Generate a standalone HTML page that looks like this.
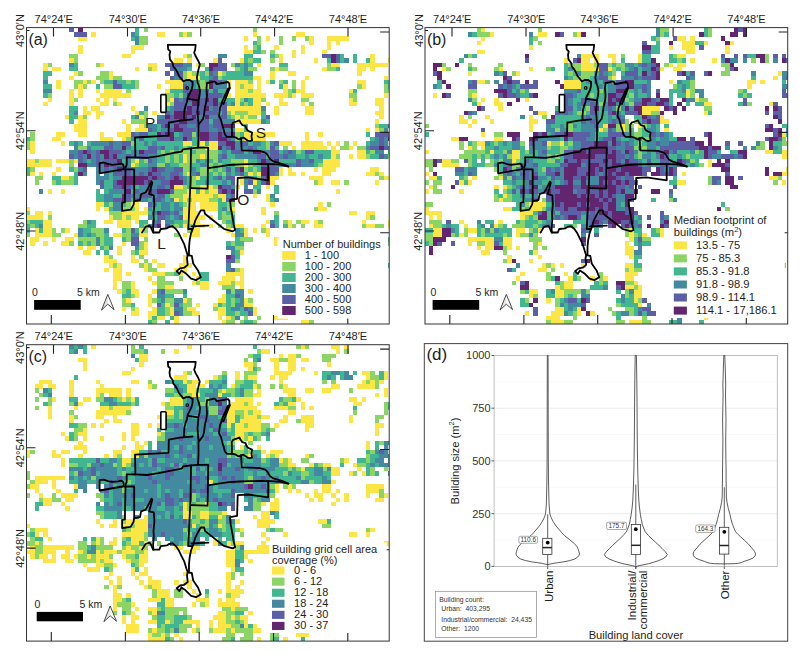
<!DOCTYPE html>
<html><head><meta charset="utf-8"><style>html,body{margin:0;padding:0;background:#fff;width:799px;height:651px;overflow:hidden}svg{display:block}</style></head>
<body><svg width="799" height="651" viewBox="0 0 799 651" font-family="Liberation Sans, sans-serif"><rect width="799" height="651" fill="#fff"/><clipPath id="clipa"><rect x="26.5" y="27.6" width="362.7" height="296.4"/></clipPath><g clip-path="url(#clipa)" shape-rendering="crispEdges"><path fill="#fce645" d="M91.27 32.10h4.41v4.41h-4.41zM161.06 32.10h4.41v4.41h-4.41zM156.70 32.10h4.41v4.41h-4.41zM182.87 32.10h4.41v4.41h-4.41zM252.66 32.10h4.41v4.41h-4.41zM300.65 32.10h4.41v4.41h-4.41zM296.28 32.10h4.41v4.41h-4.41zM78.18 36.46h4.41v4.41h-4.41zM82.55 36.46h4.41v4.41h-4.41zM243.94 36.46h4.41v4.41h-4.41zM265.75 36.46h4.41v4.41h-4.41zM309.37 36.46h4.41v4.41h-4.41zM309.37 40.83h4.41v4.41h-4.41zM326.82 40.83h4.41v4.41h-4.41zM326.82 36.46h4.41v4.41h-4.41zM331.18 36.46h4.41v4.41h-4.41zM335.54 36.46h4.41v4.41h-4.41zM335.54 40.83h4.41v4.41h-4.41zM344.27 36.46h4.41v4.41h-4.41zM339.90 36.46h4.41v4.41h-4.41zM78.18 49.55h4.41v4.41h-4.41zM78.18 45.19h4.41v4.41h-4.41zM130.53 45.19h4.41v4.41h-4.41zM134.89 45.19h4.41v4.41h-4.41zM130.53 49.55h4.41v4.41h-4.41zM139.25 45.19h4.41v4.41h-4.41zM243.94 45.19h4.41v4.41h-4.41zM243.94 49.55h4.41v4.41h-4.41zM248.30 49.55h4.41v4.41h-4.41zM274.47 45.19h4.41v4.41h-4.41zM291.92 49.55h4.41v4.41h-4.41zM300.65 45.19h4.41v4.41h-4.41zM300.65 49.55h4.41v4.41h-4.41zM326.82 45.19h4.41v4.41h-4.41zM322.46 49.55h4.41v4.41h-4.41zM69.46 58.27h4.41v4.41h-4.41zM121.80 53.91h4.41v4.41h-4.41zM126.17 53.91h4.41v4.41h-4.41zM174.15 58.27h4.41v4.41h-4.41zM178.51 58.27h4.41v4.41h-4.41zM182.87 53.91h4.41v4.41h-4.41zM187.23 58.27h4.41v4.41h-4.41zM213.41 58.27h4.41v4.41h-4.41zM239.58 58.27h4.41v4.41h-4.41zM278.84 53.91h4.41v4.41h-4.41zM278.84 58.27h4.41v4.41h-4.41zM291.92 53.91h4.41v4.41h-4.41zM313.73 58.27h4.41v4.41h-4.41zM370.44 53.91h4.41v4.41h-4.41zM370.44 58.27h4.41v4.41h-4.41zM387.89 58.27h4.41v4.41h-4.41zM43.29 62.64h4.41v4.41h-4.41zM43.29 67.00h4.41v4.41h-4.41zM52.01 67.00h4.41v4.41h-4.41zM56.37 67.00h4.41v4.41h-4.41zM99.99 62.64h4.41v4.41h-4.41zM134.89 67.00h4.41v4.41h-4.41zM147.98 62.64h4.41v4.41h-4.41zM152.34 62.64h4.41v4.41h-4.41zM152.34 67.00h4.41v4.41h-4.41zM195.96 62.64h4.41v4.41h-4.41zM257.03 62.64h4.41v4.41h-4.41zM274.47 67.00h4.41v4.41h-4.41zM322.46 67.00h4.41v4.41h-4.41zM331.18 62.64h4.41v4.41h-4.41zM335.54 62.64h4.41v4.41h-4.41zM357.35 62.64h4.41v4.41h-4.41zM361.71 62.64h4.41v4.41h-4.41zM357.35 67.00h4.41v4.41h-4.41zM361.71 67.00h4.41v4.41h-4.41zM366.08 62.64h4.41v4.41h-4.41zM370.44 62.64h4.41v4.41h-4.41zM370.44 67.00h4.41v4.41h-4.41zM374.80 62.64h4.41v4.41h-4.41zM379.16 62.64h4.41v4.41h-4.41zM383.52 62.64h4.41v4.41h-4.41zM73.82 71.36h4.41v4.41h-4.41zM69.46 75.72h4.41v4.41h-4.41zM108.72 71.36h4.41v4.41h-4.41zM108.72 75.72h4.41v4.41h-4.41zM187.23 71.36h4.41v4.41h-4.41zM187.23 75.72h4.41v4.41h-4.41zM191.60 75.72h4.41v4.41h-4.41zM195.96 75.72h4.41v4.41h-4.41zM217.77 71.36h4.41v4.41h-4.41zM252.66 75.72h4.41v4.41h-4.41zM257.03 75.72h4.41v4.41h-4.41zM270.11 71.36h4.41v4.41h-4.41zM270.11 75.72h4.41v4.41h-4.41zM291.92 71.36h4.41v4.41h-4.41zM287.56 71.36h4.41v4.41h-4.41zM305.01 75.72h4.41v4.41h-4.41zM357.35 71.36h4.41v4.41h-4.41zM383.52 75.72h4.41v4.41h-4.41zM56.37 80.08h4.41v4.41h-4.41zM56.37 84.45h4.41v4.41h-4.41zM82.55 80.08h4.41v4.41h-4.41zM78.18 84.45h4.41v4.41h-4.41zM91.27 80.08h4.41v4.41h-4.41zM156.70 84.45h4.41v4.41h-4.41zM165.42 80.08h4.41v4.41h-4.41zM169.79 80.08h4.41v4.41h-4.41zM169.79 84.45h4.41v4.41h-4.41zM174.15 80.08h4.41v4.41h-4.41zM178.51 80.08h4.41v4.41h-4.41zM174.15 84.45h4.41v4.41h-4.41zM178.51 84.45h4.41v4.41h-4.41zM226.49 84.45h4.41v4.41h-4.41zM226.49 80.08h4.41v4.41h-4.41zM235.22 80.08h4.41v4.41h-4.41zM239.58 80.08h4.41v4.41h-4.41zM235.22 84.45h4.41v4.41h-4.41zM243.94 80.08h4.41v4.41h-4.41zM243.94 84.45h4.41v4.41h-4.41zM248.30 84.45h4.41v4.41h-4.41zM257.03 84.45h4.41v4.41h-4.41zM257.03 80.08h4.41v4.41h-4.41zM265.75 80.08h4.41v4.41h-4.41zM283.20 84.45h4.41v4.41h-4.41zM300.65 84.45h4.41v4.41h-4.41zM300.65 80.08h4.41v4.41h-4.41zM357.35 80.08h4.41v4.41h-4.41zM361.71 80.08h4.41v4.41h-4.41zM361.71 84.45h4.41v4.41h-4.41zM69.46 88.81h4.41v4.41h-4.41zM69.46 93.17h4.41v4.41h-4.41zM78.18 88.81h4.41v4.41h-4.41zM78.18 93.17h4.41v4.41h-4.41zM95.63 88.81h4.41v4.41h-4.41zM99.99 93.17h4.41v4.41h-4.41zM104.36 88.81h4.41v4.41h-4.41zM108.72 88.81h4.41v4.41h-4.41zM104.36 93.17h4.41v4.41h-4.41zM108.72 93.17h4.41v4.41h-4.41zM113.08 88.81h4.41v4.41h-4.41zM117.44 88.81h4.41v4.41h-4.41zM113.08 93.17h4.41v4.41h-4.41zM117.44 93.17h4.41v4.41h-4.41zM121.80 93.17h4.41v4.41h-4.41zM126.17 93.17h4.41v4.41h-4.41zM165.42 88.81h4.41v4.41h-4.41zM226.49 93.17h4.41v4.41h-4.41zM235.22 88.81h4.41v4.41h-4.41zM239.58 88.81h4.41v4.41h-4.41zM235.22 93.17h4.41v4.41h-4.41zM239.58 93.17h4.41v4.41h-4.41zM243.94 88.81h4.41v4.41h-4.41zM243.94 93.17h4.41v4.41h-4.41zM248.30 93.17h4.41v4.41h-4.41zM252.66 88.81h4.41v4.41h-4.41zM257.03 88.81h4.41v4.41h-4.41zM252.66 93.17h4.41v4.41h-4.41zM257.03 93.17h4.41v4.41h-4.41zM261.39 93.17h4.41v4.41h-4.41zM274.47 93.17h4.41v4.41h-4.41zM283.20 88.81h4.41v4.41h-4.41zM278.84 93.17h4.41v4.41h-4.41zM283.20 93.17h4.41v4.41h-4.41zM291.92 93.17h4.41v4.41h-4.41zM296.28 88.81h4.41v4.41h-4.41zM300.65 88.81h4.41v4.41h-4.41zM300.65 93.17h4.41v4.41h-4.41zM305.01 93.17h4.41v4.41h-4.41zM309.37 93.17h4.41v4.41h-4.41zM348.63 88.81h4.41v4.41h-4.41zM383.52 93.17h4.41v4.41h-4.41zM43.29 101.89h4.41v4.41h-4.41zM47.65 97.53h4.41v4.41h-4.41zM69.46 97.53h4.41v4.41h-4.41zM69.46 101.89h4.41v4.41h-4.41zM95.63 97.53h4.41v4.41h-4.41zM99.99 101.89h4.41v4.41h-4.41zM104.36 101.89h4.41v4.41h-4.41zM104.36 97.53h4.41v4.41h-4.41zM113.08 97.53h4.41v4.41h-4.41zM117.44 101.89h4.41v4.41h-4.41zM161.06 97.53h4.41v4.41h-4.41zM169.79 97.53h4.41v4.41h-4.41zM165.42 101.89h4.41v4.41h-4.41zM235.22 97.53h4.41v4.41h-4.41zM235.22 101.89h4.41v4.41h-4.41zM252.66 97.53h4.41v4.41h-4.41zM257.03 97.53h4.41v4.41h-4.41zM252.66 101.89h4.41v4.41h-4.41zM257.03 101.89h4.41v4.41h-4.41zM265.75 101.89h4.41v4.41h-4.41zM278.84 97.53h4.41v4.41h-4.41zM278.84 101.89h4.41v4.41h-4.41zM283.20 101.89h4.41v4.41h-4.41zM300.65 101.89h4.41v4.41h-4.41zM348.63 97.53h4.41v4.41h-4.41zM348.63 101.89h4.41v4.41h-4.41zM352.99 101.89h4.41v4.41h-4.41zM374.80 97.53h4.41v4.41h-4.41zM379.16 97.53h4.41v4.41h-4.41zM374.80 101.89h4.41v4.41h-4.41zM379.16 101.89h4.41v4.41h-4.41zM82.55 106.26h4.41v4.41h-4.41zM82.55 110.62h4.41v4.41h-4.41zM86.91 110.62h4.41v4.41h-4.41zM91.27 106.26h4.41v4.41h-4.41zM95.63 106.26h4.41v4.41h-4.41zM95.63 110.62h4.41v4.41h-4.41zM99.99 110.62h4.41v4.41h-4.41zM134.89 110.62h4.41v4.41h-4.41zM130.53 106.26h4.41v4.41h-4.41zM152.34 110.62h4.41v4.41h-4.41zM161.06 106.26h4.41v4.41h-4.41zM226.49 106.26h4.41v4.41h-4.41zM230.85 106.26h4.41v4.41h-4.41zM230.85 110.62h4.41v4.41h-4.41zM235.22 106.26h4.41v4.41h-4.41zM239.58 106.26h4.41v4.41h-4.41zM243.94 106.26h4.41v4.41h-4.41zM248.30 106.26h4.41v4.41h-4.41zM248.30 110.62h4.41v4.41h-4.41zM252.66 106.26h4.41v4.41h-4.41zM257.03 106.26h4.41v4.41h-4.41zM252.66 110.62h4.41v4.41h-4.41zM257.03 110.62h4.41v4.41h-4.41zM274.47 110.62h4.41v4.41h-4.41zM274.47 106.26h4.41v4.41h-4.41zM305.01 106.26h4.41v4.41h-4.41zM309.37 106.26h4.41v4.41h-4.41zM305.01 110.62h4.41v4.41h-4.41zM309.37 110.62h4.41v4.41h-4.41zM379.16 106.26h4.41v4.41h-4.41zM374.80 110.62h4.41v4.41h-4.41zM379.16 110.62h4.41v4.41h-4.41zM65.10 114.98h4.41v4.41h-4.41zM78.18 114.98h4.41v4.41h-4.41zM78.18 119.34h4.41v4.41h-4.41zM82.55 119.34h4.41v4.41h-4.41zM95.63 114.98h4.41v4.41h-4.41zM121.80 119.34h4.41v4.41h-4.41zM139.25 114.98h4.41v4.41h-4.41zM235.22 114.98h4.41v4.41h-4.41zM235.22 119.34h4.41v4.41h-4.41zM239.58 119.34h4.41v4.41h-4.41zM243.94 114.98h4.41v4.41h-4.41zM243.94 119.34h4.41v4.41h-4.41zM248.30 119.34h4.41v4.41h-4.41zM252.66 119.34h4.41v4.41h-4.41zM257.03 119.34h4.41v4.41h-4.41zM374.80 119.34h4.41v4.41h-4.41zM379.16 114.98h4.41v4.41h-4.41zM73.82 123.70h4.41v4.41h-4.41zM73.82 128.07h4.41v4.41h-4.41zM78.18 123.70h4.41v4.41h-4.41zM82.55 123.70h4.41v4.41h-4.41zM78.18 128.07h4.41v4.41h-4.41zM82.55 128.07h4.41v4.41h-4.41zM126.17 128.07h4.41v4.41h-4.41zM126.17 123.70h4.41v4.41h-4.41zM134.89 128.07h4.41v4.41h-4.41zM139.25 123.70h4.41v4.41h-4.41zM139.25 128.07h4.41v4.41h-4.41zM143.61 128.07h4.41v4.41h-4.41zM239.58 128.07h4.41v4.41h-4.41zM235.22 128.07h4.41v4.41h-4.41zM366.08 128.07h4.41v4.41h-4.41zM374.80 128.07h4.41v4.41h-4.41zM56.37 132.43h4.41v4.41h-4.41zM52.01 136.79h4.41v4.41h-4.41zM56.37 136.79h4.41v4.41h-4.41zM60.74 132.43h4.41v4.41h-4.41zM82.55 132.43h4.41v4.41h-4.41zM78.18 132.43h4.41v4.41h-4.41zM99.99 132.43h4.41v4.41h-4.41zM99.99 136.79h4.41v4.41h-4.41zM104.36 136.79h4.41v4.41h-4.41zM108.72 136.79h4.41v4.41h-4.41zM117.44 132.43h4.41v4.41h-4.41zM121.80 132.43h4.41v4.41h-4.41zM126.17 132.43h4.41v4.41h-4.41zM121.80 136.79h4.41v4.41h-4.41zM243.94 132.43h4.41v4.41h-4.41zM248.30 132.43h4.41v4.41h-4.41zM243.94 136.79h4.41v4.41h-4.41zM248.30 136.79h4.41v4.41h-4.41zM252.66 132.43h4.41v4.41h-4.41zM257.03 132.43h4.41v4.41h-4.41zM252.66 136.79h4.41v4.41h-4.41zM257.03 136.79h4.41v4.41h-4.41zM261.39 132.43h4.41v4.41h-4.41zM265.75 132.43h4.41v4.41h-4.41zM261.39 136.79h4.41v4.41h-4.41zM270.11 132.43h4.41v4.41h-4.41zM305.01 132.43h4.41v4.41h-4.41zM305.01 136.79h4.41v4.41h-4.41zM318.09 132.43h4.41v4.41h-4.41zM30.20 141.15h4.41v4.41h-4.41zM30.20 145.51h4.41v4.41h-4.41zM60.74 141.15h4.41v4.41h-4.41zM182.87 141.15h4.41v4.41h-4.41zM187.23 141.15h4.41v4.41h-4.41zM200.32 141.15h4.41v4.41h-4.41zM204.68 145.51h4.41v4.41h-4.41zM209.04 141.15h4.41v4.41h-4.41zM213.41 141.15h4.41v4.41h-4.41zM209.04 145.51h4.41v4.41h-4.41zM213.41 145.51h4.41v4.41h-4.41zM278.84 141.15h4.41v4.41h-4.41zM283.20 141.15h4.41v4.41h-4.41zM287.56 141.15h4.41v4.41h-4.41zM291.92 145.51h4.41v4.41h-4.41zM300.65 145.51h4.41v4.41h-4.41zM300.65 141.15h4.41v4.41h-4.41zM305.01 141.15h4.41v4.41h-4.41zM309.37 141.15h4.41v4.41h-4.41zM305.01 145.51h4.41v4.41h-4.41zM309.37 145.51h4.41v4.41h-4.41zM313.73 141.15h4.41v4.41h-4.41zM318.09 141.15h4.41v4.41h-4.41zM313.73 145.51h4.41v4.41h-4.41zM318.09 145.51h4.41v4.41h-4.41zM326.82 141.15h4.41v4.41h-4.41zM322.46 145.51h4.41v4.41h-4.41zM331.18 145.51h4.41v4.41h-4.41zM335.54 141.15h4.41v4.41h-4.41zM352.99 141.15h4.41v4.41h-4.41zM348.63 145.51h4.41v4.41h-4.41zM30.20 149.88h4.41v4.41h-4.41zM182.87 154.24h4.41v4.41h-4.41zM200.32 154.24h4.41v4.41h-4.41zM331.18 149.88h4.41v4.41h-4.41zM335.54 149.88h4.41v4.41h-4.41zM331.18 154.24h4.41v4.41h-4.41zM348.63 154.24h4.41v4.41h-4.41zM357.35 149.88h4.41v4.41h-4.41zM361.71 149.88h4.41v4.41h-4.41zM357.35 154.24h4.41v4.41h-4.41zM361.71 154.24h4.41v4.41h-4.41zM25.84 158.60h4.41v4.41h-4.41zM30.20 158.60h4.41v4.41h-4.41zM25.84 162.96h4.41v4.41h-4.41zM30.20 162.96h4.41v4.41h-4.41zM38.93 158.60h4.41v4.41h-4.41zM34.56 162.96h4.41v4.41h-4.41zM38.93 162.96h4.41v4.41h-4.41zM43.29 158.60h4.41v4.41h-4.41zM47.65 158.60h4.41v4.41h-4.41zM43.29 162.96h4.41v4.41h-4.41zM47.65 162.96h4.41v4.41h-4.41zM56.37 158.60h4.41v4.41h-4.41zM65.10 158.60h4.41v4.41h-4.41zM60.74 158.60h4.41v4.41h-4.41zM73.82 158.60h4.41v4.41h-4.41zM134.89 158.60h4.41v4.41h-4.41zM130.53 162.96h4.41v4.41h-4.41zM182.87 158.60h4.41v4.41h-4.41zM243.94 158.60h4.41v4.41h-4.41zM243.94 162.96h4.41v4.41h-4.41zM322.46 158.60h4.41v4.41h-4.41zM326.82 158.60h4.41v4.41h-4.41zM322.46 162.96h4.41v4.41h-4.41zM326.82 162.96h4.41v4.41h-4.41zM331.18 158.60h4.41v4.41h-4.41zM335.54 158.60h4.41v4.41h-4.41zM331.18 162.96h4.41v4.41h-4.41zM335.54 162.96h4.41v4.41h-4.41zM30.20 171.69h4.41v4.41h-4.41zM38.93 171.69h4.41v4.41h-4.41zM52.01 171.69h4.41v4.41h-4.41zM56.37 167.32h4.41v4.41h-4.41zM187.23 171.69h4.41v4.41h-4.41zM248.30 171.69h4.41v4.41h-4.41zM257.03 171.69h4.41v4.41h-4.41zM278.84 167.32h4.41v4.41h-4.41zM278.84 171.69h4.41v4.41h-4.41zM287.56 167.32h4.41v4.41h-4.41zM287.56 171.69h4.41v4.41h-4.41zM291.92 171.69h4.41v4.41h-4.41zM300.65 171.69h4.41v4.41h-4.41zM313.73 167.32h4.41v4.41h-4.41zM322.46 167.32h4.41v4.41h-4.41zM326.82 167.32h4.41v4.41h-4.41zM322.46 171.69h4.41v4.41h-4.41zM326.82 171.69h4.41v4.41h-4.41zM331.18 167.32h4.41v4.41h-4.41zM370.44 167.32h4.41v4.41h-4.41zM366.08 171.69h4.41v4.41h-4.41zM370.44 171.69h4.41v4.41h-4.41zM374.80 167.32h4.41v4.41h-4.41zM379.16 171.69h4.41v4.41h-4.41zM60.74 176.05h4.41v4.41h-4.41zM65.10 176.05h4.41v4.41h-4.41zM195.96 176.05h4.41v4.41h-4.41zM239.58 176.05h4.41v4.41h-4.41zM239.58 180.41h4.41v4.41h-4.41zM252.66 180.41h4.41v4.41h-4.41zM270.11 176.05h4.41v4.41h-4.41zM274.47 176.05h4.41v4.41h-4.41zM270.11 180.41h4.41v4.41h-4.41zM309.37 176.05h4.41v4.41h-4.41zM313.73 176.05h4.41v4.41h-4.41zM318.09 176.05h4.41v4.41h-4.41zM318.09 180.41h4.41v4.41h-4.41zM331.18 180.41h4.41v4.41h-4.41zM335.54 180.41h4.41v4.41h-4.41zM374.80 180.41h4.41v4.41h-4.41zM383.52 176.05h4.41v4.41h-4.41zM387.89 176.05h4.41v4.41h-4.41zM47.65 189.13h4.41v4.41h-4.41zM60.74 189.13h4.41v4.41h-4.41zM174.15 184.77h4.41v4.41h-4.41zM178.51 184.77h4.41v4.41h-4.41zM187.23 189.13h4.41v4.41h-4.41zM191.60 189.13h4.41v4.41h-4.41zM200.32 184.77h4.41v4.41h-4.41zM204.68 184.77h4.41v4.41h-4.41zM200.32 189.13h4.41v4.41h-4.41zM209.04 184.77h4.41v4.41h-4.41zM209.04 189.13h4.41v4.41h-4.41zM213.41 189.13h4.41v4.41h-4.41zM235.22 184.77h4.41v4.41h-4.41zM265.75 184.77h4.41v4.41h-4.41zM335.54 189.13h4.41v4.41h-4.41zM174.15 197.86h4.41v4.41h-4.41zM182.87 193.50h4.41v4.41h-4.41zM187.23 193.50h4.41v4.41h-4.41zM182.87 197.86h4.41v4.41h-4.41zM191.60 193.50h4.41v4.41h-4.41zM195.96 193.50h4.41v4.41h-4.41zM191.60 197.86h4.41v4.41h-4.41zM195.96 197.86h4.41v4.41h-4.41zM200.32 193.50h4.41v4.41h-4.41zM204.68 193.50h4.41v4.41h-4.41zM200.32 197.86h4.41v4.41h-4.41zM204.68 197.86h4.41v4.41h-4.41zM209.04 193.50h4.41v4.41h-4.41zM217.77 193.50h4.41v4.41h-4.41zM222.13 193.50h4.41v4.41h-4.41zM222.13 197.86h4.41v4.41h-4.41zM252.66 193.50h4.41v4.41h-4.41zM265.75 197.86h4.41v4.41h-4.41zM265.75 193.50h4.41v4.41h-4.41zM25.84 206.58h4.41v4.41h-4.41zM95.63 202.22h4.41v4.41h-4.41zM99.99 202.22h4.41v4.41h-4.41zM95.63 206.58h4.41v4.41h-4.41zM104.36 206.58h4.41v4.41h-4.41zM130.53 202.22h4.41v4.41h-4.41zM134.89 202.22h4.41v4.41h-4.41zM134.89 206.58h4.41v4.41h-4.41zM143.61 206.58h4.41v4.41h-4.41zM187.23 202.22h4.41v4.41h-4.41zM182.87 206.58h4.41v4.41h-4.41zM187.23 206.58h4.41v4.41h-4.41zM191.60 202.22h4.41v4.41h-4.41zM191.60 206.58h4.41v4.41h-4.41zM200.32 202.22h4.41v4.41h-4.41zM204.68 202.22h4.41v4.41h-4.41zM200.32 206.58h4.41v4.41h-4.41zM204.68 206.58h4.41v4.41h-4.41zM209.04 202.22h4.41v4.41h-4.41zM213.41 202.22h4.41v4.41h-4.41zM209.04 206.58h4.41v4.41h-4.41zM213.41 206.58h4.41v4.41h-4.41zM230.85 206.58h4.41v4.41h-4.41zM261.39 206.58h4.41v4.41h-4.41zM270.11 202.22h4.41v4.41h-4.41zM318.09 202.22h4.41v4.41h-4.41zM318.09 206.58h4.41v4.41h-4.41zM322.46 206.58h4.41v4.41h-4.41zM25.84 215.31h4.41v4.41h-4.41zM30.20 215.31h4.41v4.41h-4.41zM34.56 210.94h4.41v4.41h-4.41zM38.93 210.94h4.41v4.41h-4.41zM34.56 215.31h4.41v4.41h-4.41zM38.93 215.31h4.41v4.41h-4.41zM47.65 210.94h4.41v4.41h-4.41zM108.72 215.31h4.41v4.41h-4.41zM121.80 210.94h4.41v4.41h-4.41zM126.17 210.94h4.41v4.41h-4.41zM121.80 215.31h4.41v4.41h-4.41zM130.53 210.94h4.41v4.41h-4.41zM134.89 210.94h4.41v4.41h-4.41zM130.53 215.31h4.41v4.41h-4.41zM134.89 215.31h4.41v4.41h-4.41zM139.25 210.94h4.41v4.41h-4.41zM143.61 210.94h4.41v4.41h-4.41zM182.87 210.94h4.41v4.41h-4.41zM187.23 210.94h4.41v4.41h-4.41zM182.87 215.31h4.41v4.41h-4.41zM187.23 215.31h4.41v4.41h-4.41zM191.60 210.94h4.41v4.41h-4.41zM195.96 210.94h4.41v4.41h-4.41zM191.60 215.31h4.41v4.41h-4.41zM195.96 215.31h4.41v4.41h-4.41zM200.32 215.31h4.41v4.41h-4.41zM209.04 215.31h4.41v4.41h-4.41zM261.39 210.94h4.41v4.41h-4.41zM352.99 210.94h4.41v4.41h-4.41zM348.63 210.94h4.41v4.41h-4.41zM366.08 210.94h4.41v4.41h-4.41zM370.44 210.94h4.41v4.41h-4.41zM366.08 215.31h4.41v4.41h-4.41zM43.29 219.67h4.41v4.41h-4.41zM47.65 219.67h4.41v4.41h-4.41zM43.29 224.03h4.41v4.41h-4.41zM47.65 224.03h4.41v4.41h-4.41zM108.72 219.67h4.41v4.41h-4.41zM104.36 219.67h4.41v4.41h-4.41zM117.44 224.03h4.41v4.41h-4.41zM117.44 219.67h4.41v4.41h-4.41zM121.80 219.67h4.41v4.41h-4.41zM126.17 219.67h4.41v4.41h-4.41zM121.80 224.03h4.41v4.41h-4.41zM126.17 224.03h4.41v4.41h-4.41zM134.89 219.67h4.41v4.41h-4.41zM187.23 219.67h4.41v4.41h-4.41zM182.87 224.03h4.41v4.41h-4.41zM191.60 219.67h4.41v4.41h-4.41zM195.96 219.67h4.41v4.41h-4.41zM195.96 224.03h4.41v4.41h-4.41zM200.32 224.03h4.41v4.41h-4.41zM209.04 224.03h4.41v4.41h-4.41zM239.58 224.03h4.41v4.41h-4.41zM235.22 224.03h4.41v4.41h-4.41zM265.75 219.67h4.41v4.41h-4.41zM261.39 224.03h4.41v4.41h-4.41zM287.56 219.67h4.41v4.41h-4.41zM287.56 224.03h4.41v4.41h-4.41zM300.65 219.67h4.41v4.41h-4.41zM305.01 219.67h4.41v4.41h-4.41zM313.73 219.67h4.41v4.41h-4.41zM313.73 224.03h4.41v4.41h-4.41zM318.09 224.03h4.41v4.41h-4.41zM361.71 219.67h4.41v4.41h-4.41zM366.08 224.03h4.41v4.41h-4.41zM370.44 224.03h4.41v4.41h-4.41zM387.89 219.67h4.41v4.41h-4.41zM387.89 224.03h4.41v4.41h-4.41zM34.56 228.39h4.41v4.41h-4.41zM34.56 232.75h4.41v4.41h-4.41zM38.93 232.75h4.41v4.41h-4.41zM43.29 228.39h4.41v4.41h-4.41zM47.65 228.39h4.41v4.41h-4.41zM43.29 232.75h4.41v4.41h-4.41zM47.65 232.75h4.41v4.41h-4.41zM65.10 228.39h4.41v4.41h-4.41zM73.82 232.75h4.41v4.41h-4.41zM117.44 232.75h4.41v4.41h-4.41zM113.08 232.75h4.41v4.41h-4.41zM139.25 228.39h4.41v4.41h-4.41zM139.25 232.75h4.41v4.41h-4.41zM143.61 232.75h4.41v4.41h-4.41zM182.87 232.75h4.41v4.41h-4.41zM191.60 228.39h4.41v4.41h-4.41zM195.96 228.39h4.41v4.41h-4.41zM191.60 232.75h4.41v4.41h-4.41zM195.96 232.75h4.41v4.41h-4.41zM226.49 228.39h4.41v4.41h-4.41zM230.85 232.75h4.41v4.41h-4.41zM243.94 228.39h4.41v4.41h-4.41zM243.94 232.75h4.41v4.41h-4.41zM252.66 228.39h4.41v4.41h-4.41zM265.75 228.39h4.41v4.41h-4.41zM265.75 232.75h4.41v4.41h-4.41zM30.20 237.12h4.41v4.41h-4.41zM30.20 241.48h4.41v4.41h-4.41zM34.56 237.12h4.41v4.41h-4.41zM43.29 241.48h4.41v4.41h-4.41zM52.01 237.12h4.41v4.41h-4.41zM65.10 237.12h4.41v4.41h-4.41zM60.74 241.48h4.41v4.41h-4.41zM65.10 241.48h4.41v4.41h-4.41zM69.46 237.12h4.41v4.41h-4.41zM121.80 241.48h4.41v4.41h-4.41zM143.61 241.48h4.41v4.41h-4.41zM274.47 237.12h4.41v4.41h-4.41zM274.47 241.48h4.41v4.41h-4.41zM78.18 245.84h4.41v4.41h-4.41zM82.55 250.20h4.41v4.41h-4.41zM86.91 245.84h4.41v4.41h-4.41zM91.27 245.84h4.41v4.41h-4.41zM86.91 250.20h4.41v4.41h-4.41zM117.44 245.84h4.41v4.41h-4.41zM117.44 250.20h4.41v4.41h-4.41zM143.61 245.84h4.41v4.41h-4.41zM139.25 250.20h4.41v4.41h-4.41zM143.61 250.20h4.41v4.41h-4.41zM239.58 250.20h4.41v4.41h-4.41zM104.36 254.56h4.41v4.41h-4.41zM104.36 258.93h4.41v4.41h-4.41zM108.72 258.93h4.41v4.41h-4.41zM113.08 258.93h4.41v4.41h-4.41zM130.53 254.56h4.41v4.41h-4.41zM130.53 258.93h4.41v4.41h-4.41zM134.89 258.93h4.41v4.41h-4.41zM152.34 258.93h4.41v4.41h-4.41zM182.87 258.93h4.41v4.41h-4.41zM182.87 254.56h4.41v4.41h-4.41zM104.36 267.65h4.41v4.41h-4.41zM108.72 263.29h4.41v4.41h-4.41zM117.44 263.29h4.41v4.41h-4.41zM113.08 267.65h4.41v4.41h-4.41zM117.44 267.65h4.41v4.41h-4.41zM143.61 263.29h4.41v4.41h-4.41zM143.61 267.65h4.41v4.41h-4.41zM156.70 263.29h4.41v4.41h-4.41zM161.06 263.29h4.41v4.41h-4.41zM174.15 267.65h4.41v4.41h-4.41zM178.51 263.29h4.41v4.41h-4.41zM182.87 263.29h4.41v4.41h-4.41zM187.23 263.29h4.41v4.41h-4.41zM182.87 267.65h4.41v4.41h-4.41zM239.58 267.65h4.41v4.41h-4.41zM113.08 272.01h4.41v4.41h-4.41zM117.44 272.01h4.41v4.41h-4.41zM113.08 276.37h4.41v4.41h-4.41zM117.44 276.37h4.41v4.41h-4.41zM126.17 272.01h4.41v4.41h-4.41zM152.34 272.01h4.41v4.41h-4.41zM147.98 276.37h4.41v4.41h-4.41zM156.70 272.01h4.41v4.41h-4.41zM161.06 272.01h4.41v4.41h-4.41zM178.51 272.01h4.41v4.41h-4.41zM191.60 272.01h4.41v4.41h-4.41zM195.96 276.37h4.41v4.41h-4.41zM222.13 276.37h4.41v4.41h-4.41zM226.49 272.01h4.41v4.41h-4.41zM230.85 272.01h4.41v4.41h-4.41zM226.49 276.37h4.41v4.41h-4.41zM230.85 276.37h4.41v4.41h-4.41zM235.22 272.01h4.41v4.41h-4.41zM239.58 272.01h4.41v4.41h-4.41zM239.58 276.37h4.41v4.41h-4.41zM113.08 280.74h4.41v4.41h-4.41zM113.08 285.10h4.41v4.41h-4.41zM130.53 285.10h4.41v4.41h-4.41zM130.53 280.74h4.41v4.41h-4.41zM152.34 280.74h4.41v4.41h-4.41zM165.42 285.10h4.41v4.41h-4.41zM169.79 285.10h4.41v4.41h-4.41zM191.60 280.74h4.41v4.41h-4.41zM200.32 280.74h4.41v4.41h-4.41zM204.68 280.74h4.41v4.41h-4.41zM200.32 285.10h4.41v4.41h-4.41zM204.68 285.10h4.41v4.41h-4.41zM217.77 280.74h4.41v4.41h-4.41zM222.13 280.74h4.41v4.41h-4.41zM226.49 280.74h4.41v4.41h-4.41zM235.22 280.74h4.41v4.41h-4.41zM239.58 280.74h4.41v4.41h-4.41zM239.58 285.10h4.41v4.41h-4.41zM117.44 289.46h4.41v4.41h-4.41zM130.53 289.46h4.41v4.41h-4.41zM134.89 289.46h4.41v4.41h-4.41zM134.89 293.82h4.41v4.41h-4.41zM152.34 289.46h4.41v4.41h-4.41zM147.98 293.82h4.41v4.41h-4.41zM222.13 293.82h4.41v4.41h-4.41zM248.30 289.46h4.41v4.41h-4.41zM126.17 298.18h4.41v4.41h-4.41zM147.98 298.18h4.41v4.41h-4.41zM147.98 302.55h4.41v4.41h-4.41zM165.42 302.55h4.41v4.41h-4.41zM182.87 298.18h4.41v4.41h-4.41zM195.96 302.55h4.41v4.41h-4.41zM213.41 302.55h4.41v4.41h-4.41zM217.77 298.18h4.41v4.41h-4.41zM222.13 298.18h4.41v4.41h-4.41zM243.94 298.18h4.41v4.41h-4.41zM243.94 302.55h4.41v4.41h-4.41zM248.30 302.55h4.41v4.41h-4.41zM121.80 306.91h4.41v4.41h-4.41zM134.89 306.91h4.41v4.41h-4.41zM130.53 311.27h4.41v4.41h-4.41zM134.89 311.27h4.41v4.41h-4.41zM152.34 306.91h4.41v4.41h-4.41zM147.98 311.27h4.41v4.41h-4.41zM152.34 311.27h4.41v4.41h-4.41zM169.79 306.91h4.41v4.41h-4.41zM169.79 311.27h4.41v4.41h-4.41zM187.23 306.91h4.41v4.41h-4.41zM191.60 306.91h4.41v4.41h-4.41zM191.60 311.27h4.41v4.41h-4.41zM195.96 311.27h4.41v4.41h-4.41zM217.77 306.91h4.41v4.41h-4.41zM222.13 306.91h4.41v4.41h-4.41zM217.77 311.27h4.41v4.41h-4.41zM222.13 311.27h4.41v4.41h-4.41zM252.66 306.91h4.41v4.41h-4.41zM252.66 311.27h4.41v4.41h-4.41zM147.98 315.63h4.41v4.41h-4.41zM156.70 315.63h4.41v4.41h-4.41zM161.06 315.63h4.41v4.41h-4.41zM174.15 315.63h4.41v4.41h-4.41zM174.15 319.99h4.41v4.41h-4.41zM217.77 315.63h4.41v4.41h-4.41zM222.13 319.99h4.41v4.41h-4.41zM226.49 315.63h4.41v4.41h-4.41zM274.47 315.63h4.41v4.41h-4.41zM283.20 315.63h4.41v4.41h-4.41zM278.84 315.63h4.41v4.41h-4.41zM300.65 319.99h4.41v4.41h-4.41zM305.01 319.99h4.41v4.41h-4.41z"/><path fill="#8bd567" d="M143.61 27.74h4.41v4.41h-4.41zM178.51 32.10h4.41v4.41h-4.41zM187.23 32.10h4.41v4.41h-4.41zM252.66 27.74h4.41v4.41h-4.41zM139.25 36.46h4.41v4.41h-4.41zM143.61 36.46h4.41v4.41h-4.41zM139.25 40.83h4.41v4.41h-4.41zM143.61 40.83h4.41v4.41h-4.41zM257.03 36.46h4.41v4.41h-4.41zM257.03 40.83h4.41v4.41h-4.41zM278.84 36.46h4.41v4.41h-4.41zM278.84 40.83h4.41v4.41h-4.41zM291.92 36.46h4.41v4.41h-4.41zM305.01 36.46h4.41v4.41h-4.41zM252.66 45.19h4.41v4.41h-4.41zM261.39 49.55h4.41v4.41h-4.41zM270.11 49.55h4.41v4.41h-4.41zM69.46 53.91h4.41v4.41h-4.41zM73.82 53.91h4.41v4.41h-4.41zM73.82 58.27h4.41v4.41h-4.41zM187.23 53.91h4.41v4.41h-4.41zM248.30 58.27h4.41v4.41h-4.41zM274.47 53.91h4.41v4.41h-4.41zM270.11 58.27h4.41v4.41h-4.41zM47.65 62.64h4.41v4.41h-4.41zM95.63 62.64h4.41v4.41h-4.41zM147.98 67.00h4.41v4.41h-4.41zM200.32 62.64h4.41v4.41h-4.41zM230.85 62.64h4.41v4.41h-4.41zM235.22 67.00h4.41v4.41h-4.41zM248.30 67.00h4.41v4.41h-4.41zM252.66 67.00h4.41v4.41h-4.41zM270.11 67.00h4.41v4.41h-4.41zM278.84 67.00h4.41v4.41h-4.41zM283.20 67.00h4.41v4.41h-4.41zM326.82 62.64h4.41v4.41h-4.41zM326.82 67.00h4.41v4.41h-4.41zM331.18 67.00h4.41v4.41h-4.41zM78.18 71.36h4.41v4.41h-4.41zM99.99 71.36h4.41v4.41h-4.41zM95.63 75.72h4.41v4.41h-4.41zM99.99 75.72h4.41v4.41h-4.41zM104.36 71.36h4.41v4.41h-4.41zM104.36 75.72h4.41v4.41h-4.41zM113.08 75.72h4.41v4.41h-4.41zM117.44 75.72h4.41v4.41h-4.41zM182.87 71.36h4.41v4.41h-4.41zM182.87 75.72h4.41v4.41h-4.41zM191.60 71.36h4.41v4.41h-4.41zM195.96 71.36h4.41v4.41h-4.41zM204.68 71.36h4.41v4.41h-4.41zM222.13 71.36h4.41v4.41h-4.41zM217.77 75.72h4.41v4.41h-4.41zM73.82 80.08h4.41v4.41h-4.41zM73.82 84.45h4.41v4.41h-4.41zM78.18 80.08h4.41v4.41h-4.41zM82.55 84.45h4.41v4.41h-4.41zM86.91 80.08h4.41v4.41h-4.41zM99.99 80.08h4.41v4.41h-4.41zM104.36 84.45h4.41v4.41h-4.41zM108.72 84.45h4.41v4.41h-4.41zM126.17 80.08h4.41v4.41h-4.41zM134.89 80.08h4.41v4.41h-4.41zM134.89 84.45h4.41v4.41h-4.41zM200.32 80.08h4.41v4.41h-4.41zM200.32 84.45h4.41v4.41h-4.41zM204.68 84.45h4.41v4.41h-4.41zM239.58 84.45h4.41v4.41h-4.41zM248.30 80.08h4.41v4.41h-4.41zM278.84 80.08h4.41v4.41h-4.41zM291.92 80.08h4.41v4.41h-4.41zM291.92 84.45h4.41v4.41h-4.41zM357.35 84.45h4.41v4.41h-4.41zM383.52 84.45h4.41v4.41h-4.41zM47.65 93.17h4.41v4.41h-4.41zM126.17 88.81h4.41v4.41h-4.41zM165.42 93.17h4.41v4.41h-4.41zM169.79 93.17h4.41v4.41h-4.41zM178.51 93.17h4.41v4.41h-4.41zM248.30 88.81h4.41v4.41h-4.41zM287.56 88.81h4.41v4.41h-4.41zM287.56 93.17h4.41v4.41h-4.41zM348.63 93.17h4.41v4.41h-4.41zM352.99 93.17h4.41v4.41h-4.41zM383.52 88.81h4.41v4.41h-4.41zM387.89 88.81h4.41v4.41h-4.41zM73.82 97.53h4.41v4.41h-4.41zM113.08 101.89h4.41v4.41h-4.41zM165.42 97.53h4.41v4.41h-4.41zM169.79 101.89h4.41v4.41h-4.41zM239.58 97.53h4.41v4.41h-4.41zM243.94 101.89h4.41v4.41h-4.41zM261.39 97.53h4.41v4.41h-4.41zM300.65 97.53h4.41v4.41h-4.41zM305.01 97.53h4.41v4.41h-4.41zM309.37 101.89h4.41v4.41h-4.41zM352.99 97.53h4.41v4.41h-4.41zM143.61 110.62h4.41v4.41h-4.41zM226.49 110.62h4.41v4.41h-4.41zM235.22 110.62h4.41v4.41h-4.41zM239.58 110.62h4.41v4.41h-4.41zM243.94 110.62h4.41v4.41h-4.41zM82.55 114.98h4.41v4.41h-4.41zM130.53 119.34h4.41v4.41h-4.41zM134.89 119.34h4.41v4.41h-4.41zM143.61 114.98h4.41v4.41h-4.41zM139.25 119.34h4.41v4.41h-4.41zM143.61 119.34h4.41v4.41h-4.41zM230.85 114.98h4.41v4.41h-4.41zM239.58 114.98h4.41v4.41h-4.41zM248.30 114.98h4.41v4.41h-4.41zM252.66 114.98h4.41v4.41h-4.41zM143.61 123.70h4.41v4.41h-4.41zM374.80 123.70h4.41v4.41h-4.41zM379.16 128.07h4.41v4.41h-4.41zM30.20 132.43h4.41v4.41h-4.41zM30.20 136.79h4.41v4.41h-4.41zM126.17 136.79h4.41v4.41h-4.41zM191.60 132.43h4.41v4.41h-4.41zM235.22 132.43h4.41v4.41h-4.41zM235.22 136.79h4.41v4.41h-4.41zM239.58 136.79h4.41v4.41h-4.41zM25.84 141.15h4.41v4.41h-4.41zM25.84 145.51h4.41v4.41h-4.41zM78.18 145.51h4.41v4.41h-4.41zM82.55 145.51h4.41v4.41h-4.41zM130.53 141.15h4.41v4.41h-4.41zM182.87 145.51h4.41v4.41h-4.41zM191.60 145.51h4.41v4.41h-4.41zM195.96 145.51h4.41v4.41h-4.41zM200.32 145.51h4.41v4.41h-4.41zM265.75 141.15h4.41v4.41h-4.41zM265.75 145.51h4.41v4.41h-4.41zM283.20 145.51h4.41v4.41h-4.41zM344.27 141.15h4.41v4.41h-4.41zM339.90 145.51h4.41v4.41h-4.41zM344.27 145.51h4.41v4.41h-4.41zM357.35 145.51h4.41v4.41h-4.41zM361.71 145.51h4.41v4.41h-4.41zM161.06 149.88h4.41v4.41h-4.41zM169.79 149.88h4.41v4.41h-4.41zM165.42 154.24h4.41v4.41h-4.41zM178.51 149.88h4.41v4.41h-4.41zM174.15 154.24h4.41v4.41h-4.41zM182.87 149.88h4.41v4.41h-4.41zM187.23 149.88h4.41v4.41h-4.41zM187.23 154.24h4.41v4.41h-4.41zM195.96 149.88h4.41v4.41h-4.41zM191.60 154.24h4.41v4.41h-4.41zM195.96 154.24h4.41v4.41h-4.41zM200.32 149.88h4.41v4.41h-4.41zM204.68 149.88h4.41v4.41h-4.41zM204.68 154.24h4.41v4.41h-4.41zM209.04 149.88h4.41v4.41h-4.41zM213.41 149.88h4.41v4.41h-4.41zM209.04 154.24h4.41v4.41h-4.41zM213.41 154.24h4.41v4.41h-4.41zM296.28 149.88h4.41v4.41h-4.41zM335.54 154.24h4.41v4.41h-4.41zM370.44 149.88h4.41v4.41h-4.41zM366.08 154.24h4.41v4.41h-4.41zM387.89 154.24h4.41v4.41h-4.41zM34.56 158.60h4.41v4.41h-4.41zM69.46 158.60h4.41v4.41h-4.41zM69.46 162.96h4.41v4.41h-4.41zM130.53 158.60h4.41v4.41h-4.41zM134.89 162.96h4.41v4.41h-4.41zM143.61 158.60h4.41v4.41h-4.41zM156.70 162.96h4.41v4.41h-4.41zM161.06 162.96h4.41v4.41h-4.41zM165.42 158.60h4.41v4.41h-4.41zM174.15 158.60h4.41v4.41h-4.41zM178.51 162.96h4.41v4.41h-4.41zM187.23 158.60h4.41v4.41h-4.41zM182.87 162.96h4.41v4.41h-4.41zM187.23 162.96h4.41v4.41h-4.41zM191.60 158.60h4.41v4.41h-4.41zM213.41 158.60h4.41v4.41h-4.41zM209.04 162.96h4.41v4.41h-4.41zM217.77 162.96h4.41v4.41h-4.41zM230.85 158.60h4.41v4.41h-4.41zM235.22 158.60h4.41v4.41h-4.41zM239.58 158.60h4.41v4.41h-4.41zM235.22 162.96h4.41v4.41h-4.41zM239.58 162.96h4.41v4.41h-4.41zM248.30 162.96h4.41v4.41h-4.41zM318.09 162.96h4.41v4.41h-4.41zM30.20 167.32h4.41v4.41h-4.41zM73.82 167.32h4.41v4.41h-4.41zM182.87 167.32h4.41v4.41h-4.41zM187.23 167.32h4.41v4.41h-4.41zM182.87 171.69h4.41v4.41h-4.41zM200.32 167.32h4.41v4.41h-4.41zM204.68 167.32h4.41v4.41h-4.41zM200.32 171.69h4.41v4.41h-4.41zM204.68 171.69h4.41v4.41h-4.41zM209.04 167.32h4.41v4.41h-4.41zM213.41 171.69h4.41v4.41h-4.41zM217.77 167.32h4.41v4.41h-4.41zM222.13 171.69h4.41v4.41h-4.41zM243.94 167.32h4.41v4.41h-4.41zM252.66 167.32h4.41v4.41h-4.41zM252.66 171.69h4.41v4.41h-4.41zM374.80 171.69h4.41v4.41h-4.41zM34.56 176.05h4.41v4.41h-4.41zM38.93 176.05h4.41v4.41h-4.41zM34.56 180.41h4.41v4.41h-4.41zM52.01 180.41h4.41v4.41h-4.41zM60.74 180.41h4.41v4.41h-4.41zM65.10 180.41h4.41v4.41h-4.41zM69.46 176.05h4.41v4.41h-4.41zM69.46 180.41h4.41v4.41h-4.41zM191.60 176.05h4.41v4.41h-4.41zM191.60 180.41h4.41v4.41h-4.41zM257.03 176.05h4.41v4.41h-4.41zM313.73 180.41h4.41v4.41h-4.41zM344.27 180.41h4.41v4.41h-4.41zM379.16 176.05h4.41v4.41h-4.41zM174.15 189.13h4.41v4.41h-4.41zM178.51 189.13h4.41v4.41h-4.41zM182.87 184.77h4.41v4.41h-4.41zM182.87 189.13h4.41v4.41h-4.41zM191.60 184.77h4.41v4.41h-4.41zM195.96 184.77h4.41v4.41h-4.41zM204.68 189.13h4.41v4.41h-4.41zM213.41 184.77h4.41v4.41h-4.41zM252.66 189.13h4.41v4.41h-4.41zM169.79 193.50h4.41v4.41h-4.41zM174.15 193.50h4.41v4.41h-4.41zM178.51 193.50h4.41v4.41h-4.41zM178.51 197.86h4.41v4.41h-4.41zM187.23 197.86h4.41v4.41h-4.41zM213.41 193.50h4.41v4.41h-4.41zM209.04 197.86h4.41v4.41h-4.41zM213.41 197.86h4.41v4.41h-4.41zM108.72 202.22h4.41v4.41h-4.41zM126.17 202.22h4.41v4.41h-4.41zM121.80 206.58h4.41v4.41h-4.41zM126.17 206.58h4.41v4.41h-4.41zM130.53 206.58h4.41v4.41h-4.41zM182.87 202.22h4.41v4.41h-4.41zM226.49 202.22h4.41v4.41h-4.41zM230.85 202.22h4.41v4.41h-4.41zM226.49 206.58h4.41v4.41h-4.41zM313.73 206.58h4.41v4.41h-4.41zM326.82 202.22h4.41v4.41h-4.41zM25.84 210.94h4.41v4.41h-4.41zM47.65 215.31h4.41v4.41h-4.41zM108.72 210.94h4.41v4.41h-4.41zM113.08 210.94h4.41v4.41h-4.41zM117.44 210.94h4.41v4.41h-4.41zM113.08 215.31h4.41v4.41h-4.41zM117.44 215.31h4.41v4.41h-4.41zM126.17 215.31h4.41v4.41h-4.41zM222.13 210.94h4.41v4.41h-4.41zM222.13 215.31h4.41v4.41h-4.41zM230.85 210.94h4.41v4.41h-4.41zM226.49 215.31h4.41v4.41h-4.41zM274.47 210.94h4.41v4.41h-4.41zM370.44 215.31h4.41v4.41h-4.41zM25.84 219.67h4.41v4.41h-4.41zM30.20 224.03h4.41v4.41h-4.41zM82.55 219.67h4.41v4.41h-4.41zM78.18 224.03h4.41v4.41h-4.41zM82.55 224.03h4.41v4.41h-4.41zM143.61 224.03h4.41v4.41h-4.41zM174.15 224.03h4.41v4.41h-4.41zM182.87 219.67h4.41v4.41h-4.41zM187.23 224.03h4.41v4.41h-4.41zM191.60 224.03h4.41v4.41h-4.41zM222.13 219.67h4.41v4.41h-4.41zM217.77 224.03h4.41v4.41h-4.41zM226.49 224.03h4.41v4.41h-4.41zM283.20 219.67h4.41v4.41h-4.41zM291.92 224.03h4.41v4.41h-4.41zM296.28 219.67h4.41v4.41h-4.41zM300.65 224.03h4.41v4.41h-4.41zM318.09 219.67h4.41v4.41h-4.41zM361.71 224.03h4.41v4.41h-4.41zM374.80 224.03h4.41v4.41h-4.41zM379.16 224.03h4.41v4.41h-4.41zM25.84 232.75h4.41v4.41h-4.41zM52.01 228.39h4.41v4.41h-4.41zM52.01 232.75h4.41v4.41h-4.41zM56.37 232.75h4.41v4.41h-4.41zM60.74 228.39h4.41v4.41h-4.41zM91.27 228.39h4.41v4.41h-4.41zM95.63 228.39h4.41v4.41h-4.41zM99.99 228.39h4.41v4.41h-4.41zM95.63 232.75h4.41v4.41h-4.41zM99.99 232.75h4.41v4.41h-4.41zM126.17 228.39h4.41v4.41h-4.41zM121.80 232.75h4.41v4.41h-4.41zM126.17 232.75h4.41v4.41h-4.41zM143.61 228.39h4.41v4.41h-4.41zM174.15 232.75h4.41v4.41h-4.41zM187.23 228.39h4.41v4.41h-4.41zM261.39 228.39h4.41v4.41h-4.41zM69.46 241.48h4.41v4.41h-4.41zM78.18 237.12h4.41v4.41h-4.41zM82.55 237.12h4.41v4.41h-4.41zM82.55 241.48h4.41v4.41h-4.41zM86.91 237.12h4.41v4.41h-4.41zM91.27 237.12h4.41v4.41h-4.41zM91.27 241.48h4.41v4.41h-4.41zM99.99 237.12h4.41v4.41h-4.41zM99.99 241.48h4.41v4.41h-4.41zM126.17 237.12h4.41v4.41h-4.41zM143.61 237.12h4.41v4.41h-4.41zM139.25 241.48h4.41v4.41h-4.41zM230.85 241.48h4.41v4.41h-4.41zM239.58 237.12h4.41v4.41h-4.41zM248.30 237.12h4.41v4.41h-4.41zM243.94 237.12h4.41v4.41h-4.41zM387.89 241.48h4.41v4.41h-4.41zM104.36 245.84h4.41v4.41h-4.41zM130.53 250.20h4.41v4.41h-4.41zM139.25 245.84h4.41v4.41h-4.41zM235.22 245.84h4.41v4.41h-4.41zM239.58 245.84h4.41v4.41h-4.41zM108.72 254.56h4.41v4.41h-4.41zM139.25 254.56h4.41v4.41h-4.41zM143.61 258.93h4.41v4.41h-4.41zM235.22 258.93h4.41v4.41h-4.41zM113.08 263.29h4.41v4.41h-4.41zM139.25 263.29h4.41v4.41h-4.41zM147.98 263.29h4.41v4.41h-4.41zM147.98 267.65h4.41v4.41h-4.41zM152.34 267.65h4.41v4.41h-4.41zM235.22 267.65h4.41v4.41h-4.41zM156.70 276.37h4.41v4.41h-4.41zM161.06 276.37h4.41v4.41h-4.41zM165.42 272.01h4.41v4.41h-4.41zM169.79 272.01h4.41v4.41h-4.41zM178.51 276.37h4.41v4.41h-4.41zM121.80 280.74h4.41v4.41h-4.41zM126.17 280.74h4.41v4.41h-4.41zM121.80 285.10h4.41v4.41h-4.41zM126.17 285.10h4.41v4.41h-4.41zM156.70 280.74h4.41v4.41h-4.41zM161.06 280.74h4.41v4.41h-4.41zM156.70 285.10h4.41v4.41h-4.41zM161.06 285.10h4.41v4.41h-4.41zM165.42 280.74h4.41v4.41h-4.41zM169.79 280.74h4.41v4.41h-4.41zM195.96 280.74h4.41v4.41h-4.41zM222.13 285.10h4.41v4.41h-4.41zM230.85 280.74h4.41v4.41h-4.41zM226.49 285.10h4.41v4.41h-4.41zM230.85 285.10h4.41v4.41h-4.41zM121.80 289.46h4.41v4.41h-4.41zM130.53 293.82h4.41v4.41h-4.41zM165.42 289.46h4.41v4.41h-4.41zM169.79 289.46h4.41v4.41h-4.41zM174.15 289.46h4.41v4.41h-4.41zM178.51 289.46h4.41v4.41h-4.41zM230.85 289.46h4.41v4.41h-4.41zM121.80 298.18h4.41v4.41h-4.41zM121.80 302.55h4.41v4.41h-4.41zM126.17 302.55h4.41v4.41h-4.41zM152.34 298.18h4.41v4.41h-4.41zM165.42 298.18h4.41v4.41h-4.41zM169.79 298.18h4.41v4.41h-4.41zM169.79 302.55h4.41v4.41h-4.41zM187.23 298.18h4.41v4.41h-4.41zM182.87 302.55h4.41v4.41h-4.41zM187.23 302.55h4.41v4.41h-4.41zM222.13 302.55h4.41v4.41h-4.41zM230.85 298.18h4.41v4.41h-4.41zM230.85 302.55h4.41v4.41h-4.41zM248.30 298.18h4.41v4.41h-4.41zM130.53 306.91h4.41v4.41h-4.41zM165.42 306.91h4.41v4.41h-4.41zM165.42 311.27h4.41v4.41h-4.41zM182.87 306.91h4.41v4.41h-4.41zM182.87 311.27h4.41v4.41h-4.41zM187.23 311.27h4.41v4.41h-4.41zM213.41 306.91h4.41v4.41h-4.41zM235.22 311.27h4.41v4.41h-4.41zM152.34 319.99h4.41v4.41h-4.41zM230.85 315.63h4.41v4.41h-4.41zM226.49 319.99h4.41v4.41h-4.41zM230.85 319.99h4.41v4.41h-4.41zM239.58 319.99h4.41v4.41h-4.41zM243.94 315.63h4.41v4.41h-4.41zM257.03 315.63h4.41v4.41h-4.41zM252.66 319.99h4.41v4.41h-4.41zM309.37 319.99h4.41v4.41h-4.41z"/><path fill="#41b690" d="M134.89 27.74h4.41v4.41h-4.41zM134.89 32.10h4.41v4.41h-4.41zM130.53 36.46h4.41v4.41h-4.41zM252.66 40.83h4.41v4.41h-4.41zM257.03 45.19h4.41v4.41h-4.41zM252.66 49.55h4.41v4.41h-4.41zM257.03 49.55h4.41v4.41h-4.41zM243.94 53.91h4.41v4.41h-4.41zM248.30 53.91h4.41v4.41h-4.41zM243.94 58.27h4.41v4.41h-4.41zM252.66 58.27h4.41v4.41h-4.41zM257.03 58.27h4.41v4.41h-4.41zM270.11 53.91h4.41v4.41h-4.41zM326.82 58.27h4.41v4.41h-4.41zM339.90 53.91h4.41v4.41h-4.41zM339.90 58.27h4.41v4.41h-4.41zM352.99 53.91h4.41v4.41h-4.41zM352.99 58.27h4.41v4.41h-4.41zM366.08 58.27h4.41v4.41h-4.41zM73.82 62.64h4.41v4.41h-4.41zM69.46 67.00h4.41v4.41h-4.41zM73.82 67.00h4.41v4.41h-4.41zM187.23 67.00h4.41v4.41h-4.41zM204.68 67.00h4.41v4.41h-4.41zM239.58 62.64h4.41v4.41h-4.41zM239.58 67.00h4.41v4.41h-4.41zM248.30 62.64h4.41v4.41h-4.41zM278.84 62.64h4.41v4.41h-4.41zM283.20 62.64h4.41v4.41h-4.41zM335.54 67.00h4.41v4.41h-4.41zM43.29 71.36h4.41v4.41h-4.41zM47.65 71.36h4.41v4.41h-4.41zM43.29 75.72h4.41v4.41h-4.41zM200.32 71.36h4.41v4.41h-4.41zM200.32 75.72h4.41v4.41h-4.41zM204.68 75.72h4.41v4.41h-4.41zM222.13 75.72h4.41v4.41h-4.41zM226.49 71.36h4.41v4.41h-4.41zM230.85 71.36h4.41v4.41h-4.41zM226.49 75.72h4.41v4.41h-4.41zM230.85 75.72h4.41v4.41h-4.41zM235.22 71.36h4.41v4.41h-4.41zM239.58 71.36h4.41v4.41h-4.41zM235.22 75.72h4.41v4.41h-4.41zM239.58 75.72h4.41v4.41h-4.41zM243.94 75.72h4.41v4.41h-4.41zM248.30 75.72h4.41v4.41h-4.41zM43.29 84.45h4.41v4.41h-4.41zM47.65 84.45h4.41v4.41h-4.41zM95.63 84.45h4.41v4.41h-4.41zM104.36 80.08h4.41v4.41h-4.41zM108.72 80.08h4.41v4.41h-4.41zM117.44 80.08h4.41v4.41h-4.41zM121.80 80.08h4.41v4.41h-4.41zM121.80 84.45h4.41v4.41h-4.41zM126.17 84.45h4.41v4.41h-4.41zM130.53 80.08h4.41v4.41h-4.41zM130.53 84.45h4.41v4.41h-4.41zM195.96 80.08h4.41v4.41h-4.41zM195.96 84.45h4.41v4.41h-4.41zM204.68 80.08h4.41v4.41h-4.41zM270.11 80.08h4.41v4.41h-4.41zM283.20 80.08h4.41v4.41h-4.41zM278.84 84.45h4.41v4.41h-4.41zM383.52 80.08h4.41v4.41h-4.41zM387.89 80.08h4.41v4.41h-4.41zM387.89 84.45h4.41v4.41h-4.41zM43.29 93.17h4.41v4.41h-4.41zM169.79 88.81h4.41v4.41h-4.41zM174.15 88.81h4.41v4.41h-4.41zM178.51 88.81h4.41v4.41h-4.41zM174.15 93.17h4.41v4.41h-4.41zM209.04 88.81h4.41v4.41h-4.41zM217.77 88.81h4.41v4.41h-4.41zM222.13 88.81h4.41v4.41h-4.41zM291.92 88.81h4.41v4.41h-4.41zM352.99 88.81h4.41v4.41h-4.41zM217.77 97.53h4.41v4.41h-4.41zM222.13 97.53h4.41v4.41h-4.41zM226.49 97.53h4.41v4.41h-4.41zM230.85 97.53h4.41v4.41h-4.41zM226.49 101.89h4.41v4.41h-4.41zM239.58 101.89h4.41v4.41h-4.41zM248.30 97.53h4.41v4.41h-4.41zM248.30 101.89h4.41v4.41h-4.41zM69.46 106.26h4.41v4.41h-4.41zM73.82 106.26h4.41v4.41h-4.41zM69.46 110.62h4.41v4.41h-4.41zM139.25 110.62h4.41v4.41h-4.41zM165.42 106.26h4.41v4.41h-4.41zM217.77 110.62h4.41v4.41h-4.41zM261.39 110.62h4.41v4.41h-4.41zM69.46 114.98h4.41v4.41h-4.41zM73.82 114.98h4.41v4.41h-4.41zM69.46 119.34h4.41v4.41h-4.41zM130.53 114.98h4.41v4.41h-4.41zM209.04 119.34h4.41v4.41h-4.41zM226.49 114.98h4.41v4.41h-4.41zM261.39 114.98h4.41v4.41h-4.41zM265.75 119.34h4.41v4.41h-4.41zM156.70 123.70h4.41v4.41h-4.41zM156.70 128.07h4.41v4.41h-4.41zM243.94 123.70h4.41v4.41h-4.41zM243.94 128.07h4.41v4.41h-4.41zM379.16 123.70h4.41v4.41h-4.41zM383.52 123.70h4.41v4.41h-4.41zM25.84 136.79h4.41v4.41h-4.41zM134.89 136.79h4.41v4.41h-4.41zM143.61 136.79h4.41v4.41h-4.41zM147.98 132.43h4.41v4.41h-4.41zM152.34 132.43h4.41v4.41h-4.41zM147.98 136.79h4.41v4.41h-4.41zM152.34 136.79h4.41v4.41h-4.41zM174.15 132.43h4.41v4.41h-4.41zM191.60 136.79h4.41v4.41h-4.41zM195.96 136.79h4.41v4.41h-4.41zM239.58 132.43h4.41v4.41h-4.41zM366.08 132.43h4.41v4.41h-4.41zM370.44 136.79h4.41v4.41h-4.41zM69.46 141.15h4.41v4.41h-4.41zM78.18 141.15h4.41v4.41h-4.41zM86.91 141.15h4.41v4.41h-4.41zM91.27 145.51h4.41v4.41h-4.41zM95.63 145.51h4.41v4.41h-4.41zM99.99 145.51h4.41v4.41h-4.41zM134.89 141.15h4.41v4.41h-4.41zM130.53 145.51h4.41v4.41h-4.41zM134.89 145.51h4.41v4.41h-4.41zM139.25 141.15h4.41v4.41h-4.41zM139.25 145.51h4.41v4.41h-4.41zM143.61 145.51h4.41v4.41h-4.41zM147.98 141.15h4.41v4.41h-4.41zM156.70 141.15h4.41v4.41h-4.41zM161.06 141.15h4.41v4.41h-4.41zM165.42 141.15h4.41v4.41h-4.41zM169.79 141.15h4.41v4.41h-4.41zM165.42 145.51h4.41v4.41h-4.41zM169.79 145.51h4.41v4.41h-4.41zM174.15 141.15h4.41v4.41h-4.41zM178.51 141.15h4.41v4.41h-4.41zM178.51 145.51h4.41v4.41h-4.41zM187.23 145.51h4.41v4.41h-4.41zM191.60 141.15h4.41v4.41h-4.41zM195.96 141.15h4.41v4.41h-4.41zM204.68 141.15h4.41v4.41h-4.41zM248.30 141.15h4.41v4.41h-4.41zM257.03 145.51h4.41v4.41h-4.41zM261.39 141.15h4.41v4.41h-4.41zM261.39 145.51h4.41v4.41h-4.41zM274.47 145.51h4.41v4.41h-4.41zM366.08 141.15h4.41v4.41h-4.41zM126.17 149.88h4.41v4.41h-4.41zM156.70 149.88h4.41v4.41h-4.41zM156.70 154.24h4.41v4.41h-4.41zM161.06 154.24h4.41v4.41h-4.41zM165.42 149.88h4.41v4.41h-4.41zM169.79 154.24h4.41v4.41h-4.41zM174.15 149.88h4.41v4.41h-4.41zM178.51 154.24h4.41v4.41h-4.41zM191.60 149.88h4.41v4.41h-4.41zM217.77 149.88h4.41v4.41h-4.41zM226.49 149.88h4.41v4.41h-4.41zM226.49 154.24h4.41v4.41h-4.41zM230.85 154.24h4.41v4.41h-4.41zM243.94 149.88h4.41v4.41h-4.41zM265.75 154.24h4.41v4.41h-4.41zM278.84 149.88h4.41v4.41h-4.41zM300.65 149.88h4.41v4.41h-4.41zM296.28 154.24h4.41v4.41h-4.41zM300.65 154.24h4.41v4.41h-4.41zM309.37 154.24h4.41v4.41h-4.41zM313.73 149.88h4.41v4.41h-4.41zM318.09 149.88h4.41v4.41h-4.41zM313.73 154.24h4.41v4.41h-4.41zM322.46 149.88h4.41v4.41h-4.41zM326.82 149.88h4.41v4.41h-4.41zM322.46 154.24h4.41v4.41h-4.41zM326.82 154.24h4.41v4.41h-4.41zM366.08 149.88h4.41v4.41h-4.41zM370.44 154.24h4.41v4.41h-4.41zM374.80 154.24h4.41v4.41h-4.41zM387.89 149.88h4.41v4.41h-4.41zM86.91 158.60h4.41v4.41h-4.41zM121.80 158.60h4.41v4.41h-4.41zM139.25 158.60h4.41v4.41h-4.41zM139.25 162.96h4.41v4.41h-4.41zM143.61 162.96h4.41v4.41h-4.41zM156.70 158.60h4.41v4.41h-4.41zM161.06 158.60h4.41v4.41h-4.41zM169.79 158.60h4.41v4.41h-4.41zM169.79 162.96h4.41v4.41h-4.41zM178.51 158.60h4.41v4.41h-4.41zM174.15 162.96h4.41v4.41h-4.41zM191.60 162.96h4.41v4.41h-4.41zM195.96 162.96h4.41v4.41h-4.41zM200.32 158.60h4.41v4.41h-4.41zM209.04 158.60h4.41v4.41h-4.41zM213.41 162.96h4.41v4.41h-4.41zM222.13 158.60h4.41v4.41h-4.41zM222.13 162.96h4.41v4.41h-4.41zM226.49 158.60h4.41v4.41h-4.41zM226.49 162.96h4.41v4.41h-4.41zM230.85 162.96h4.41v4.41h-4.41zM248.30 158.60h4.41v4.41h-4.41zM252.66 158.60h4.41v4.41h-4.41zM252.66 162.96h4.41v4.41h-4.41zM257.03 162.96h4.41v4.41h-4.41zM278.84 158.60h4.41v4.41h-4.41zM283.20 158.60h4.41v4.41h-4.41zM287.56 158.60h4.41v4.41h-4.41zM291.92 158.60h4.41v4.41h-4.41zM313.73 158.60h4.41v4.41h-4.41zM318.09 158.60h4.41v4.41h-4.41zM313.73 162.96h4.41v4.41h-4.41zM25.84 167.32h4.41v4.41h-4.41zM25.84 171.69h4.41v4.41h-4.41zM69.46 167.32h4.41v4.41h-4.41zM73.82 171.69h4.41v4.41h-4.41zM108.72 171.69h4.41v4.41h-4.41zM195.96 167.32h4.41v4.41h-4.41zM213.41 167.32h4.41v4.41h-4.41zM209.04 171.69h4.41v4.41h-4.41zM222.13 167.32h4.41v4.41h-4.41zM217.77 171.69h4.41v4.41h-4.41zM230.85 167.32h4.41v4.41h-4.41zM230.85 171.69h4.41v4.41h-4.41zM248.30 167.32h4.41v4.41h-4.41zM243.94 171.69h4.41v4.41h-4.41zM257.03 167.32h4.41v4.41h-4.41zM52.01 176.05h4.41v4.41h-4.41zM56.37 176.05h4.41v4.41h-4.41zM56.37 180.41h4.41v4.41h-4.41zM73.82 176.05h4.41v4.41h-4.41zM73.82 180.41h4.41v4.41h-4.41zM108.72 176.05h4.41v4.41h-4.41zM104.36 180.41h4.41v4.41h-4.41zM108.72 180.41h4.41v4.41h-4.41zM187.23 176.05h4.41v4.41h-4.41zM187.23 180.41h4.41v4.41h-4.41zM195.96 180.41h4.41v4.41h-4.41zM200.32 176.05h4.41v4.41h-4.41zM204.68 176.05h4.41v4.41h-4.41zM200.32 180.41h4.41v4.41h-4.41zM209.04 176.05h4.41v4.41h-4.41zM209.04 180.41h4.41v4.41h-4.41zM213.41 180.41h4.41v4.41h-4.41zM222.13 176.05h4.41v4.41h-4.41zM217.77 180.41h4.41v4.41h-4.41zM226.49 180.41h4.41v4.41h-4.41zM252.66 176.05h4.41v4.41h-4.41zM257.03 180.41h4.41v4.41h-4.41zM95.63 189.13h4.41v4.41h-4.41zM104.36 184.77h4.41v4.41h-4.41zM108.72 184.77h4.41v4.41h-4.41zM104.36 189.13h4.41v4.41h-4.41zM134.89 184.77h4.41v4.41h-4.41zM130.53 189.13h4.41v4.41h-4.41zM187.23 184.77h4.41v4.41h-4.41zM195.96 189.13h4.41v4.41h-4.41zM252.66 184.77h4.41v4.41h-4.41zM257.03 184.77h4.41v4.41h-4.41zM274.47 184.77h4.41v4.41h-4.41zM274.47 189.13h4.41v4.41h-4.41zM95.63 193.50h4.41v4.41h-4.41zM99.99 193.50h4.41v4.41h-4.41zM95.63 197.86h4.41v4.41h-4.41zM99.99 197.86h4.41v4.41h-4.41zM113.08 193.50h4.41v4.41h-4.41zM117.44 193.50h4.41v4.41h-4.41zM130.53 197.86h4.41v4.41h-4.41zM147.98 197.86h4.41v4.41h-4.41zM165.42 193.50h4.41v4.41h-4.41zM165.42 197.86h4.41v4.41h-4.41zM217.77 197.86h4.41v4.41h-4.41zM270.11 197.86h4.41v4.41h-4.41zM104.36 202.22h4.41v4.41h-4.41zM108.72 206.58h4.41v4.41h-4.41zM121.80 202.22h4.41v4.41h-4.41zM152.34 206.58h4.41v4.41h-4.41zM156.70 202.22h4.41v4.41h-4.41zM156.70 206.58h4.41v4.41h-4.41zM169.79 202.22h4.41v4.41h-4.41zM169.79 206.58h4.41v4.41h-4.41zM178.51 202.22h4.41v4.41h-4.41zM217.77 202.22h4.41v4.41h-4.41zM222.13 202.22h4.41v4.41h-4.41zM217.77 206.58h4.41v4.41h-4.41zM147.98 210.94h4.41v4.41h-4.41zM152.34 215.31h4.41v4.41h-4.41zM169.79 215.31h4.41v4.41h-4.41zM178.51 210.94h4.41v4.41h-4.41zM217.77 210.94h4.41v4.41h-4.41zM217.77 215.31h4.41v4.41h-4.41zM226.49 210.94h4.41v4.41h-4.41zM230.85 215.31h4.41v4.41h-4.41zM274.47 215.31h4.41v4.41h-4.41zM30.20 219.67h4.41v4.41h-4.41zM25.84 224.03h4.41v4.41h-4.41zM34.56 219.67h4.41v4.41h-4.41zM38.93 219.67h4.41v4.41h-4.41zM34.56 224.03h4.41v4.41h-4.41zM91.27 219.67h4.41v4.41h-4.41zM86.91 224.03h4.41v4.41h-4.41zM91.27 224.03h4.41v4.41h-4.41zM139.25 219.67h4.41v4.41h-4.41zM143.61 219.67h4.41v4.41h-4.41zM139.25 224.03h4.41v4.41h-4.41zM169.79 224.03h4.41v4.41h-4.41zM174.15 219.67h4.41v4.41h-4.41zM178.51 219.67h4.41v4.41h-4.41zM178.51 224.03h4.41v4.41h-4.41zM226.49 219.67h4.41v4.41h-4.41zM230.85 219.67h4.41v4.41h-4.41zM230.85 224.03h4.41v4.41h-4.41zM274.47 219.67h4.41v4.41h-4.41zM274.47 224.03h4.41v4.41h-4.41zM283.20 224.03h4.41v4.41h-4.41zM25.84 228.39h4.41v4.41h-4.41zM38.93 228.39h4.41v4.41h-4.41zM82.55 228.39h4.41v4.41h-4.41zM82.55 232.75h4.41v4.41h-4.41zM86.91 228.39h4.41v4.41h-4.41zM91.27 232.75h4.41v4.41h-4.41zM104.36 232.75h4.41v4.41h-4.41zM121.80 228.39h4.41v4.41h-4.41zM134.89 228.39h4.41v4.41h-4.41zM239.58 228.39h4.41v4.41h-4.41zM78.18 241.48h4.41v4.41h-4.41zM86.91 241.48h4.41v4.41h-4.41zM104.36 237.12h4.41v4.41h-4.41zM108.72 237.12h4.41v4.41h-4.41zM104.36 241.48h4.41v4.41h-4.41zM108.72 241.48h4.41v4.41h-4.41zM121.80 237.12h4.41v4.41h-4.41zM226.49 241.48h4.41v4.41h-4.41zM235.22 237.12h4.41v4.41h-4.41zM235.22 241.48h4.41v4.41h-4.41zM239.58 241.48h4.41v4.41h-4.41zM387.89 237.12h4.41v4.41h-4.41zM99.99 245.84h4.41v4.41h-4.41zM95.63 250.20h4.41v4.41h-4.41zM104.36 250.20h4.41v4.41h-4.41zM134.89 250.20h4.41v4.41h-4.41zM235.22 250.20h4.41v4.41h-4.41zM235.22 254.56h4.41v4.41h-4.41zM387.89 263.29h4.41v4.41h-4.41zM174.15 272.01h4.41v4.41h-4.41zM200.32 272.01h4.41v4.41h-4.41zM204.68 272.01h4.41v4.41h-4.41zM200.32 276.37h4.41v4.41h-4.41zM204.68 276.37h4.41v4.41h-4.41zM126.17 289.46h4.41v4.41h-4.41zM121.80 293.82h4.41v4.41h-4.41zM126.17 293.82h4.41v4.41h-4.41zM165.42 293.82h4.41v4.41h-4.41zM169.79 293.82h4.41v4.41h-4.41zM182.87 293.82h4.41v4.41h-4.41zM226.49 293.82h4.41v4.41h-4.41zM230.85 293.82h4.41v4.41h-4.41zM130.53 302.55h4.41v4.41h-4.41zM156.70 298.18h4.41v4.41h-4.41zM161.06 302.55h4.41v4.41h-4.41zM178.51 302.55h4.41v4.41h-4.41zM217.77 302.55h4.41v4.41h-4.41zM226.49 298.18h4.41v4.41h-4.41zM226.49 302.55h4.41v4.41h-4.41zM235.22 298.18h4.41v4.41h-4.41zM156.70 306.91h4.41v4.41h-4.41zM161.06 306.91h4.41v4.41h-4.41zM156.70 311.27h4.41v4.41h-4.41zM161.06 311.27h4.41v4.41h-4.41zM226.49 306.91h4.41v4.41h-4.41zM226.49 311.27h4.41v4.41h-4.41zM230.85 311.27h4.41v4.41h-4.41zM239.58 306.91h4.41v4.41h-4.41zM239.58 311.27h4.41v4.41h-4.41zM243.94 311.27h4.41v4.41h-4.41zM152.34 315.63h4.41v4.41h-4.41zM147.98 319.99h4.41v4.41h-4.41zM169.79 315.63h4.41v4.41h-4.41zM165.42 319.99h4.41v4.41h-4.41zM243.94 319.99h4.41v4.41h-4.41zM248.30 319.99h4.41v4.41h-4.41z"/><path fill="#438aa0" d="M130.53 32.10h4.41v4.41h-4.41zM134.89 36.46h4.41v4.41h-4.41zM134.89 40.83h4.41v4.41h-4.41zM217.77 53.91h4.41v4.41h-4.41zM222.13 53.91h4.41v4.41h-4.41zM344.27 58.27h4.41v4.41h-4.41zM69.46 62.64h4.41v4.41h-4.41zM174.15 67.00h4.41v4.41h-4.41zM178.51 67.00h4.41v4.41h-4.41zM182.87 62.64h4.41v4.41h-4.41zM187.23 62.64h4.41v4.41h-4.41zM182.87 67.00h4.41v4.41h-4.41zM235.22 62.64h4.41v4.41h-4.41zM243.94 62.64h4.41v4.41h-4.41zM243.94 67.00h4.41v4.41h-4.41zM174.15 75.72h4.41v4.41h-4.41zM213.41 71.36h4.41v4.41h-4.41zM209.04 75.72h4.41v4.41h-4.41zM243.94 71.36h4.41v4.41h-4.41zM248.30 71.36h4.41v4.41h-4.41zM43.29 80.08h4.41v4.41h-4.41zM182.87 80.08h4.41v4.41h-4.41zM187.23 80.08h4.41v4.41h-4.41zM187.23 84.45h4.41v4.41h-4.41zM191.60 80.08h4.41v4.41h-4.41zM191.60 84.45h4.41v4.41h-4.41zM213.41 84.45h4.41v4.41h-4.41zM222.13 80.08h4.41v4.41h-4.41zM217.77 84.45h4.41v4.41h-4.41zM222.13 84.45h4.41v4.41h-4.41zM43.29 88.81h4.41v4.41h-4.41zM47.65 88.81h4.41v4.41h-4.41zM182.87 93.17h4.41v4.41h-4.41zM200.32 88.81h4.41v4.41h-4.41zM200.32 93.17h4.41v4.41h-4.41zM222.13 93.17h4.41v4.41h-4.41zM178.51 97.53h4.41v4.41h-4.41zM187.23 101.89h4.41v4.41h-4.41zM217.77 101.89h4.41v4.41h-4.41zM230.85 101.89h4.41v4.41h-4.41zM243.94 97.53h4.41v4.41h-4.41zM73.82 110.62h4.41v4.41h-4.41zM143.61 106.26h4.41v4.41h-4.41zM169.79 106.26h4.41v4.41h-4.41zM169.79 110.62h4.41v4.41h-4.41zM209.04 106.26h4.41v4.41h-4.41zM217.77 106.26h4.41v4.41h-4.41zM261.39 106.26h4.41v4.41h-4.41zM134.89 114.98h4.41v4.41h-4.41zM156.70 114.98h4.41v4.41h-4.41zM161.06 114.98h4.41v4.41h-4.41zM195.96 114.98h4.41v4.41h-4.41zM200.32 114.98h4.41v4.41h-4.41zM209.04 114.98h4.41v4.41h-4.41zM213.41 114.98h4.41v4.41h-4.41zM222.13 119.34h4.41v4.41h-4.41zM226.49 119.34h4.41v4.41h-4.41zM230.85 119.34h4.41v4.41h-4.41zM261.39 119.34h4.41v4.41h-4.41zM147.98 123.70h4.41v4.41h-4.41zM152.34 123.70h4.41v4.41h-4.41zM152.34 128.07h4.41v4.41h-4.41zM161.06 128.07h4.41v4.41h-4.41zM169.79 123.70h4.41v4.41h-4.41zM165.42 128.07h4.41v4.41h-4.41zM187.23 123.70h4.41v4.41h-4.41zM191.60 123.70h4.41v4.41h-4.41zM195.96 128.07h4.41v4.41h-4.41zM209.04 123.70h4.41v4.41h-4.41zM209.04 128.07h4.41v4.41h-4.41zM213.41 128.07h4.41v4.41h-4.41zM222.13 128.07h4.41v4.41h-4.41zM226.49 128.07h4.41v4.41h-4.41zM230.85 128.07h4.41v4.41h-4.41zM383.52 128.07h4.41v4.41h-4.41zM134.89 132.43h4.41v4.41h-4.41zM130.53 136.79h4.41v4.41h-4.41zM178.51 132.43h4.41v4.41h-4.41zM174.15 136.79h4.41v4.41h-4.41zM178.51 136.79h4.41v4.41h-4.41zM195.96 132.43h4.41v4.41h-4.41zM230.85 136.79h4.41v4.41h-4.41zM374.80 136.79h4.41v4.41h-4.41zM383.52 136.79h4.41v4.41h-4.41zM73.82 141.15h4.41v4.41h-4.41zM73.82 145.51h4.41v4.41h-4.41zM91.27 141.15h4.41v4.41h-4.41zM86.91 145.51h4.41v4.41h-4.41zM95.63 141.15h4.41v4.41h-4.41zM99.99 141.15h4.41v4.41h-4.41zM104.36 141.15h4.41v4.41h-4.41zM113.08 141.15h4.41v4.41h-4.41zM117.44 141.15h4.41v4.41h-4.41zM113.08 145.51h4.41v4.41h-4.41zM117.44 145.51h4.41v4.41h-4.41zM126.17 145.51h4.41v4.41h-4.41zM143.61 141.15h4.41v4.41h-4.41zM152.34 141.15h4.41v4.41h-4.41zM156.70 145.51h4.41v4.41h-4.41zM174.15 145.51h4.41v4.41h-4.41zM222.13 145.51h4.41v4.41h-4.41zM235.22 141.15h4.41v4.41h-4.41zM235.22 145.51h4.41v4.41h-4.41zM239.58 145.51h4.41v4.41h-4.41zM243.94 145.51h4.41v4.41h-4.41zM252.66 141.15h4.41v4.41h-4.41zM257.03 141.15h4.41v4.41h-4.41zM252.66 145.51h4.41v4.41h-4.41zM270.11 141.15h4.41v4.41h-4.41zM370.44 141.15h4.41v4.41h-4.41zM366.08 145.51h4.41v4.41h-4.41zM374.80 141.15h4.41v4.41h-4.41zM383.52 141.15h4.41v4.41h-4.41zM387.89 145.51h4.41v4.41h-4.41zM69.46 149.88h4.41v4.41h-4.41zM73.82 149.88h4.41v4.41h-4.41zM73.82 154.24h4.41v4.41h-4.41zM82.55 154.24h4.41v4.41h-4.41zM91.27 149.88h4.41v4.41h-4.41zM91.27 154.24h4.41v4.41h-4.41zM99.99 154.24h4.41v4.41h-4.41zM117.44 154.24h4.41v4.41h-4.41zM121.80 149.88h4.41v4.41h-4.41zM121.80 154.24h4.41v4.41h-4.41zM130.53 149.88h4.41v4.41h-4.41zM134.89 149.88h4.41v4.41h-4.41zM130.53 154.24h4.41v4.41h-4.41zM134.89 154.24h4.41v4.41h-4.41zM147.98 154.24h4.41v4.41h-4.41zM152.34 154.24h4.41v4.41h-4.41zM222.13 149.88h4.41v4.41h-4.41zM217.77 154.24h4.41v4.41h-4.41zM235.22 154.24h4.41v4.41h-4.41zM239.58 154.24h4.41v4.41h-4.41zM248.30 149.88h4.41v4.41h-4.41zM243.94 154.24h4.41v4.41h-4.41zM248.30 154.24h4.41v4.41h-4.41zM252.66 154.24h4.41v4.41h-4.41zM261.39 149.88h4.41v4.41h-4.41zM265.75 149.88h4.41v4.41h-4.41zM283.20 149.88h4.41v4.41h-4.41zM278.84 154.24h4.41v4.41h-4.41zM291.92 149.88h4.41v4.41h-4.41zM287.56 154.24h4.41v4.41h-4.41zM291.92 154.24h4.41v4.41h-4.41zM305.01 154.24h4.41v4.41h-4.41zM318.09 154.24h4.41v4.41h-4.41zM374.80 149.88h4.41v4.41h-4.41zM379.16 149.88h4.41v4.41h-4.41zM383.52 154.24h4.41v4.41h-4.41zM82.55 158.60h4.41v4.41h-4.41zM91.27 158.60h4.41v4.41h-4.41zM86.91 162.96h4.41v4.41h-4.41zM91.27 162.96h4.41v4.41h-4.41zM99.99 158.60h4.41v4.41h-4.41zM99.99 162.96h4.41v4.41h-4.41zM126.17 158.60h4.41v4.41h-4.41zM121.80 162.96h4.41v4.41h-4.41zM126.17 162.96h4.41v4.41h-4.41zM152.34 158.60h4.41v4.41h-4.41zM147.98 162.96h4.41v4.41h-4.41zM152.34 162.96h4.41v4.41h-4.41zM165.42 162.96h4.41v4.41h-4.41zM195.96 158.60h4.41v4.41h-4.41zM204.68 158.60h4.41v4.41h-4.41zM200.32 162.96h4.41v4.41h-4.41zM204.68 162.96h4.41v4.41h-4.41zM217.77 158.60h4.41v4.41h-4.41zM257.03 158.60h4.41v4.41h-4.41zM270.11 158.60h4.41v4.41h-4.41zM274.47 162.96h4.41v4.41h-4.41zM278.84 162.96h4.41v4.41h-4.41zM287.56 162.96h4.41v4.41h-4.41zM291.92 162.96h4.41v4.41h-4.41zM300.65 158.60h4.41v4.41h-4.41zM300.65 162.96h4.41v4.41h-4.41zM305.01 158.60h4.41v4.41h-4.41zM305.01 162.96h4.41v4.41h-4.41zM309.37 162.96h4.41v4.41h-4.41zM78.18 167.32h4.41v4.41h-4.41zM82.55 171.69h4.41v4.41h-4.41zM95.63 167.32h4.41v4.41h-4.41zM99.99 167.32h4.41v4.41h-4.41zM95.63 171.69h4.41v4.41h-4.41zM108.72 167.32h4.41v4.41h-4.41zM104.36 171.69h4.41v4.41h-4.41zM130.53 167.32h4.41v4.41h-4.41zM134.89 167.32h4.41v4.41h-4.41zM130.53 171.69h4.41v4.41h-4.41zM134.89 171.69h4.41v4.41h-4.41zM139.25 167.32h4.41v4.41h-4.41zM143.61 167.32h4.41v4.41h-4.41zM143.61 171.69h4.41v4.41h-4.41zM161.06 171.69h4.41v4.41h-4.41zM165.42 167.32h4.41v4.41h-4.41zM169.79 167.32h4.41v4.41h-4.41zM165.42 171.69h4.41v4.41h-4.41zM178.51 171.69h4.41v4.41h-4.41zM191.60 167.32h4.41v4.41h-4.41zM191.60 171.69h4.41v4.41h-4.41zM226.49 171.69h4.41v4.41h-4.41zM235.22 171.69h4.41v4.41h-4.41zM274.47 171.69h4.41v4.41h-4.41zM95.63 176.05h4.41v4.41h-4.41zM99.99 176.05h4.41v4.41h-4.41zM95.63 180.41h4.41v4.41h-4.41zM104.36 176.05h4.41v4.41h-4.41zM113.08 176.05h4.41v4.41h-4.41zM117.44 176.05h4.41v4.41h-4.41zM152.34 180.41h4.41v4.41h-4.41zM156.70 180.41h4.41v4.41h-4.41zM165.42 176.05h4.41v4.41h-4.41zM182.87 176.05h4.41v4.41h-4.41zM182.87 180.41h4.41v4.41h-4.41zM204.68 180.41h4.41v4.41h-4.41zM213.41 176.05h4.41v4.41h-4.41zM222.13 180.41h4.41v4.41h-4.41zM243.94 176.05h4.41v4.41h-4.41zM248.30 176.05h4.41v4.41h-4.41zM243.94 180.41h4.41v4.41h-4.41zM38.93 189.13h4.41v4.41h-4.41zM108.72 189.13h4.41v4.41h-4.41zM113.08 189.13h4.41v4.41h-4.41zM117.44 189.13h4.41v4.41h-4.41zM121.80 189.13h4.41v4.41h-4.41zM130.53 184.77h4.41v4.41h-4.41zM139.25 184.77h4.41v4.41h-4.41zM143.61 184.77h4.41v4.41h-4.41zM139.25 189.13h4.41v4.41h-4.41zM143.61 189.13h4.41v4.41h-4.41zM152.34 184.77h4.41v4.41h-4.41zM165.42 184.77h4.41v4.41h-4.41zM230.85 184.77h4.41v4.41h-4.41zM243.94 184.77h4.41v4.41h-4.41zM257.03 189.13h4.41v4.41h-4.41zM104.36 193.50h4.41v4.41h-4.41zM108.72 193.50h4.41v4.41h-4.41zM104.36 197.86h4.41v4.41h-4.41zM108.72 197.86h4.41v4.41h-4.41zM130.53 193.50h4.41v4.41h-4.41zM134.89 193.50h4.41v4.41h-4.41zM139.25 197.86h4.41v4.41h-4.41zM143.61 197.86h4.41v4.41h-4.41zM152.34 193.50h4.41v4.41h-4.41zM161.06 197.86h4.41v4.41h-4.41zM169.79 197.86h4.41v4.41h-4.41zM226.49 193.50h4.41v4.41h-4.41zM270.11 193.50h4.41v4.41h-4.41zM274.47 197.86h4.41v4.41h-4.41zM113.08 202.22h4.41v4.41h-4.41zM117.44 202.22h4.41v4.41h-4.41zM113.08 206.58h4.41v4.41h-4.41zM117.44 206.58h4.41v4.41h-4.41zM152.34 202.22h4.41v4.41h-4.41zM147.98 206.58h4.41v4.41h-4.41zM161.06 202.22h4.41v4.41h-4.41zM161.06 206.58h4.41v4.41h-4.41zM165.42 202.22h4.41v4.41h-4.41zM165.42 206.58h4.41v4.41h-4.41zM174.15 202.22h4.41v4.41h-4.41zM174.15 206.58h4.41v4.41h-4.41zM178.51 206.58h4.41v4.41h-4.41zM222.13 206.58h4.41v4.41h-4.41zM152.34 210.94h4.41v4.41h-4.41zM147.98 215.31h4.41v4.41h-4.41zM169.79 210.94h4.41v4.41h-4.41zM165.42 215.31h4.41v4.41h-4.41zM174.15 215.31h4.41v4.41h-4.41zM38.93 224.03h4.41v4.41h-4.41zM86.91 219.67h4.41v4.41h-4.41zM152.34 219.67h4.41v4.41h-4.41zM147.98 224.03h4.41v4.41h-4.41zM165.42 219.67h4.41v4.41h-4.41zM169.79 219.67h4.41v4.41h-4.41zM270.11 219.67h4.41v4.41h-4.41zM78.18 228.39h4.41v4.41h-4.41zM78.18 232.75h4.41v4.41h-4.41zM86.91 232.75h4.41v4.41h-4.41zM104.36 228.39h4.41v4.41h-4.41zM130.53 232.75h4.41v4.41h-4.41zM134.89 232.75h4.41v4.41h-4.41zM235.22 228.39h4.41v4.41h-4.41zM235.22 232.75h4.41v4.41h-4.41zM239.58 232.75h4.41v4.41h-4.41zM95.63 237.12h4.41v4.41h-4.41zM95.63 241.48h4.41v4.41h-4.41zM108.72 245.84h4.41v4.41h-4.41zM134.89 245.84h4.41v4.41h-4.41zM226.49 245.84h4.41v4.41h-4.41zM230.85 245.84h4.41v4.41h-4.41zM230.85 250.20h4.41v4.41h-4.41zM226.49 263.29h4.41v4.41h-4.41zM226.49 267.65h4.41v4.41h-4.41zM156.70 289.46h4.41v4.41h-4.41zM156.70 293.82h4.41v4.41h-4.41zM161.06 293.82h4.41v4.41h-4.41zM182.87 289.46h4.41v4.41h-4.41zM226.49 289.46h4.41v4.41h-4.41zM235.22 289.46h4.41v4.41h-4.41zM239.58 289.46h4.41v4.41h-4.41zM239.58 293.82h4.41v4.41h-4.41zM161.06 298.18h4.41v4.41h-4.41zM174.15 298.18h4.41v4.41h-4.41zM178.51 298.18h4.41v4.41h-4.41zM239.58 298.18h4.41v4.41h-4.41zM235.22 302.55h4.41v4.41h-4.41zM239.58 302.55h4.41v4.41h-4.41zM174.15 306.91h4.41v4.41h-4.41zM178.51 306.91h4.41v4.41h-4.41zM178.51 311.27h4.41v4.41h-4.41zM230.85 306.91h4.41v4.41h-4.41zM235.22 306.91h4.41v4.41h-4.41zM248.30 306.91h4.41v4.41h-4.41zM235.22 315.63h4.41v4.41h-4.41z"/><path fill="#5b5fa5" d="M69.46 27.74h4.41v4.41h-4.41zM73.82 32.10h4.41v4.41h-4.41zM78.18 32.10h4.41v4.41h-4.41zM82.55 32.10h4.41v4.41h-4.41zM217.77 58.27h4.41v4.41h-4.41zM322.46 53.91h4.41v4.41h-4.41zM326.82 53.91h4.41v4.41h-4.41zM335.54 53.91h4.41v4.41h-4.41zM335.54 58.27h4.41v4.41h-4.41zM165.42 62.64h4.41v4.41h-4.41zM169.79 62.64h4.41v4.41h-4.41zM169.79 67.00h4.41v4.41h-4.41zM174.15 62.64h4.41v4.41h-4.41zM178.51 62.64h4.41v4.41h-4.41zM213.41 67.00h4.41v4.41h-4.41zM217.77 62.64h4.41v4.41h-4.41zM222.13 62.64h4.41v4.41h-4.41zM217.77 67.00h4.41v4.41h-4.41zM222.13 67.00h4.41v4.41h-4.41zM165.42 71.36h4.41v4.41h-4.41zM169.79 75.72h4.41v4.41h-4.41zM174.15 71.36h4.41v4.41h-4.41zM178.51 71.36h4.41v4.41h-4.41zM178.51 75.72h4.41v4.41h-4.41zM209.04 71.36h4.41v4.41h-4.41zM213.41 75.72h4.41v4.41h-4.41zM113.08 80.08h4.41v4.41h-4.41zM113.08 84.45h4.41v4.41h-4.41zM117.44 84.45h4.41v4.41h-4.41zM182.87 84.45h4.41v4.41h-4.41zM213.41 80.08h4.41v4.41h-4.41zM217.77 80.08h4.41v4.41h-4.41zM182.87 88.81h4.41v4.41h-4.41zM187.23 88.81h4.41v4.41h-4.41zM204.68 88.81h4.41v4.41h-4.41zM204.68 93.17h4.41v4.41h-4.41zM213.41 88.81h4.41v4.41h-4.41zM209.04 93.17h4.41v4.41h-4.41zM213.41 93.17h4.41v4.41h-4.41zM217.77 93.17h4.41v4.41h-4.41zM174.15 97.53h4.41v4.41h-4.41zM174.15 101.89h4.41v4.41h-4.41zM178.51 101.89h4.41v4.41h-4.41zM182.87 97.53h4.41v4.41h-4.41zM187.23 97.53h4.41v4.41h-4.41zM182.87 101.89h4.41v4.41h-4.41zM200.32 97.53h4.41v4.41h-4.41zM200.32 101.89h4.41v4.41h-4.41zM204.68 101.89h4.41v4.41h-4.41zM209.04 97.53h4.41v4.41h-4.41zM209.04 101.89h4.41v4.41h-4.41zM222.13 101.89h4.41v4.41h-4.41zM165.42 110.62h4.41v4.41h-4.41zM174.15 106.26h4.41v4.41h-4.41zM178.51 106.26h4.41v4.41h-4.41zM182.87 106.26h4.41v4.41h-4.41zM191.60 106.26h4.41v4.41h-4.41zM195.96 106.26h4.41v4.41h-4.41zM191.60 110.62h4.41v4.41h-4.41zM200.32 106.26h4.41v4.41h-4.41zM200.32 110.62h4.41v4.41h-4.41zM204.68 110.62h4.41v4.41h-4.41zM213.41 106.26h4.41v4.41h-4.41zM209.04 110.62h4.41v4.41h-4.41zM213.41 110.62h4.41v4.41h-4.41zM222.13 106.26h4.41v4.41h-4.41zM222.13 110.62h4.41v4.41h-4.41zM156.70 119.34h4.41v4.41h-4.41zM161.06 119.34h4.41v4.41h-4.41zM169.79 114.98h4.41v4.41h-4.41zM165.42 119.34h4.41v4.41h-4.41zM169.79 119.34h4.41v4.41h-4.41zM174.15 119.34h4.41v4.41h-4.41zM187.23 114.98h4.41v4.41h-4.41zM187.23 119.34h4.41v4.41h-4.41zM191.60 119.34h4.41v4.41h-4.41zM195.96 119.34h4.41v4.41h-4.41zM200.32 119.34h4.41v4.41h-4.41zM204.68 119.34h4.41v4.41h-4.41zM213.41 119.34h4.41v4.41h-4.41zM217.77 114.98h4.41v4.41h-4.41zM222.13 114.98h4.41v4.41h-4.41zM217.77 119.34h4.41v4.41h-4.41zM265.75 114.98h4.41v4.41h-4.41zM147.98 128.07h4.41v4.41h-4.41zM161.06 123.70h4.41v4.41h-4.41zM169.79 128.07h4.41v4.41h-4.41zM178.51 123.70h4.41v4.41h-4.41zM182.87 123.70h4.41v4.41h-4.41zM182.87 128.07h4.41v4.41h-4.41zM187.23 128.07h4.41v4.41h-4.41zM195.96 123.70h4.41v4.41h-4.41zM191.60 128.07h4.41v4.41h-4.41zM200.32 123.70h4.41v4.41h-4.41zM204.68 123.70h4.41v4.41h-4.41zM200.32 128.07h4.41v4.41h-4.41zM204.68 128.07h4.41v4.41h-4.41zM213.41 123.70h4.41v4.41h-4.41zM217.77 123.70h4.41v4.41h-4.41zM217.77 128.07h4.41v4.41h-4.41zM387.89 123.70h4.41v4.41h-4.41zM130.53 132.43h4.41v4.41h-4.41zM139.25 132.43h4.41v4.41h-4.41zM143.61 132.43h4.41v4.41h-4.41zM139.25 136.79h4.41v4.41h-4.41zM161.06 132.43h4.41v4.41h-4.41zM156.70 136.79h4.41v4.41h-4.41zM161.06 136.79h4.41v4.41h-4.41zM165.42 136.79h4.41v4.41h-4.41zM182.87 132.43h4.41v4.41h-4.41zM187.23 132.43h4.41v4.41h-4.41zM187.23 136.79h4.41v4.41h-4.41zM209.04 132.43h4.41v4.41h-4.41zM213.41 132.43h4.41v4.41h-4.41zM209.04 136.79h4.41v4.41h-4.41zM213.41 136.79h4.41v4.41h-4.41zM222.13 132.43h4.41v4.41h-4.41zM226.49 132.43h4.41v4.41h-4.41zM226.49 136.79h4.41v4.41h-4.41zM374.80 132.43h4.41v4.41h-4.41zM379.16 132.43h4.41v4.41h-4.41zM379.16 136.79h4.41v4.41h-4.41zM383.52 132.43h4.41v4.41h-4.41zM387.89 132.43h4.41v4.41h-4.41zM108.72 141.15h4.41v4.41h-4.41zM104.36 145.51h4.41v4.41h-4.41zM108.72 145.51h4.41v4.41h-4.41zM121.80 141.15h4.41v4.41h-4.41zM126.17 141.15h4.41v4.41h-4.41zM147.98 145.51h4.41v4.41h-4.41zM152.34 145.51h4.41v4.41h-4.41zM161.06 145.51h4.41v4.41h-4.41zM217.77 141.15h4.41v4.41h-4.41zM222.13 141.15h4.41v4.41h-4.41zM226.49 145.51h4.41v4.41h-4.41zM239.58 141.15h4.41v4.41h-4.41zM243.94 141.15h4.41v4.41h-4.41zM248.30 145.51h4.41v4.41h-4.41zM274.47 141.15h4.41v4.41h-4.41zM270.11 145.51h4.41v4.41h-4.41zM370.44 145.51h4.41v4.41h-4.41zM379.16 141.15h4.41v4.41h-4.41zM374.80 145.51h4.41v4.41h-4.41zM383.52 145.51h4.41v4.41h-4.41zM69.46 154.24h4.41v4.41h-4.41zM78.18 149.88h4.41v4.41h-4.41zM78.18 154.24h4.41v4.41h-4.41zM86.91 149.88h4.41v4.41h-4.41zM95.63 149.88h4.41v4.41h-4.41zM95.63 154.24h4.41v4.41h-4.41zM108.72 149.88h4.41v4.41h-4.41zM108.72 154.24h4.41v4.41h-4.41zM113.08 149.88h4.41v4.41h-4.41zM117.44 149.88h4.41v4.41h-4.41zM126.17 154.24h4.41v4.41h-4.41zM143.61 149.88h4.41v4.41h-4.41zM139.25 154.24h4.41v4.41h-4.41zM143.61 154.24h4.41v4.41h-4.41zM147.98 149.88h4.41v4.41h-4.41zM152.34 149.88h4.41v4.41h-4.41zM222.13 154.24h4.41v4.41h-4.41zM230.85 149.88h4.41v4.41h-4.41zM235.22 149.88h4.41v4.41h-4.41zM239.58 149.88h4.41v4.41h-4.41zM257.03 154.24h4.41v4.41h-4.41zM261.39 154.24h4.41v4.41h-4.41zM270.11 149.88h4.41v4.41h-4.41zM274.47 149.88h4.41v4.41h-4.41zM270.11 154.24h4.41v4.41h-4.41zM274.47 154.24h4.41v4.41h-4.41zM283.20 154.24h4.41v4.41h-4.41zM287.56 149.88h4.41v4.41h-4.41zM305.01 149.88h4.41v4.41h-4.41zM309.37 149.88h4.41v4.41h-4.41zM379.16 154.24h4.41v4.41h-4.41zM78.18 158.60h4.41v4.41h-4.41zM95.63 158.60h4.41v4.41h-4.41zM95.63 162.96h4.41v4.41h-4.41zM104.36 158.60h4.41v4.41h-4.41zM108.72 158.60h4.41v4.41h-4.41zM108.72 162.96h4.41v4.41h-4.41zM113.08 158.60h4.41v4.41h-4.41zM113.08 162.96h4.41v4.41h-4.41zM117.44 162.96h4.41v4.41h-4.41zM147.98 158.60h4.41v4.41h-4.41zM265.75 158.60h4.41v4.41h-4.41zM261.39 162.96h4.41v4.41h-4.41zM265.75 162.96h4.41v4.41h-4.41zM270.11 162.96h4.41v4.41h-4.41zM283.20 162.96h4.41v4.41h-4.41zM296.28 158.60h4.41v4.41h-4.41zM296.28 162.96h4.41v4.41h-4.41zM309.37 158.60h4.41v4.41h-4.41zM82.55 167.32h4.41v4.41h-4.41zM104.36 167.32h4.41v4.41h-4.41zM113.08 167.32h4.41v4.41h-4.41zM113.08 171.69h4.41v4.41h-4.41zM117.44 171.69h4.41v4.41h-4.41zM121.80 167.32h4.41v4.41h-4.41zM126.17 167.32h4.41v4.41h-4.41zM121.80 171.69h4.41v4.41h-4.41zM126.17 171.69h4.41v4.41h-4.41zM139.25 171.69h4.41v4.41h-4.41zM147.98 167.32h4.41v4.41h-4.41zM152.34 171.69h4.41v4.41h-4.41zM156.70 167.32h4.41v4.41h-4.41zM161.06 167.32h4.41v4.41h-4.41zM156.70 171.69h4.41v4.41h-4.41zM169.79 171.69h4.41v4.41h-4.41zM174.15 167.32h4.41v4.41h-4.41zM178.51 167.32h4.41v4.41h-4.41zM174.15 171.69h4.41v4.41h-4.41zM195.96 171.69h4.41v4.41h-4.41zM226.49 167.32h4.41v4.41h-4.41zM235.22 167.32h4.41v4.41h-4.41zM239.58 171.69h4.41v4.41h-4.41zM270.11 167.32h4.41v4.41h-4.41zM274.47 167.32h4.41v4.41h-4.41zM270.11 171.69h4.41v4.41h-4.41zM99.99 180.41h4.41v4.41h-4.41zM113.08 180.41h4.41v4.41h-4.41zM143.61 180.41h4.41v4.41h-4.41zM147.98 176.05h4.41v4.41h-4.41zM156.70 176.05h4.41v4.41h-4.41zM161.06 176.05h4.41v4.41h-4.41zM161.06 180.41h4.41v4.41h-4.41zM169.79 176.05h4.41v4.41h-4.41zM165.42 180.41h4.41v4.41h-4.41zM178.51 176.05h4.41v4.41h-4.41zM217.77 176.05h4.41v4.41h-4.41zM226.49 176.05h4.41v4.41h-4.41zM230.85 176.05h4.41v4.41h-4.41zM230.85 180.41h4.41v4.41h-4.41zM248.30 180.41h4.41v4.41h-4.41zM261.39 176.05h4.41v4.41h-4.41zM261.39 180.41h4.41v4.41h-4.41zM99.99 184.77h4.41v4.41h-4.41zM113.08 184.77h4.41v4.41h-4.41zM117.44 184.77h4.41v4.41h-4.41zM126.17 184.77h4.41v4.41h-4.41zM134.89 189.13h4.41v4.41h-4.41zM147.98 184.77h4.41v4.41h-4.41zM152.34 189.13h4.41v4.41h-4.41zM156.70 184.77h4.41v4.41h-4.41zM161.06 184.77h4.41v4.41h-4.41zM169.79 189.13h4.41v4.41h-4.41zM222.13 184.77h4.41v4.41h-4.41zM217.77 189.13h4.41v4.41h-4.41zM226.49 184.77h4.41v4.41h-4.41zM226.49 189.13h4.41v4.41h-4.41zM243.94 189.13h4.41v4.41h-4.41zM248.30 189.13h4.41v4.41h-4.41zM113.08 197.86h4.41v4.41h-4.41zM117.44 197.86h4.41v4.41h-4.41zM126.17 193.50h4.41v4.41h-4.41zM126.17 197.86h4.41v4.41h-4.41zM134.89 197.86h4.41v4.41h-4.41zM139.25 193.50h4.41v4.41h-4.41zM143.61 193.50h4.41v4.41h-4.41zM147.98 193.50h4.41v4.41h-4.41zM152.34 197.86h4.41v4.41h-4.41zM156.70 193.50h4.41v4.41h-4.41zM161.06 193.50h4.41v4.41h-4.41zM156.70 197.86h4.41v4.41h-4.41zM230.85 193.50h4.41v4.41h-4.41zM226.49 197.86h4.41v4.41h-4.41zM147.98 202.22h4.41v4.41h-4.41zM161.06 210.94h4.41v4.41h-4.41zM156.70 215.31h4.41v4.41h-4.41zM161.06 215.31h4.41v4.41h-4.41zM165.42 210.94h4.41v4.41h-4.41zM174.15 210.94h4.41v4.41h-4.41zM178.51 215.31h4.41v4.41h-4.41zM152.34 224.03h4.41v4.41h-4.41zM156.70 219.67h4.41v4.41h-4.41zM165.42 224.03h4.41v4.41h-4.41zM270.11 224.03h4.41v4.41h-4.41zM130.53 228.39h4.41v4.41h-4.41zM130.53 237.12h4.41v4.41h-4.41zM134.89 237.12h4.41v4.41h-4.41zM130.53 241.48h4.41v4.41h-4.41zM134.89 241.48h4.41v4.41h-4.41zM230.85 254.56h4.41v4.41h-4.41zM226.49 258.93h4.41v4.41h-4.41zM230.85 258.93h4.41v4.41h-4.41zM230.85 267.65h4.41v4.41h-4.41zM161.06 289.46h4.41v4.41h-4.41zM235.22 293.82h4.41v4.41h-4.41zM156.70 302.55h4.41v4.41h-4.41zM174.15 302.55h4.41v4.41h-4.41zM174.15 311.27h4.41v4.41h-4.41zM243.94 306.91h4.41v4.41h-4.41zM248.30 311.27h4.41v4.41h-4.41z"/><path fill="#622570" d="M78.18 27.74h4.41v4.41h-4.41zM331.18 53.91h4.41v4.41h-4.41zM331.18 58.27h4.41v4.41h-4.41zM209.04 62.64h4.41v4.41h-4.41zM213.41 62.64h4.41v4.41h-4.41zM209.04 67.00h4.41v4.41h-4.41zM209.04 80.08h4.41v4.41h-4.41zM209.04 84.45h4.41v4.41h-4.41zM187.23 93.17h4.41v4.41h-4.41zM191.60 88.81h4.41v4.41h-4.41zM195.96 88.81h4.41v4.41h-4.41zM191.60 93.17h4.41v4.41h-4.41zM195.96 93.17h4.41v4.41h-4.41zM191.60 97.53h4.41v4.41h-4.41zM195.96 97.53h4.41v4.41h-4.41zM191.60 101.89h4.41v4.41h-4.41zM195.96 101.89h4.41v4.41h-4.41zM204.68 97.53h4.41v4.41h-4.41zM213.41 97.53h4.41v4.41h-4.41zM213.41 101.89h4.41v4.41h-4.41zM174.15 110.62h4.41v4.41h-4.41zM178.51 110.62h4.41v4.41h-4.41zM187.23 106.26h4.41v4.41h-4.41zM182.87 110.62h4.41v4.41h-4.41zM187.23 110.62h4.41v4.41h-4.41zM195.96 110.62h4.41v4.41h-4.41zM204.68 106.26h4.41v4.41h-4.41zM165.42 114.98h4.41v4.41h-4.41zM174.15 114.98h4.41v4.41h-4.41zM178.51 114.98h4.41v4.41h-4.41zM178.51 119.34h4.41v4.41h-4.41zM182.87 114.98h4.41v4.41h-4.41zM182.87 119.34h4.41v4.41h-4.41zM191.60 114.98h4.41v4.41h-4.41zM204.68 114.98h4.41v4.41h-4.41zM165.42 123.70h4.41v4.41h-4.41zM174.15 123.70h4.41v4.41h-4.41zM174.15 128.07h4.41v4.41h-4.41zM178.51 128.07h4.41v4.41h-4.41zM222.13 123.70h4.41v4.41h-4.41zM226.49 123.70h4.41v4.41h-4.41zM230.85 123.70h4.41v4.41h-4.41zM156.70 132.43h4.41v4.41h-4.41zM165.42 132.43h4.41v4.41h-4.41zM169.79 132.43h4.41v4.41h-4.41zM169.79 136.79h4.41v4.41h-4.41zM182.87 136.79h4.41v4.41h-4.41zM200.32 132.43h4.41v4.41h-4.41zM204.68 132.43h4.41v4.41h-4.41zM200.32 136.79h4.41v4.41h-4.41zM204.68 136.79h4.41v4.41h-4.41zM217.77 132.43h4.41v4.41h-4.41zM217.77 136.79h4.41v4.41h-4.41zM222.13 136.79h4.41v4.41h-4.41zM230.85 132.43h4.41v4.41h-4.41zM387.89 136.79h4.41v4.41h-4.41zM121.80 145.51h4.41v4.41h-4.41zM217.77 145.51h4.41v4.41h-4.41zM226.49 141.15h4.41v4.41h-4.41zM230.85 141.15h4.41v4.41h-4.41zM230.85 145.51h4.41v4.41h-4.41zM379.16 145.51h4.41v4.41h-4.41zM82.55 149.88h4.41v4.41h-4.41zM86.91 154.24h4.41v4.41h-4.41zM99.99 149.88h4.41v4.41h-4.41zM104.36 149.88h4.41v4.41h-4.41zM104.36 154.24h4.41v4.41h-4.41zM113.08 154.24h4.41v4.41h-4.41zM139.25 149.88h4.41v4.41h-4.41zM252.66 149.88h4.41v4.41h-4.41zM257.03 149.88h4.41v4.41h-4.41zM78.18 162.96h4.41v4.41h-4.41zM82.55 162.96h4.41v4.41h-4.41zM104.36 162.96h4.41v4.41h-4.41zM117.44 158.60h4.41v4.41h-4.41zM261.39 158.60h4.41v4.41h-4.41zM274.47 158.60h4.41v4.41h-4.41zM78.18 171.69h4.41v4.41h-4.41zM117.44 167.32h4.41v4.41h-4.41zM152.34 167.32h4.41v4.41h-4.41zM147.98 171.69h4.41v4.41h-4.41zM239.58 167.32h4.41v4.41h-4.41zM261.39 167.32h4.41v4.41h-4.41zM265.75 167.32h4.41v4.41h-4.41zM261.39 171.69h4.41v4.41h-4.41zM265.75 171.69h4.41v4.41h-4.41zM117.44 180.41h4.41v4.41h-4.41zM121.80 176.05h4.41v4.41h-4.41zM126.17 176.05h4.41v4.41h-4.41zM121.80 180.41h4.41v4.41h-4.41zM126.17 180.41h4.41v4.41h-4.41zM130.53 176.05h4.41v4.41h-4.41zM134.89 176.05h4.41v4.41h-4.41zM130.53 180.41h4.41v4.41h-4.41zM134.89 180.41h4.41v4.41h-4.41zM139.25 176.05h4.41v4.41h-4.41zM143.61 176.05h4.41v4.41h-4.41zM139.25 180.41h4.41v4.41h-4.41zM152.34 176.05h4.41v4.41h-4.41zM147.98 180.41h4.41v4.41h-4.41zM169.79 180.41h4.41v4.41h-4.41zM174.15 176.05h4.41v4.41h-4.41zM174.15 180.41h4.41v4.41h-4.41zM178.51 180.41h4.41v4.41h-4.41zM265.75 176.05h4.41v4.41h-4.41zM265.75 180.41h4.41v4.41h-4.41zM121.80 184.77h4.41v4.41h-4.41zM126.17 189.13h4.41v4.41h-4.41zM147.98 189.13h4.41v4.41h-4.41zM156.70 189.13h4.41v4.41h-4.41zM161.06 189.13h4.41v4.41h-4.41zM169.79 184.77h4.41v4.41h-4.41zM165.42 189.13h4.41v4.41h-4.41zM217.77 184.77h4.41v4.41h-4.41zM222.13 189.13h4.41v4.41h-4.41zM230.85 189.13h4.41v4.41h-4.41zM121.80 193.50h4.41v4.41h-4.41zM121.80 197.86h4.41v4.41h-4.41zM230.85 197.86h4.41v4.41h-4.41zM156.70 210.94h4.41v4.41h-4.41zM156.70 224.03h4.41v4.41h-4.41zM226.49 254.56h4.41v4.41h-4.41z"/></g><clipPath id="clipb"><rect x="425.0" y="27.6" width="362.7" height="296.4"/></clipPath><g clip-path="url(#clipb)" shape-rendering="crispEdges"><path fill="#fce645" d="M481.05 27.74h4.41v4.41h-4.41zM489.77 32.10h4.41v4.41h-4.41zM537.75 32.10h4.41v4.41h-4.41zM542.11 32.10h4.41v4.41h-4.41zM577.01 32.10h4.41v4.41h-4.41zM481.05 36.46h4.41v4.41h-4.41zM476.68 40.83h4.41v4.41h-4.41zM677.34 36.46h4.41v4.41h-4.41zM681.70 36.46h4.41v4.41h-4.41zM681.70 40.83h4.41v4.41h-4.41zM690.42 36.46h4.41v4.41h-4.41zM686.06 40.83h4.41v4.41h-4.41zM690.42 40.83h4.41v4.41h-4.41zM703.51 40.83h4.41v4.41h-4.41zM729.68 40.83h4.41v4.41h-4.41zM481.05 49.55h4.41v4.41h-4.41zM476.68 49.55h4.41v4.41h-4.41zM529.03 45.19h4.41v4.41h-4.41zM668.61 45.19h4.41v4.41h-4.41zM681.70 45.19h4.41v4.41h-4.41zM686.06 45.19h4.41v4.41h-4.41zM690.42 45.19h4.41v4.41h-4.41zM686.06 49.55h4.41v4.41h-4.41zM690.42 49.55h4.41v4.41h-4.41zM725.32 49.55h4.41v4.41h-4.41zM725.32 45.19h4.41v4.41h-4.41zM563.92 58.27h4.41v4.41h-4.41zM581.37 53.91h4.41v4.41h-4.41zM585.73 53.91h4.41v4.41h-4.41zM581.37 58.27h4.41v4.41h-4.41zM585.73 58.27h4.41v4.41h-4.41zM590.10 53.91h4.41v4.41h-4.41zM594.46 53.91h4.41v4.41h-4.41zM594.46 58.27h4.41v4.41h-4.41zM607.54 53.91h4.41v4.41h-4.41zM611.91 53.91h4.41v4.41h-4.41zM611.91 58.27h4.41v4.41h-4.41zM638.08 58.27h4.41v4.41h-4.41zM638.08 53.91h4.41v4.41h-4.41zM677.34 53.91h4.41v4.41h-4.41zM681.70 53.91h4.41v4.41h-4.41zM690.42 58.27h4.41v4.41h-4.41zM712.23 58.27h4.41v4.41h-4.41zM441.79 67.00h4.41v4.41h-4.41zM498.49 67.00h4.41v4.41h-4.41zM529.03 67.00h4.41v4.41h-4.41zM581.37 62.64h4.41v4.41h-4.41zM585.73 62.64h4.41v4.41h-4.41zM581.37 67.00h4.41v4.41h-4.41zM585.73 67.00h4.41v4.41h-4.41zM590.10 62.64h4.41v4.41h-4.41zM590.10 67.00h4.41v4.41h-4.41zM594.46 67.00h4.41v4.41h-4.41zM607.54 67.00h4.41v4.41h-4.41zM659.89 67.00h4.41v4.41h-4.41zM668.61 62.64h4.41v4.41h-4.41zM672.97 67.00h4.41v4.41h-4.41zM677.34 62.64h4.41v4.41h-4.41zM681.70 62.64h4.41v4.41h-4.41zM677.34 67.00h4.41v4.41h-4.41zM467.96 71.36h4.41v4.41h-4.41zM515.94 71.36h4.41v4.41h-4.41zM611.91 75.72h4.41v4.41h-4.41zM777.66 71.36h4.41v4.41h-4.41zM773.30 75.72h4.41v4.41h-4.41zM481.05 80.08h4.41v4.41h-4.41zM476.68 80.08h4.41v4.41h-4.41zM563.92 80.08h4.41v4.41h-4.41zM568.29 80.08h4.41v4.41h-4.41zM563.92 84.45h4.41v4.41h-4.41zM568.29 84.45h4.41v4.41h-4.41zM572.65 80.08h4.41v4.41h-4.41zM577.01 80.08h4.41v4.41h-4.41zM572.65 84.45h4.41v4.41h-4.41zM577.01 84.45h4.41v4.41h-4.41zM668.61 80.08h4.41v4.41h-4.41zM747.13 80.08h4.41v4.41h-4.41zM751.49 80.08h4.41v4.41h-4.41zM747.13 84.45h4.41v4.41h-4.41zM760.21 80.08h4.41v4.41h-4.41zM433.06 93.17h4.41v4.41h-4.41zM472.32 93.17h4.41v4.41h-4.41zM686.06 88.81h4.41v4.41h-4.41zM686.06 93.17h4.41v4.41h-4.41zM476.68 101.89h4.41v4.41h-4.41zM481.05 97.53h4.41v4.41h-4.41zM494.13 97.53h4.41v4.41h-4.41zM494.13 101.89h4.41v4.41h-4.41zM498.49 101.89h4.41v4.41h-4.41zM524.67 97.53h4.41v4.41h-4.41zM694.78 97.53h4.41v4.41h-4.41zM703.51 101.89h4.41v4.41h-4.41zM707.87 101.89h4.41v4.41h-4.41zM768.94 101.89h4.41v4.41h-4.41zM498.49 106.26h4.41v4.41h-4.41zM537.75 110.62h4.41v4.41h-4.41zM542.11 110.62h4.41v4.41h-4.41zM642.44 106.26h4.41v4.41h-4.41zM646.80 106.26h4.41v4.41h-4.41zM642.44 110.62h4.41v4.41h-4.41zM646.80 110.62h4.41v4.41h-4.41zM651.16 106.26h4.41v4.41h-4.41zM655.53 106.26h4.41v4.41h-4.41zM703.51 110.62h4.41v4.41h-4.41zM459.24 114.98h4.41v4.41h-4.41zM459.24 119.34h4.41v4.41h-4.41zM463.60 119.34h4.41v4.41h-4.41zM472.32 119.34h4.41v4.41h-4.41zM489.77 119.34h4.41v4.41h-4.41zM485.41 114.98h4.41v4.41h-4.41zM529.03 114.98h4.41v4.41h-4.41zM529.03 119.34h4.41v4.41h-4.41zM533.39 119.34h4.41v4.41h-4.41zM659.89 114.98h4.41v4.41h-4.41zM659.89 119.34h4.41v4.41h-4.41zM664.25 119.34h4.41v4.41h-4.41zM467.96 123.70h4.41v4.41h-4.41zM529.03 128.07h4.41v4.41h-4.41zM529.03 123.70h4.41v4.41h-4.41zM603.18 123.70h4.41v4.41h-4.41zM598.82 128.07h4.41v4.41h-4.41zM620.63 123.70h4.41v4.41h-4.41zM620.63 128.07h4.41v4.41h-4.41zM638.08 123.70h4.41v4.41h-4.41zM664.25 128.07h4.41v4.41h-4.41zM450.51 136.79h4.41v4.41h-4.41zM454.87 136.79h4.41v4.41h-4.41zM481.05 132.43h4.41v4.41h-4.41zM494.13 136.79h4.41v4.41h-4.41zM498.49 136.79h4.41v4.41h-4.41zM782.02 132.43h4.41v4.41h-4.41zM467.96 145.51h4.41v4.41h-4.41zM476.68 141.15h4.41v4.41h-4.41zM481.05 141.15h4.41v4.41h-4.41zM481.05 145.51h4.41v4.41h-4.41zM546.48 141.15h4.41v4.41h-4.41zM559.56 141.15h4.41v4.41h-4.41zM424.34 149.88h4.41v4.41h-4.41zM489.77 149.88h4.41v4.41h-4.41zM511.58 149.88h4.41v4.41h-4.41zM515.94 149.88h4.41v4.41h-4.41zM511.58 154.24h4.41v4.41h-4.41zM515.94 154.24h4.41v4.41h-4.41zM764.58 149.88h4.41v4.41h-4.41zM768.94 149.88h4.41v4.41h-4.41zM782.02 149.88h4.41v4.41h-4.41zM786.39 149.88h4.41v4.41h-4.41zM782.02 154.24h4.41v4.41h-4.41zM786.39 154.24h4.41v4.41h-4.41zM441.79 158.60h4.41v4.41h-4.41zM446.15 158.60h4.41v4.41h-4.41zM441.79 162.96h4.41v4.41h-4.41zM446.15 162.96h4.41v4.41h-4.41zM450.51 162.96h4.41v4.41h-4.41zM454.87 162.96h4.41v4.41h-4.41zM511.58 158.60h4.41v4.41h-4.41zM707.87 158.60h4.41v4.41h-4.41zM707.87 162.96h4.41v4.41h-4.41zM424.34 171.69h4.41v4.41h-4.41zM681.70 171.69h4.41v4.41h-4.41zM786.39 167.32h4.41v4.41h-4.41zM782.02 171.69h4.41v4.41h-4.41zM786.39 171.69h4.41v4.41h-4.41zM428.70 176.05h4.41v4.41h-4.41zM433.06 176.05h4.41v4.41h-4.41zM459.24 180.41h4.41v4.41h-4.41zM472.32 176.05h4.41v4.41h-4.41zM467.96 180.41h4.41v4.41h-4.41zM498.49 176.05h4.41v4.41h-4.41zM677.34 180.41h4.41v4.41h-4.41zM681.70 180.41h4.41v4.41h-4.41zM768.94 176.05h4.41v4.41h-4.41zM773.30 176.05h4.41v4.41h-4.41zM782.02 180.41h4.41v4.41h-4.41zM428.70 184.77h4.41v4.41h-4.41zM424.34 189.13h4.41v4.41h-4.41zM459.24 189.13h4.41v4.41h-4.41zM494.13 184.77h4.41v4.41h-4.41zM502.86 184.77h4.41v4.41h-4.41zM498.49 197.86h4.41v4.41h-4.41zM502.86 193.50h4.41v4.41h-4.41zM424.34 206.58h4.41v4.41h-4.41zM502.86 206.58h4.41v4.41h-4.41zM507.22 206.58h4.41v4.41h-4.41zM529.03 202.22h4.41v4.41h-4.41zM533.39 202.22h4.41v4.41h-4.41zM529.03 206.58h4.41v4.41h-4.41zM533.39 206.58h4.41v4.41h-4.41zM537.75 202.22h4.41v4.41h-4.41zM542.11 202.22h4.41v4.41h-4.41zM537.75 206.58h4.41v4.41h-4.41zM424.34 210.94h4.41v4.41h-4.41zM428.70 210.94h4.41v4.41h-4.41zM428.70 215.31h4.41v4.41h-4.41zM433.06 210.94h4.41v4.41h-4.41zM437.43 210.94h4.41v4.41h-4.41zM437.43 215.31h4.41v4.41h-4.41zM520.30 210.94h4.41v4.41h-4.41zM524.67 210.94h4.41v4.41h-4.41zM520.30 215.31h4.41v4.41h-4.41zM529.03 210.94h4.41v4.41h-4.41zM428.70 224.03h4.41v4.41h-4.41zM459.24 219.67h4.41v4.41h-4.41zM463.60 224.03h4.41v4.41h-4.41zM498.49 219.67h4.41v4.41h-4.41zM494.13 224.03h4.41v4.41h-4.41zM433.06 228.39h4.41v4.41h-4.41zM437.43 228.39h4.41v4.41h-4.41zM433.06 232.75h4.41v4.41h-4.41zM437.43 232.75h4.41v4.41h-4.41zM459.24 232.75h4.41v4.41h-4.41zM472.32 228.39h4.41v4.41h-4.41zM467.96 228.39h4.41v4.41h-4.41zM515.94 232.75h4.41v4.41h-4.41zM515.94 228.39h4.41v4.41h-4.41zM520.30 228.39h4.41v4.41h-4.41zM537.75 228.39h4.41v4.41h-4.41zM629.35 228.39h4.41v4.41h-4.41zM629.35 232.75h4.41v4.41h-4.41zM642.44 232.75h4.41v4.41h-4.41zM659.89 228.39h4.41v4.41h-4.41zM659.89 232.75h4.41v4.41h-4.41zM467.96 237.12h4.41v4.41h-4.41zM472.32 237.12h4.41v4.41h-4.41zM467.96 241.48h4.41v4.41h-4.41zM476.68 237.12h4.41v4.41h-4.41zM481.05 237.12h4.41v4.41h-4.41zM485.41 237.12h4.41v4.41h-4.41zM489.77 237.12h4.41v4.41h-4.41zM485.41 241.48h4.41v4.41h-4.41zM489.77 241.48h4.41v4.41h-4.41zM502.86 237.12h4.41v4.41h-4.41zM507.22 237.12h4.41v4.41h-4.41zM502.86 241.48h4.41v4.41h-4.41zM507.22 241.48h4.41v4.41h-4.41zM537.75 241.48h4.41v4.41h-4.41zM629.35 237.12h4.41v4.41h-4.41zM624.99 241.48h4.41v4.41h-4.41zM481.05 250.20h4.41v4.41h-4.41zM476.68 245.84h4.41v4.41h-4.41zM485.41 245.84h4.41v4.41h-4.41zM489.77 245.84h4.41v4.41h-4.41zM485.41 250.20h4.41v4.41h-4.41zM507.22 245.84h4.41v4.41h-4.41zM515.94 245.84h4.41v4.41h-4.41zM533.39 250.20h4.41v4.41h-4.41zM624.99 245.84h4.41v4.41h-4.41zM629.35 245.84h4.41v4.41h-4.41zM624.99 250.20h4.41v4.41h-4.41zM629.35 250.20h4.41v4.41h-4.41zM507.22 254.56h4.41v4.41h-4.41zM507.22 258.93h4.41v4.41h-4.41zM529.03 258.93h4.41v4.41h-4.41zM537.75 254.56h4.41v4.41h-4.41zM629.35 254.56h4.41v4.41h-4.41zM542.11 263.29h4.41v4.41h-4.41zM537.75 267.65h4.41v4.41h-4.41zM542.11 267.65h4.41v4.41h-4.41zM550.84 263.29h4.41v4.41h-4.41zM559.56 263.29h4.41v4.41h-4.41zM581.37 263.29h4.41v4.41h-4.41zM624.99 263.29h4.41v4.41h-4.41zM629.35 263.29h4.41v4.41h-4.41zM629.35 267.65h4.41v4.41h-4.41zM515.94 276.37h4.41v4.41h-4.41zM520.30 272.01h4.41v4.41h-4.41zM563.92 272.01h4.41v4.41h-4.41zM568.29 276.37h4.41v4.41h-4.41zM590.10 276.37h4.41v4.41h-4.41zM603.18 276.37h4.41v4.41h-4.41zM624.99 272.01h4.41v4.41h-4.41zM629.35 272.01h4.41v4.41h-4.41zM624.99 276.37h4.41v4.41h-4.41zM629.35 276.37h4.41v4.41h-4.41zM633.72 272.01h4.41v4.41h-4.41zM555.20 285.10h4.41v4.41h-4.41zM563.92 280.74h4.41v4.41h-4.41zM568.29 280.74h4.41v4.41h-4.41zM563.92 285.10h4.41v4.41h-4.41zM568.29 285.10h4.41v4.41h-4.41zM624.99 285.10h4.41v4.41h-4.41zM629.35 285.10h4.41v4.41h-4.41zM633.72 280.74h4.41v4.41h-4.41zM638.08 285.10h4.41v4.41h-4.41zM529.03 289.46h4.41v4.41h-4.41zM533.39 289.46h4.41v4.41h-4.41zM529.03 293.82h4.41v4.41h-4.41zM555.20 289.46h4.41v4.41h-4.41zM559.56 289.46h4.41v4.41h-4.41zM555.20 293.82h4.41v4.41h-4.41zM559.56 293.82h4.41v4.41h-4.41zM633.72 289.46h4.41v4.41h-4.41zM638.08 289.46h4.41v4.41h-4.41zM633.72 293.82h4.41v4.41h-4.41zM638.08 293.82h4.41v4.41h-4.41zM546.48 298.18h4.41v4.41h-4.41zM633.72 298.18h4.41v4.41h-4.41zM638.08 302.55h4.41v4.41h-4.41zM524.67 311.27h4.41v4.41h-4.41zM550.84 311.27h4.41v4.41h-4.41zM555.20 306.91h4.41v4.41h-4.41zM559.56 306.91h4.41v4.41h-4.41zM555.20 311.27h4.41v4.41h-4.41zM559.56 311.27h4.41v4.41h-4.41zM577.01 306.91h4.41v4.41h-4.41zM577.01 311.27h4.41v4.41h-4.41zM590.10 311.27h4.41v4.41h-4.41zM546.48 315.63h4.41v4.41h-4.41zM550.84 315.63h4.41v4.41h-4.41zM550.84 319.99h4.41v4.41h-4.41zM555.20 315.63h4.41v4.41h-4.41zM555.20 319.99h4.41v4.41h-4.41zM559.56 319.99h4.41v4.41h-4.41zM629.35 319.99h4.41v4.41h-4.41zM633.72 319.99h4.41v4.41h-4.41zM638.08 319.99h4.41v4.41h-4.41zM703.51 315.63h4.41v4.41h-4.41z"/><path fill="#8bd567" d="M476.68 27.74h4.41v4.41h-4.41zM476.68 32.10h4.41v4.41h-4.41zM481.05 32.10h4.41v4.41h-4.41zM485.41 32.10h4.41v4.41h-4.41zM537.75 27.74h4.41v4.41h-4.41zM572.65 32.10h4.41v4.41h-4.41zM659.89 27.74h4.41v4.41h-4.41zM664.25 27.74h4.41v4.41h-4.41zM659.89 32.10h4.41v4.41h-4.41zM707.87 27.74h4.41v4.41h-4.41zM707.87 32.10h4.41v4.41h-4.41zM533.39 36.46h4.41v4.41h-4.41zM537.75 40.83h4.41v4.41h-4.41zM655.53 36.46h4.41v4.41h-4.41zM467.96 53.91h4.41v4.41h-4.41zM620.63 53.91h4.41v4.41h-4.41zM672.97 53.91h4.41v4.41h-4.41zM677.34 58.27h4.41v4.41h-4.41zM751.49 58.27h4.41v4.41h-4.41zM764.58 53.91h4.41v4.41h-4.41zM764.58 58.27h4.41v4.41h-4.41zM441.79 62.64h4.41v4.41h-4.41zM446.15 67.00h4.41v4.41h-4.41zM467.96 62.64h4.41v4.41h-4.41zM472.32 67.00h4.41v4.41h-4.41zM498.49 62.64h4.41v4.41h-4.41zM494.13 67.00h4.41v4.41h-4.41zM546.48 67.00h4.41v4.41h-4.41zM568.29 62.64h4.41v4.41h-4.41zM572.65 62.64h4.41v4.41h-4.41zM577.01 62.64h4.41v4.41h-4.41zM572.65 67.00h4.41v4.41h-4.41zM577.01 67.00h4.41v4.41h-4.41zM594.46 62.64h4.41v4.41h-4.41zM607.54 62.64h4.41v4.41h-4.41zM611.91 67.00h4.41v4.41h-4.41zM616.27 62.64h4.41v4.41h-4.41zM620.63 62.64h4.41v4.41h-4.41zM620.63 67.00h4.41v4.41h-4.41zM664.25 62.64h4.41v4.41h-4.41zM720.96 62.64h4.41v4.41h-4.41zM725.32 62.64h4.41v4.41h-4.41zM725.32 67.00h4.41v4.41h-4.41zM511.58 71.36h4.41v4.41h-4.41zM568.29 71.36h4.41v4.41h-4.41zM572.65 75.72h4.41v4.41h-4.41zM577.01 75.72h4.41v4.41h-4.41zM581.37 71.36h4.41v4.41h-4.41zM585.73 71.36h4.41v4.41h-4.41zM581.37 75.72h4.41v4.41h-4.41zM585.73 75.72h4.41v4.41h-4.41zM590.10 71.36h4.41v4.41h-4.41zM611.91 71.36h4.41v4.41h-4.41zM607.54 75.72h4.41v4.41h-4.41zM725.32 71.36h4.41v4.41h-4.41zM720.96 71.36h4.41v4.41h-4.41zM485.41 80.08h4.41v4.41h-4.41zM672.97 84.45h4.41v4.41h-4.41zM690.42 80.08h4.41v4.41h-4.41zM690.42 84.45h4.41v4.41h-4.41zM467.96 88.81h4.41v4.41h-4.41zM472.32 88.81h4.41v4.41h-4.41zM467.96 93.17h4.41v4.41h-4.41zM520.30 88.81h4.41v4.41h-4.41zM590.10 93.17h4.41v4.41h-4.41zM598.82 88.81h4.41v4.41h-4.41zM624.99 88.81h4.41v4.41h-4.41zM629.35 93.17h4.41v4.41h-4.41zM690.42 88.81h4.41v4.41h-4.41zM690.42 93.17h4.41v4.41h-4.41zM738.40 88.81h4.41v4.41h-4.41zM742.77 93.17h4.41v4.41h-4.41zM472.32 97.53h4.41v4.41h-4.41zM598.82 101.89h4.41v4.41h-4.41zM624.99 97.53h4.41v4.41h-4.41zM629.35 101.89h4.41v4.41h-4.41zM699.15 97.53h4.41v4.41h-4.41zM703.51 97.53h4.41v4.41h-4.41zM747.13 101.89h4.41v4.41h-4.41zM577.01 110.62h4.41v4.41h-4.41zM585.73 106.26h4.41v4.41h-4.41zM581.37 110.62h4.41v4.41h-4.41zM616.27 106.26h4.41v4.41h-4.41zM651.16 110.62h4.41v4.41h-4.41zM655.53 110.62h4.41v4.41h-4.41zM703.51 106.26h4.41v4.41h-4.41zM707.87 106.26h4.41v4.41h-4.41zM467.96 114.98h4.41v4.41h-4.41zM542.11 114.98h4.41v4.41h-4.41zM624.99 119.34h4.41v4.41h-4.41zM633.72 119.34h4.41v4.41h-4.41zM424.34 123.70h4.41v4.41h-4.41zM555.20 128.07h4.41v4.41h-4.41zM568.29 123.70h4.41v4.41h-4.41zM568.29 128.07h4.41v4.41h-4.41zM603.18 128.07h4.41v4.41h-4.41zM616.27 123.70h4.41v4.41h-4.41zM616.27 128.07h4.41v4.41h-4.41zM624.99 123.70h4.41v4.41h-4.41zM629.35 123.70h4.41v4.41h-4.41zM624.99 128.07h4.41v4.41h-4.41zM638.08 128.07h4.41v4.41h-4.41zM642.44 123.70h4.41v4.41h-4.41zM494.13 132.43h4.41v4.41h-4.41zM498.49 132.43h4.41v4.41h-4.41zM633.72 132.43h4.41v4.41h-4.41zM638.08 132.43h4.41v4.41h-4.41zM642.44 136.79h4.41v4.41h-4.41zM646.80 136.79h4.41v4.41h-4.41zM782.02 136.79h4.41v4.41h-4.41zM459.24 141.15h4.41v4.41h-4.41zM459.24 145.51h4.41v4.41h-4.41zM472.32 141.15h4.41v4.41h-4.41zM472.32 145.51h4.41v4.41h-4.41zM494.13 141.15h4.41v4.41h-4.41zM520.30 141.15h4.41v4.41h-4.41zM550.84 141.15h4.41v4.41h-4.41zM546.48 145.51h4.41v4.41h-4.41zM555.20 141.15h4.41v4.41h-4.41zM559.56 145.51h4.41v4.41h-4.41zM568.29 141.15h4.41v4.41h-4.41zM563.92 145.51h4.41v4.41h-4.41zM638.08 141.15h4.41v4.41h-4.41zM633.72 145.51h4.41v4.41h-4.41zM642.44 145.51h4.41v4.41h-4.41zM760.21 141.15h4.41v4.41h-4.41zM755.85 145.51h4.41v4.41h-4.41zM760.21 145.51h4.41v4.41h-4.41zM782.02 141.15h4.41v4.41h-4.41zM786.39 141.15h4.41v4.41h-4.41zM463.60 149.88h4.41v4.41h-4.41zM459.24 154.24h4.41v4.41h-4.41zM463.60 154.24h4.41v4.41h-4.41zM467.96 149.88h4.41v4.41h-4.41zM472.32 149.88h4.41v4.41h-4.41zM467.96 154.24h4.41v4.41h-4.41zM476.68 149.88h4.41v4.41h-4.41zM481.05 149.88h4.41v4.41h-4.41zM476.68 154.24h4.41v4.41h-4.41zM485.41 154.24h4.41v4.41h-4.41zM502.86 149.88h4.41v4.41h-4.41zM507.22 154.24h4.41v4.41h-4.41zM524.67 149.88h4.41v4.41h-4.41zM546.48 154.24h4.41v4.41h-4.41zM559.56 149.88h4.41v4.41h-4.41zM555.20 154.24h4.41v4.41h-4.41zM638.08 149.88h4.41v4.41h-4.41zM638.08 154.24h4.41v4.41h-4.41zM686.06 154.24h4.41v4.41h-4.41zM694.78 149.88h4.41v4.41h-4.41zM424.34 158.60h4.41v4.41h-4.41zM428.70 158.60h4.41v4.41h-4.41zM424.34 162.96h4.41v4.41h-4.41zM428.70 162.96h4.41v4.41h-4.41zM450.51 158.60h4.41v4.41h-4.41zM454.87 158.60h4.41v4.41h-4.41zM467.96 158.60h4.41v4.41h-4.41zM467.96 162.96h4.41v4.41h-4.41zM489.77 158.60h4.41v4.41h-4.41zM485.41 162.96h4.41v4.41h-4.41zM489.77 162.96h4.41v4.41h-4.41zM498.49 158.60h4.41v4.41h-4.41zM515.94 158.60h4.41v4.41h-4.41zM511.58 162.96h4.41v4.41h-4.41zM515.94 162.96h4.41v4.41h-4.41zM546.48 158.60h4.41v4.41h-4.41zM550.84 158.60h4.41v4.41h-4.41zM690.42 158.60h4.41v4.41h-4.41zM699.15 162.96h4.41v4.41h-4.41zM428.70 167.32h4.41v4.41h-4.41zM494.13 167.32h4.41v4.41h-4.41zM498.49 171.69h4.41v4.41h-4.41zM511.58 167.32h4.41v4.41h-4.41zM542.11 167.32h4.41v4.41h-4.41zM424.34 180.41h4.41v4.41h-4.41zM433.06 180.41h4.41v4.41h-4.41zM437.43 180.41h4.41v4.41h-4.41zM463.60 176.05h4.41v4.41h-4.41zM494.13 176.05h4.41v4.41h-4.41zM507.22 176.05h4.41v4.41h-4.41zM707.87 176.05h4.41v4.41h-4.41zM707.87 180.41h4.41v4.41h-4.41zM777.66 176.05h4.41v4.41h-4.41zM773.30 180.41h4.41v4.41h-4.41zM433.06 184.77h4.41v4.41h-4.41zM433.06 189.13h4.41v4.41h-4.41zM437.43 189.13h4.41v4.41h-4.41zM507.22 184.77h4.41v4.41h-4.41zM502.86 189.13h4.41v4.41h-4.41zM494.13 193.50h4.41v4.41h-4.41zM494.13 197.86h4.41v4.41h-4.41zM507.22 193.50h4.41v4.41h-4.41zM502.86 197.86h4.41v4.41h-4.41zM507.22 197.86h4.41v4.41h-4.41zM542.11 197.86h4.41v4.41h-4.41zM668.61 197.86h4.41v4.41h-4.41zM424.34 202.22h4.41v4.41h-4.41zM428.70 202.22h4.41v4.41h-4.41zM524.67 202.22h4.41v4.41h-4.41zM520.30 206.58h4.41v4.41h-4.41zM542.11 206.58h4.41v4.41h-4.41zM725.32 206.58h4.41v4.41h-4.41zM524.67 215.31h4.41v4.41h-4.41zM533.39 215.31h4.41v4.41h-4.41zM428.70 219.67h4.41v4.41h-4.41zM433.06 219.67h4.41v4.41h-4.41zM437.43 219.67h4.41v4.41h-4.41zM433.06 224.03h4.41v4.41h-4.41zM437.43 224.03h4.41v4.41h-4.41zM498.49 224.03h4.41v4.41h-4.41zM511.58 224.03h4.41v4.41h-4.41zM515.94 224.03h4.41v4.41h-4.41zM520.30 219.67h4.41v4.41h-4.41zM520.30 224.03h4.41v4.41h-4.41zM533.39 224.03h4.41v4.41h-4.41zM537.75 219.67h4.41v4.41h-4.41zM572.65 224.03h4.41v4.41h-4.41zM424.34 232.75h4.41v4.41h-4.41zM428.70 232.75h4.41v4.41h-4.41zM450.51 232.75h4.41v4.41h-4.41zM463.60 228.39h4.41v4.41h-4.41zM463.60 232.75h4.41v4.41h-4.41zM481.05 228.39h4.41v4.41h-4.41zM481.05 232.75h4.41v4.41h-4.41zM489.77 228.39h4.41v4.41h-4.41zM502.86 232.75h4.41v4.41h-4.41zM520.30 232.75h4.41v4.41h-4.41zM524.67 232.75h4.41v4.41h-4.41zM529.03 228.39h4.41v4.41h-4.41zM533.39 232.75h4.41v4.41h-4.41zM624.99 228.39h4.41v4.41h-4.41zM624.99 232.75h4.41v4.41h-4.41zM633.72 232.75h4.41v4.41h-4.41zM655.53 228.39h4.41v4.41h-4.41zM424.34 237.12h4.41v4.41h-4.41zM428.70 237.12h4.41v4.41h-4.41zM428.70 241.48h4.41v4.41h-4.41zM476.68 241.48h4.41v4.41h-4.41zM481.05 241.48h4.41v4.41h-4.41zM529.03 237.12h4.41v4.41h-4.41zM533.39 237.12h4.41v4.41h-4.41zM533.39 241.48h4.41v4.41h-4.41zM537.75 237.12h4.41v4.41h-4.41zM642.44 237.12h4.41v4.41h-4.41zM646.80 237.12h4.41v4.41h-4.41zM502.86 245.84h4.41v4.41h-4.41zM502.86 250.20h4.41v4.41h-4.41zM533.39 245.84h4.41v4.41h-4.41zM542.11 245.84h4.41v4.41h-4.41zM502.86 258.93h4.41v4.41h-4.41zM546.48 263.29h4.41v4.41h-4.41zM550.84 267.65h4.41v4.41h-4.41zM624.99 267.65h4.41v4.41h-4.41zM633.72 267.65h4.41v4.41h-4.41zM638.08 267.65h4.41v4.41h-4.41zM782.02 263.29h4.41v4.41h-4.41zM546.48 272.01h4.41v4.41h-4.41zM546.48 276.37h4.41v4.41h-4.41zM577.01 276.37h4.41v4.41h-4.41zM598.82 272.01h4.41v4.41h-4.41zM598.82 276.37h4.41v4.41h-4.41zM511.58 280.74h4.41v4.41h-4.41zM559.56 280.74h4.41v4.41h-4.41zM559.56 285.10h4.41v4.41h-4.41zM598.82 280.74h4.41v4.41h-4.41zM624.99 280.74h4.41v4.41h-4.41zM629.35 280.74h4.41v4.41h-4.41zM633.72 285.10h4.41v4.41h-4.41zM520.30 289.46h4.41v4.41h-4.41zM533.39 293.82h4.41v4.41h-4.41zM563.92 289.46h4.41v4.41h-4.41zM568.29 289.46h4.41v4.41h-4.41zM563.92 293.82h4.41v4.41h-4.41zM572.65 289.46h4.41v4.41h-4.41zM577.01 289.46h4.41v4.41h-4.41zM572.65 293.82h4.41v4.41h-4.41zM585.73 289.46h4.41v4.41h-4.41zM624.99 289.46h4.41v4.41h-4.41zM624.99 293.82h4.41v4.41h-4.41zM524.67 298.18h4.41v4.41h-4.41zM555.20 298.18h4.41v4.41h-4.41zM555.20 302.55h4.41v4.41h-4.41zM616.27 302.55h4.41v4.41h-4.41zM638.08 298.18h4.41v4.41h-4.41zM572.65 311.27h4.41v4.41h-4.41zM607.54 306.91h4.41v4.41h-4.41zM611.91 311.27h4.41v4.41h-4.41zM624.99 306.91h4.41v4.41h-4.41zM629.35 306.91h4.41v4.41h-4.41zM629.35 311.27h4.41v4.41h-4.41zM546.48 319.99h4.41v4.41h-4.41zM563.92 319.99h4.41v4.41h-4.41zM568.29 319.99h4.41v4.41h-4.41zM572.65 315.63h4.41v4.41h-4.41zM616.27 319.99h4.41v4.41h-4.41zM620.63 319.99h4.41v4.41h-4.41zM642.44 315.63h4.41v4.41h-4.41zM642.44 319.99h4.41v4.41h-4.41zM646.80 319.99h4.41v4.41h-4.41z"/><path fill="#41b690" d="M472.32 32.10h4.41v4.41h-4.41zM664.25 32.10h4.41v4.41h-4.41zM703.51 27.74h4.41v4.41h-4.41zM703.51 32.10h4.41v4.41h-4.41zM529.03 36.46h4.41v4.41h-4.41zM529.03 40.83h4.41v4.41h-4.41zM651.16 36.46h4.41v4.41h-4.41zM655.53 40.83h4.41v4.41h-4.41zM699.15 40.83h4.41v4.41h-4.41zM694.78 40.83h4.41v4.41h-4.41zM651.16 45.19h4.41v4.41h-4.41zM655.53 45.19h4.41v4.41h-4.41zM651.16 49.55h4.41v4.41h-4.41zM655.53 49.55h4.41v4.41h-4.41zM459.24 58.27h4.41v4.41h-4.41zM472.32 53.91h4.41v4.41h-4.41zM620.63 58.27h4.41v4.41h-4.41zM642.44 53.91h4.41v4.41h-4.41zM646.80 53.91h4.41v4.41h-4.41zM642.44 58.27h4.41v4.41h-4.41zM646.80 58.27h4.41v4.41h-4.41zM668.61 53.91h4.41v4.41h-4.41zM668.61 58.27h4.41v4.41h-4.41zM672.97 58.27h4.41v4.41h-4.41zM681.70 58.27h4.41v4.41h-4.41zM747.13 53.91h4.41v4.41h-4.41zM751.49 53.91h4.41v4.41h-4.41zM467.96 67.00h4.41v4.41h-4.41zM550.84 67.00h4.41v4.41h-4.41zM563.92 62.64h4.41v4.41h-4.41zM563.92 67.00h4.41v4.41h-4.41zM611.91 62.64h4.41v4.41h-4.41zM616.27 67.00h4.41v4.41h-4.41zM624.99 67.00h4.41v4.41h-4.41zM633.72 62.64h4.41v4.41h-4.41zM638.08 67.00h4.41v4.41h-4.41zM498.49 71.36h4.41v4.41h-4.41zM563.92 71.36h4.41v4.41h-4.41zM568.29 75.72h4.41v4.41h-4.41zM572.65 71.36h4.41v4.41h-4.41zM594.46 71.36h4.41v4.41h-4.41zM590.10 75.72h4.41v4.41h-4.41zM607.54 71.36h4.41v4.41h-4.41zM620.63 71.36h4.41v4.41h-4.41zM638.08 71.36h4.41v4.41h-4.41zM686.06 71.36h4.41v4.41h-4.41zM751.49 75.72h4.41v4.41h-4.41zM437.43 80.08h4.41v4.41h-4.41zM437.43 84.45h4.41v4.41h-4.41zM515.94 84.45h4.41v4.41h-4.41zM581.37 80.08h4.41v4.41h-4.41zM581.37 84.45h4.41v4.41h-4.41zM585.73 84.45h4.41v4.41h-4.41zM590.10 80.08h4.41v4.41h-4.41zM590.10 84.45h4.41v4.41h-4.41zM594.46 84.45h4.41v4.41h-4.41zM598.82 80.08h4.41v4.41h-4.41zM603.18 84.45h4.41v4.41h-4.41zM611.91 80.08h4.41v4.41h-4.41zM633.72 80.08h4.41v4.41h-4.41zM638.08 80.08h4.41v4.41h-4.41zM642.44 80.08h4.41v4.41h-4.41zM681.70 80.08h4.41v4.41h-4.41zM677.34 84.45h4.41v4.41h-4.41zM686.06 80.08h4.41v4.41h-4.41zM686.06 84.45h4.41v4.41h-4.41zM782.02 80.08h4.41v4.41h-4.41zM511.58 88.81h4.41v4.41h-4.41zM524.67 88.81h4.41v4.41h-4.41zM520.30 93.17h4.41v4.41h-4.41zM524.67 93.17h4.41v4.41h-4.41zM577.01 93.17h4.41v4.41h-4.41zM581.37 88.81h4.41v4.41h-4.41zM585.73 88.81h4.41v4.41h-4.41zM581.37 93.17h4.41v4.41h-4.41zM585.73 93.17h4.41v4.41h-4.41zM590.10 88.81h4.41v4.41h-4.41zM594.46 88.81h4.41v4.41h-4.41zM594.46 93.17h4.41v4.41h-4.41zM603.18 88.81h4.41v4.41h-4.41zM598.82 93.17h4.41v4.41h-4.41zM603.18 93.17h4.41v4.41h-4.41zM629.35 88.81h4.41v4.41h-4.41zM624.99 93.17h4.41v4.41h-4.41zM638.08 88.81h4.41v4.41h-4.41zM638.08 93.17h4.41v4.41h-4.41zM642.44 93.17h4.41v4.41h-4.41zM668.61 88.81h4.41v4.41h-4.41zM672.97 88.81h4.41v4.41h-4.41zM668.61 93.17h4.41v4.41h-4.41zM677.34 88.81h4.41v4.41h-4.41zM677.34 93.17h4.41v4.41h-4.41zM681.70 93.17h4.41v4.41h-4.41zM742.77 88.81h4.41v4.41h-4.41zM738.40 93.17h4.41v4.41h-4.41zM747.13 93.17h4.41v4.41h-4.41zM472.32 101.89h4.41v4.41h-4.41zM572.65 97.53h4.41v4.41h-4.41zM577.01 97.53h4.41v4.41h-4.41zM572.65 101.89h4.41v4.41h-4.41zM594.46 97.53h4.41v4.41h-4.41zM598.82 97.53h4.41v4.41h-4.41zM603.18 97.53h4.41v4.41h-4.41zM629.35 97.53h4.41v4.41h-4.41zM624.99 101.89h4.41v4.41h-4.41zM668.61 101.89h4.41v4.41h-4.41zM668.61 97.53h4.41v4.41h-4.41zM686.06 101.89h4.41v4.41h-4.41zM694.78 101.89h4.41v4.41h-4.41zM699.15 101.89h4.41v4.41h-4.41zM738.40 101.89h4.41v4.41h-4.41zM555.20 106.26h4.41v4.41h-4.41zM572.65 106.26h4.41v4.41h-4.41zM572.65 110.62h4.41v4.41h-4.41zM581.37 106.26h4.41v4.41h-4.41zM585.73 110.62h4.41v4.41h-4.41zM598.82 106.26h4.41v4.41h-4.41zM598.82 110.62h4.41v4.41h-4.41zM603.18 110.62h4.41v4.41h-4.41zM620.63 110.62h4.41v4.41h-4.41zM707.87 110.62h4.41v4.41h-4.41zM555.20 114.98h4.41v4.41h-4.41zM559.56 114.98h4.41v4.41h-4.41zM555.20 119.34h4.41v4.41h-4.41zM559.56 119.34h4.41v4.41h-4.41zM563.92 114.98h4.41v4.41h-4.41zM568.29 114.98h4.41v4.41h-4.41zM563.92 119.34h4.41v4.41h-4.41zM568.29 119.34h4.41v4.41h-4.41zM572.65 114.98h4.41v4.41h-4.41zM577.01 114.98h4.41v4.41h-4.41zM572.65 119.34h4.41v4.41h-4.41zM577.01 119.34h4.41v4.41h-4.41zM598.82 114.98h4.41v4.41h-4.41zM603.18 114.98h4.41v4.41h-4.41zM598.82 119.34h4.41v4.41h-4.41zM603.18 119.34h4.41v4.41h-4.41zM611.91 114.98h4.41v4.41h-4.41zM633.72 114.98h4.41v4.41h-4.41zM638.08 114.98h4.41v4.41h-4.41zM638.08 119.34h4.41v4.41h-4.41zM550.84 123.70h4.41v4.41h-4.41zM555.20 123.70h4.41v4.41h-4.41zM563.92 123.70h4.41v4.41h-4.41zM577.01 123.70h4.41v4.41h-4.41zM572.65 128.07h4.41v4.41h-4.41zM577.01 128.07h4.41v4.41h-4.41zM598.82 123.70h4.41v4.41h-4.41zM629.35 128.07h4.41v4.41h-4.41zM646.80 123.70h4.41v4.41h-4.41zM642.44 128.07h4.41v4.41h-4.41zM655.53 123.70h4.41v4.41h-4.41zM655.53 128.07h4.41v4.41h-4.41zM664.25 123.70h4.41v4.41h-4.41zM782.02 123.70h4.41v4.41h-4.41zM786.39 123.70h4.41v4.41h-4.41zM424.34 132.43h4.41v4.41h-4.41zM546.48 132.43h4.41v4.41h-4.41zM559.56 136.79h4.41v4.41h-4.41zM594.46 132.43h4.41v4.41h-4.41zM594.46 136.79h4.41v4.41h-4.41zM598.82 132.43h4.41v4.41h-4.41zM603.18 132.43h4.41v4.41h-4.41zM620.63 136.79h4.41v4.41h-4.41zM629.35 132.43h4.41v4.41h-4.41zM624.99 136.79h4.41v4.41h-4.41zM633.72 136.79h4.41v4.41h-4.41zM642.44 132.43h4.41v4.41h-4.41zM646.80 132.43h4.41v4.41h-4.41zM655.53 136.79h4.41v4.41h-4.41zM668.61 132.43h4.41v4.41h-4.41zM668.61 136.79h4.41v4.41h-4.41zM672.97 136.79h4.41v4.41h-4.41zM786.39 132.43h4.41v4.41h-4.41zM467.96 141.15h4.41v4.41h-4.41zM489.77 141.15h4.41v4.41h-4.41zM485.41 145.51h4.41v4.41h-4.41zM489.77 145.51h4.41v4.41h-4.41zM498.49 141.15h4.41v4.41h-4.41zM498.49 145.51h4.41v4.41h-4.41zM507.22 141.15h4.41v4.41h-4.41zM502.86 145.51h4.41v4.41h-4.41zM507.22 145.51h4.41v4.41h-4.41zM520.30 145.51h4.41v4.41h-4.41zM550.84 145.51h4.41v4.41h-4.41zM555.20 145.51h4.41v4.41h-4.41zM563.92 141.15h4.41v4.41h-4.41zM568.29 145.51h4.41v4.41h-4.41zM633.72 141.15h4.41v4.41h-4.41zM638.08 145.51h4.41v4.41h-4.41zM642.44 141.15h4.41v4.41h-4.41zM655.53 145.51h4.41v4.41h-4.41zM773.30 141.15h4.41v4.41h-4.41zM777.66 141.15h4.41v4.41h-4.41zM777.66 145.51h4.41v4.41h-4.41zM472.32 154.24h4.41v4.41h-4.41zM481.05 154.24h4.41v4.41h-4.41zM485.41 149.88h4.41v4.41h-4.41zM489.77 154.24h4.41v4.41h-4.41zM494.13 149.88h4.41v4.41h-4.41zM498.49 149.88h4.41v4.41h-4.41zM498.49 154.24h4.41v4.41h-4.41zM520.30 149.88h4.41v4.41h-4.41zM520.30 154.24h4.41v4.41h-4.41zM524.67 154.24h4.41v4.41h-4.41zM533.39 149.88h4.41v4.41h-4.41zM529.03 154.24h4.41v4.41h-4.41zM533.39 154.24h4.41v4.41h-4.41zM546.48 149.88h4.41v4.41h-4.41zM550.84 149.88h4.41v4.41h-4.41zM550.84 154.24h4.41v4.41h-4.41zM555.20 149.88h4.41v4.41h-4.41zM559.56 154.24h4.41v4.41h-4.41zM633.72 154.24h4.41v4.41h-4.41zM642.44 149.88h4.41v4.41h-4.41zM651.16 149.88h4.41v4.41h-4.41zM651.16 154.24h4.41v4.41h-4.41zM668.61 154.24h4.41v4.41h-4.41zM672.97 154.24h4.41v4.41h-4.41zM677.34 149.88h4.41v4.41h-4.41zM681.70 149.88h4.41v4.41h-4.41zM681.70 154.24h4.41v4.41h-4.41zM686.06 149.88h4.41v4.41h-4.41zM690.42 154.24h4.41v4.41h-4.41zM699.15 149.88h4.41v4.41h-4.41zM694.78 154.24h4.41v4.41h-4.41zM699.15 154.24h4.41v4.41h-4.41zM716.59 149.88h4.41v4.41h-4.41zM729.68 149.88h4.41v4.41h-4.41zM734.04 149.88h4.41v4.41h-4.41zM773.30 149.88h4.41v4.41h-4.41zM777.66 149.88h4.41v4.41h-4.41zM472.32 158.60h4.41v4.41h-4.41zM472.32 162.96h4.41v4.41h-4.41zM481.05 158.60h4.41v4.41h-4.41zM476.68 162.96h4.41v4.41h-4.41zM481.05 162.96h4.41v4.41h-4.41zM494.13 158.60h4.41v4.41h-4.41zM498.49 162.96h4.41v4.41h-4.41zM520.30 158.60h4.41v4.41h-4.41zM533.39 158.60h4.41v4.41h-4.41zM537.75 158.60h4.41v4.41h-4.41zM542.11 158.60h4.41v4.41h-4.41zM537.75 162.96h4.41v4.41h-4.41zM542.11 162.96h4.41v4.41h-4.41zM546.48 162.96h4.41v4.41h-4.41zM550.84 162.96h4.41v4.41h-4.41zM559.56 158.60h4.41v4.41h-4.41zM555.20 162.96h4.41v4.41h-4.41zM642.44 158.60h4.41v4.41h-4.41zM651.16 158.60h4.41v4.41h-4.41zM655.53 158.60h4.41v4.41h-4.41zM672.97 158.60h4.41v4.41h-4.41zM686.06 162.96h4.41v4.41h-4.41zM694.78 158.60h4.41v4.41h-4.41zM694.78 162.96h4.41v4.41h-4.41zM463.60 167.32h4.41v4.41h-4.41zM463.60 171.69h4.41v4.41h-4.41zM498.49 167.32h4.41v4.41h-4.41zM515.94 171.69h4.41v4.41h-4.41zM537.75 167.32h4.41v4.41h-4.41zM537.75 171.69h4.41v4.41h-4.41zM542.11 171.69h4.41v4.41h-4.41zM437.43 176.05h4.41v4.41h-4.41zM459.24 176.05h4.41v4.41h-4.41zM463.60 180.41h4.41v4.41h-4.41zM502.86 180.41h4.41v4.41h-4.41zM507.22 180.41h4.41v4.41h-4.41zM515.94 180.41h4.41v4.41h-4.41zM520.30 180.41h4.41v4.41h-4.41zM542.11 180.41h4.41v4.41h-4.41zM546.48 176.05h4.41v4.41h-4.41zM546.48 180.41h4.41v4.41h-4.41zM555.20 180.41h4.41v4.41h-4.41zM672.97 176.05h4.41v4.41h-4.41zM668.61 180.41h4.41v4.41h-4.41zM672.97 180.41h4.41v4.41h-4.41zM494.13 189.13h4.41v4.41h-4.41zM507.22 189.13h4.41v4.41h-4.41zM511.58 184.77h4.41v4.41h-4.41zM515.94 189.13h4.41v4.41h-4.41zM537.75 184.77h4.41v4.41h-4.41zM498.49 193.50h4.41v4.41h-4.41zM511.58 193.50h4.41v4.41h-4.41zM515.94 193.50h4.41v4.41h-4.41zM511.58 197.86h4.41v4.41h-4.41zM515.94 197.86h4.41v4.41h-4.41zM524.67 193.50h4.41v4.41h-4.41zM520.30 197.86h4.41v4.41h-4.41zM529.03 193.50h4.41v4.41h-4.41zM651.16 197.86h4.41v4.41h-4.41zM515.94 202.22h4.41v4.41h-4.41zM511.58 206.58h4.41v4.41h-4.41zM515.94 206.58h4.41v4.41h-4.41zM524.67 206.58h4.41v4.41h-4.41zM546.48 202.22h4.41v4.41h-4.41zM620.63 202.22h4.41v4.41h-4.41zM720.96 202.22h4.41v4.41h-4.41zM533.39 210.94h4.41v4.41h-4.41zM529.03 215.31h4.41v4.41h-4.41zM546.48 210.94h4.41v4.41h-4.41zM546.48 215.31h4.41v4.41h-4.41zM555.20 210.94h4.41v4.41h-4.41zM581.37 215.31h4.41v4.41h-4.41zM633.72 215.31h4.41v4.41h-4.41zM441.79 224.03h4.41v4.41h-4.41zM450.51 224.03h4.41v4.41h-4.41zM454.87 224.03h4.41v4.41h-4.41zM476.68 224.03h4.41v4.41h-4.41zM485.41 219.67h4.41v4.41h-4.41zM489.77 219.67h4.41v4.41h-4.41zM502.86 224.03h4.41v4.41h-4.41zM515.94 219.67h4.41v4.41h-4.41zM524.67 219.67h4.41v4.41h-4.41zM524.67 224.03h4.41v4.41h-4.41zM529.03 219.67h4.41v4.41h-4.41zM533.39 219.67h4.41v4.41h-4.41zM529.03 224.03h4.41v4.41h-4.41zM542.11 219.67h4.41v4.41h-4.41zM537.75 224.03h4.41v4.41h-4.41zM563.92 224.03h4.41v4.41h-4.41zM568.29 224.03h4.41v4.41h-4.41zM572.65 219.67h4.41v4.41h-4.41zM577.01 219.67h4.41v4.41h-4.41zM581.37 219.67h4.41v4.41h-4.41zM638.08 219.67h4.41v4.41h-4.41zM424.34 228.39h4.41v4.41h-4.41zM428.70 228.39h4.41v4.41h-4.41zM454.87 228.39h4.41v4.41h-4.41zM454.87 232.75h4.41v4.41h-4.41zM476.68 228.39h4.41v4.41h-4.41zM476.68 232.75h4.41v4.41h-4.41zM485.41 232.75h4.41v4.41h-4.41zM489.77 232.75h4.41v4.41h-4.41zM498.49 228.39h4.41v4.41h-4.41zM494.13 232.75h4.41v4.41h-4.41zM498.49 232.75h4.41v4.41h-4.41zM502.86 228.39h4.41v4.41h-4.41zM507.22 228.39h4.41v4.41h-4.41zM507.22 232.75h4.41v4.41h-4.41zM533.39 228.39h4.41v4.41h-4.41zM594.46 228.39h4.41v4.41h-4.41zM633.72 228.39h4.41v4.41h-4.41zM638.08 228.39h4.41v4.41h-4.41zM638.08 232.75h4.41v4.41h-4.41zM651.16 228.39h4.41v4.41h-4.41zM651.16 232.75h4.41v4.41h-4.41zM655.53 232.75h4.41v4.41h-4.41zM424.34 241.48h4.41v4.41h-4.41zM498.49 241.48h4.41v4.41h-4.41zM633.72 237.12h4.41v4.41h-4.41zM633.72 241.48h4.41v4.41h-4.41zM642.44 241.48h4.41v4.41h-4.41zM646.80 241.48h4.41v4.41h-4.41zM529.03 250.20h4.41v4.41h-4.41zM633.72 254.56h4.41v4.41h-4.41zM638.08 254.56h4.41v4.41h-4.41zM633.72 258.93h4.41v4.41h-4.41zM511.58 267.65h4.41v4.41h-4.41zM633.72 263.29h4.41v4.41h-4.41zM638.08 263.29h4.41v4.41h-4.41zM550.84 276.37h4.41v4.41h-4.41zM572.65 272.01h4.41v4.41h-4.41zM572.65 276.37h4.41v4.41h-4.41zM555.20 280.74h4.41v4.41h-4.41zM594.46 280.74h4.41v4.41h-4.41zM590.10 285.10h4.41v4.41h-4.41zM594.46 285.10h4.41v4.41h-4.41zM603.18 280.74h4.41v4.41h-4.41zM598.82 285.10h4.41v4.41h-4.41zM524.67 289.46h4.41v4.41h-4.41zM546.48 289.46h4.41v4.41h-4.41zM546.48 293.82h4.41v4.41h-4.41zM550.84 293.82h4.41v4.41h-4.41zM568.29 293.82h4.41v4.41h-4.41zM616.27 289.46h4.41v4.41h-4.41zM629.35 293.82h4.41v4.41h-4.41zM520.30 298.18h4.41v4.41h-4.41zM520.30 302.55h4.41v4.41h-4.41zM524.67 302.55h4.41v4.41h-4.41zM559.56 298.18h4.41v4.41h-4.41zM563.92 302.55h4.41v4.41h-4.41zM577.01 298.18h4.41v4.41h-4.41zM616.27 298.18h4.41v4.41h-4.41zM620.63 302.55h4.41v4.41h-4.41zM624.99 298.18h4.41v4.41h-4.41zM629.35 298.18h4.41v4.41h-4.41zM624.99 302.55h4.41v4.41h-4.41zM629.35 302.55h4.41v4.41h-4.41zM633.72 302.55h4.41v4.41h-4.41zM563.92 306.91h4.41v4.41h-4.41zM568.29 311.27h4.41v4.41h-4.41zM572.65 306.91h4.41v4.41h-4.41zM616.27 311.27h4.41v4.41h-4.41zM633.72 306.91h4.41v4.41h-4.41zM633.72 311.27h4.41v4.41h-4.41zM642.44 311.27h4.41v4.41h-4.41zM616.27 315.63h4.41v4.41h-4.41zM672.97 319.99h4.41v4.41h-4.41zM668.61 319.99h4.41v4.41h-4.41zM699.15 319.99h4.41v4.41h-4.41z"/><path fill="#438aa0" d="M467.96 32.10h4.41v4.41h-4.41zM529.03 32.10h4.41v4.41h-4.41zM655.53 27.74h4.41v4.41h-4.41zM655.53 32.10h4.41v4.41h-4.41zM463.60 53.91h4.41v4.41h-4.41zM577.01 53.91h4.41v4.41h-4.41zM720.96 58.27h4.41v4.41h-4.41zM729.68 58.27h4.41v4.41h-4.41zM734.04 58.27h4.41v4.41h-4.41zM742.77 58.27h4.41v4.41h-4.41zM773.30 58.27h4.41v4.41h-4.41zM568.29 67.00h4.41v4.41h-4.41zM624.99 62.64h4.41v4.41h-4.41zM629.35 62.64h4.41v4.41h-4.41zM629.35 67.00h4.41v4.41h-4.41zM638.08 62.64h4.41v4.41h-4.41zM646.80 62.64h4.41v4.41h-4.41zM642.44 67.00h4.41v4.41h-4.41zM646.80 67.00h4.41v4.41h-4.41zM494.13 71.36h4.41v4.41h-4.41zM563.92 75.72h4.41v4.41h-4.41zM577.01 71.36h4.41v4.41h-4.41zM594.46 75.72h4.41v4.41h-4.41zM603.18 71.36h4.41v4.41h-4.41zM620.63 75.72h4.41v4.41h-4.41zM624.99 75.72h4.41v4.41h-4.41zM629.35 75.72h4.41v4.41h-4.41zM638.08 75.72h4.41v4.41h-4.41zM646.80 71.36h4.41v4.41h-4.41zM690.42 75.72h4.41v4.41h-4.41zM751.49 71.36h4.41v4.41h-4.41zM782.02 71.36h4.41v4.41h-4.41zM786.39 71.36h4.41v4.41h-4.41zM782.02 75.72h4.41v4.41h-4.41zM433.06 84.45h4.41v4.41h-4.41zM467.96 80.08h4.41v4.41h-4.41zM494.13 80.08h4.41v4.41h-4.41zM502.86 84.45h4.41v4.41h-4.41zM511.58 84.45h4.41v4.41h-4.41zM585.73 80.08h4.41v4.41h-4.41zM594.46 80.08h4.41v4.41h-4.41zM598.82 84.45h4.41v4.41h-4.41zM607.54 84.45h4.41v4.41h-4.41zM611.91 84.45h4.41v4.41h-4.41zM633.72 84.45h4.41v4.41h-4.41zM638.08 84.45h4.41v4.41h-4.41zM646.80 80.08h4.41v4.41h-4.41zM646.80 84.45h4.41v4.41h-4.41zM677.34 80.08h4.41v4.41h-4.41zM681.70 84.45h4.41v4.41h-4.41zM782.02 84.45h4.41v4.41h-4.41zM786.39 84.45h4.41v4.41h-4.41zM515.94 88.81h4.41v4.41h-4.41zM515.94 93.17h4.41v4.41h-4.41zM563.92 88.81h4.41v4.41h-4.41zM568.29 88.81h4.41v4.41h-4.41zM572.65 88.81h4.41v4.41h-4.41zM572.65 93.17h4.41v4.41h-4.41zM607.54 88.81h4.41v4.41h-4.41zM611.91 88.81h4.41v4.41h-4.41zM633.72 88.81h4.41v4.41h-4.41zM633.72 93.17h4.41v4.41h-4.41zM646.80 88.81h4.41v4.41h-4.41zM646.80 93.17h4.41v4.41h-4.41zM681.70 88.81h4.41v4.41h-4.41zM694.78 88.81h4.41v4.41h-4.41zM699.15 88.81h4.41v4.41h-4.41zM699.15 93.17h4.41v4.41h-4.41zM467.96 97.53h4.41v4.41h-4.41zM568.29 97.53h4.41v4.41h-4.41zM568.29 101.89h4.41v4.41h-4.41zM577.01 101.89h4.41v4.41h-4.41zM585.73 101.89h4.41v4.41h-4.41zM590.10 97.53h4.41v4.41h-4.41zM594.46 101.89h4.41v4.41h-4.41zM603.18 101.89h4.41v4.41h-4.41zM616.27 101.89h4.41v4.41h-4.41zM620.63 101.89h4.41v4.41h-4.41zM633.72 97.53h4.41v4.41h-4.41zM638.08 97.53h4.41v4.41h-4.41zM655.53 97.53h4.41v4.41h-4.41zM686.06 97.53h4.41v4.41h-4.41zM690.42 97.53h4.41v4.41h-4.41zM472.32 110.62h4.41v4.41h-4.41zM559.56 110.62h4.41v4.41h-4.41zM568.29 110.62h4.41v4.41h-4.41zM577.01 106.26h4.41v4.41h-4.41zM594.46 110.62h4.41v4.41h-4.41zM603.18 106.26h4.41v4.41h-4.41zM611.91 106.26h4.41v4.41h-4.41zM620.63 106.26h4.41v4.41h-4.41zM616.27 110.62h4.41v4.41h-4.41zM629.35 106.26h4.41v4.41h-4.41zM520.30 114.98h4.41v4.41h-4.41zM581.37 114.98h4.41v4.41h-4.41zM585.73 119.34h4.41v4.41h-4.41zM590.10 114.98h4.41v4.41h-4.41zM594.46 114.98h4.41v4.41h-4.41zM594.46 119.34h4.41v4.41h-4.41zM607.54 114.98h4.41v4.41h-4.41zM607.54 119.34h4.41v4.41h-4.41zM620.63 114.98h4.41v4.41h-4.41zM616.27 119.34h4.41v4.41h-4.41zM651.16 114.98h4.41v4.41h-4.41zM546.48 123.70h4.41v4.41h-4.41zM546.48 128.07h4.41v4.41h-4.41zM550.84 128.07h4.41v4.41h-4.41zM559.56 123.70h4.41v4.41h-4.41zM559.56 128.07h4.41v4.41h-4.41zM563.92 128.07h4.41v4.41h-4.41zM572.65 123.70h4.41v4.41h-4.41zM581.37 123.70h4.41v4.41h-4.41zM585.73 123.70h4.41v4.41h-4.41zM581.37 128.07h4.41v4.41h-4.41zM585.73 128.07h4.41v4.41h-4.41zM590.10 123.70h4.41v4.41h-4.41zM590.10 128.07h4.41v4.41h-4.41zM594.46 128.07h4.41v4.41h-4.41zM611.91 128.07h4.41v4.41h-4.41zM646.80 128.07h4.41v4.41h-4.41zM651.16 123.70h4.41v4.41h-4.41zM651.16 128.07h4.41v4.41h-4.41zM786.39 128.07h4.41v4.41h-4.41zM537.75 136.79h4.41v4.41h-4.41zM542.11 136.79h4.41v4.41h-4.41zM550.84 132.43h4.41v4.41h-4.41zM546.48 136.79h4.41v4.41h-4.41zM550.84 136.79h4.41v4.41h-4.41zM555.20 136.79h4.41v4.41h-4.41zM568.29 136.79h4.41v4.41h-4.41zM585.73 136.79h4.41v4.41h-4.41zM590.10 132.43h4.41v4.41h-4.41zM590.10 136.79h4.41v4.41h-4.41zM598.82 136.79h4.41v4.41h-4.41zM616.27 136.79h4.41v4.41h-4.41zM624.99 132.43h4.41v4.41h-4.41zM629.35 136.79h4.41v4.41h-4.41zM638.08 136.79h4.41v4.41h-4.41zM655.53 132.43h4.41v4.41h-4.41zM651.16 136.79h4.41v4.41h-4.41zM664.25 132.43h4.41v4.41h-4.41zM659.89 136.79h4.41v4.41h-4.41zM664.25 136.79h4.41v4.41h-4.41zM485.41 141.15h4.41v4.41h-4.41zM494.13 145.51h4.41v4.41h-4.41zM502.86 141.15h4.41v4.41h-4.41zM511.58 141.15h4.41v4.41h-4.41zM515.94 141.15h4.41v4.41h-4.41zM511.58 145.51h4.41v4.41h-4.41zM515.94 145.51h4.41v4.41h-4.41zM533.39 141.15h4.41v4.41h-4.41zM529.03 145.51h4.41v4.41h-4.41zM533.39 145.51h4.41v4.41h-4.41zM537.75 141.15h4.41v4.41h-4.41zM537.75 145.51h4.41v4.41h-4.41zM542.11 145.51h4.41v4.41h-4.41zM572.65 141.15h4.41v4.41h-4.41zM577.01 141.15h4.41v4.41h-4.41zM572.65 145.51h4.41v4.41h-4.41zM577.01 145.51h4.41v4.41h-4.41zM607.54 141.15h4.41v4.41h-4.41zM620.63 141.15h4.41v4.41h-4.41zM616.27 145.51h4.41v4.41h-4.41zM620.63 145.51h4.41v4.41h-4.41zM629.35 141.15h4.41v4.41h-4.41zM646.80 141.15h4.41v4.41h-4.41zM646.80 145.51h4.41v4.41h-4.41zM651.16 141.15h4.41v4.41h-4.41zM651.16 145.51h4.41v4.41h-4.41zM659.89 141.15h4.41v4.41h-4.41zM664.25 141.15h4.41v4.41h-4.41zM725.32 145.51h4.41v4.41h-4.41zM742.77 145.51h4.41v4.41h-4.41zM751.49 145.51h4.41v4.41h-4.41zM755.85 141.15h4.41v4.41h-4.41zM773.30 145.51h4.41v4.41h-4.41zM494.13 154.24h4.41v4.41h-4.41zM507.22 149.88h4.41v4.41h-4.41zM502.86 154.24h4.41v4.41h-4.41zM529.03 149.88h4.41v4.41h-4.41zM537.75 149.88h4.41v4.41h-4.41zM537.75 154.24h4.41v4.41h-4.41zM542.11 154.24h4.41v4.41h-4.41zM620.63 149.88h4.41v4.41h-4.41zM624.99 154.24h4.41v4.41h-4.41zM633.72 149.88h4.41v4.41h-4.41zM646.80 149.88h4.41v4.41h-4.41zM642.44 154.24h4.41v4.41h-4.41zM646.80 154.24h4.41v4.41h-4.41zM655.53 154.24h4.41v4.41h-4.41zM668.61 149.88h4.41v4.41h-4.41zM677.34 154.24h4.41v4.41h-4.41zM690.42 149.88h4.41v4.41h-4.41zM712.23 154.24h4.41v4.41h-4.41zM716.59 154.24h4.41v4.41h-4.41zM734.04 154.24h4.41v4.41h-4.41zM494.13 162.96h4.41v4.41h-4.41zM502.86 158.60h4.41v4.41h-4.41zM507.22 158.60h4.41v4.41h-4.41zM502.86 162.96h4.41v4.41h-4.41zM524.67 162.96h4.41v4.41h-4.41zM529.03 158.60h4.41v4.41h-4.41zM529.03 162.96h4.41v4.41h-4.41zM555.20 158.60h4.41v4.41h-4.41zM581.37 162.96h4.41v4.41h-4.41zM620.63 158.60h4.41v4.41h-4.41zM638.08 158.60h4.41v4.41h-4.41zM642.44 162.96h4.41v4.41h-4.41zM651.16 162.96h4.41v4.41h-4.41zM655.53 162.96h4.41v4.41h-4.41zM668.61 158.60h4.41v4.41h-4.41zM668.61 162.96h4.41v4.41h-4.41zM672.97 162.96h4.41v4.41h-4.41zM686.06 158.60h4.41v4.41h-4.41zM690.42 162.96h4.41v4.41h-4.41zM454.87 171.69h4.41v4.41h-4.41zM459.24 171.69h4.41v4.41h-4.41zM467.96 167.32h4.41v4.41h-4.41zM472.32 167.32h4.41v4.41h-4.41zM472.32 171.69h4.41v4.41h-4.41zM502.86 171.69h4.41v4.41h-4.41zM515.94 167.32h4.41v4.41h-4.41zM511.58 171.69h4.41v4.41h-4.41zM520.30 167.32h4.41v4.41h-4.41zM529.03 167.32h4.41v4.41h-4.41zM533.39 167.32h4.41v4.41h-4.41zM529.03 171.69h4.41v4.41h-4.41zM550.84 167.32h4.41v4.41h-4.41zM559.56 167.32h4.41v4.41h-4.41zM559.56 171.69h4.41v4.41h-4.41zM598.82 171.69h4.41v4.41h-4.41zM664.25 167.32h4.41v4.41h-4.41zM502.86 176.05h4.41v4.41h-4.41zM515.94 176.05h4.41v4.41h-4.41zM511.58 180.41h4.41v4.41h-4.41zM520.30 176.05h4.41v4.41h-4.41zM524.67 180.41h4.41v4.41h-4.41zM529.03 176.05h4.41v4.41h-4.41zM533.39 180.41h4.41v4.41h-4.41zM537.75 176.05h4.41v4.41h-4.41zM542.11 176.05h4.41v4.41h-4.41zM537.75 180.41h4.41v4.41h-4.41zM550.84 180.41h4.41v4.41h-4.41zM555.20 176.05h4.41v4.41h-4.41zM559.56 176.05h4.41v4.41h-4.41zM559.56 180.41h4.41v4.41h-4.41zM572.65 180.41h4.41v4.41h-4.41zM577.01 180.41h4.41v4.41h-4.41zM585.73 180.41h4.41v4.41h-4.41zM590.10 176.05h4.41v4.41h-4.41zM594.46 176.05h4.41v4.41h-4.41zM590.10 180.41h4.41v4.41h-4.41zM594.46 180.41h4.41v4.41h-4.41zM620.63 176.05h4.41v4.41h-4.41zM716.59 180.41h4.41v4.41h-4.41zM515.94 184.77h4.41v4.41h-4.41zM524.67 184.77h4.41v4.41h-4.41zM542.11 184.77h4.41v4.41h-4.41zM537.75 189.13h4.41v4.41h-4.41zM542.11 189.13h4.41v4.41h-4.41zM546.48 184.77h4.41v4.41h-4.41zM572.65 189.13h4.41v4.41h-4.41zM624.99 184.77h4.41v4.41h-4.41zM624.99 189.13h4.41v4.41h-4.41zM629.35 189.13h4.41v4.41h-4.41zM520.30 193.50h4.41v4.41h-4.41zM524.67 197.86h4.41v4.41h-4.41zM533.39 193.50h4.41v4.41h-4.41zM529.03 197.86h4.41v4.41h-4.41zM616.27 193.50h4.41v4.41h-4.41zM620.63 193.50h4.41v4.41h-4.41zM616.27 197.86h4.41v4.41h-4.41zM620.63 197.86h4.41v4.41h-4.41zM668.61 193.50h4.41v4.41h-4.41zM672.97 197.86h4.41v4.41h-4.41zM520.30 202.22h4.41v4.41h-4.41zM550.84 202.22h4.41v4.41h-4.41zM546.48 206.58h4.41v4.41h-4.41zM550.84 206.58h4.41v4.41h-4.41zM616.27 202.22h4.41v4.41h-4.41zM616.27 206.58h4.41v4.41h-4.41zM620.63 206.58h4.41v4.41h-4.41zM550.84 215.31h4.41v4.41h-4.41zM559.56 215.31h4.41v4.41h-4.41zM581.37 210.94h4.41v4.41h-4.41zM585.73 210.94h4.41v4.41h-4.41zM594.46 210.94h4.41v4.41h-4.41zM638.08 215.31h4.41v4.41h-4.41zM664.25 215.31h4.41v4.41h-4.41zM446.15 224.03h4.41v4.41h-4.41zM476.68 219.67h4.41v4.41h-4.41zM481.05 224.03h4.41v4.41h-4.41zM489.77 224.03h4.41v4.41h-4.41zM542.11 224.03h4.41v4.41h-4.41zM546.48 219.67h4.41v4.41h-4.41zM546.48 224.03h4.41v4.41h-4.41zM585.73 219.67h4.41v4.41h-4.41zM581.37 224.03h4.41v4.41h-4.41zM585.73 224.03h4.41v4.41h-4.41zM603.18 219.67h4.41v4.41h-4.41zM598.82 224.03h4.41v4.41h-4.41zM633.72 219.67h4.41v4.41h-4.41zM633.72 224.03h4.41v4.41h-4.41zM659.89 219.67h4.41v4.41h-4.41zM450.51 228.39h4.41v4.41h-4.41zM485.41 228.39h4.41v4.41h-4.41zM494.13 228.39h4.41v4.41h-4.41zM529.03 232.75h4.41v4.41h-4.41zM585.73 228.39h4.41v4.41h-4.41zM581.37 232.75h4.41v4.41h-4.41zM494.13 237.12h4.41v4.41h-4.41zM498.49 237.12h4.41v4.41h-4.41zM638.08 241.48h4.41v4.41h-4.41zM638.08 245.84h4.41v4.41h-4.41zM633.72 250.20h4.41v4.41h-4.41zM638.08 250.20h4.41v4.41h-4.41zM515.94 263.29h4.41v4.41h-4.41zM603.18 285.10h4.41v4.41h-4.41zM550.84 289.46h4.41v4.41h-4.41zM581.37 289.46h4.41v4.41h-4.41zM581.37 293.82h4.41v4.41h-4.41zM585.73 293.82h4.41v4.41h-4.41zM620.63 293.82h4.41v4.41h-4.41zM629.35 289.46h4.41v4.41h-4.41zM559.56 302.55h4.41v4.41h-4.41zM563.92 298.18h4.41v4.41h-4.41zM568.29 302.55h4.41v4.41h-4.41zM572.65 302.55h4.41v4.41h-4.41zM577.01 302.55h4.41v4.41h-4.41zM620.63 298.18h4.41v4.41h-4.41zM646.80 302.55h4.41v4.41h-4.41zM568.29 306.91h4.41v4.41h-4.41zM563.92 311.27h4.41v4.41h-4.41zM620.63 311.27h4.41v4.41h-4.41zM624.99 311.27h4.41v4.41h-4.41zM638.08 306.91h4.41v4.41h-4.41zM677.34 319.99h4.41v4.41h-4.41zM677.34 315.63h4.41v4.41h-4.41z"/><path fill="#5b5fa5" d="M559.56 32.10h4.41v4.41h-4.41zM738.40 27.74h4.41v4.41h-4.41zM642.44 40.83h4.41v4.41h-4.41zM672.97 36.46h4.41v4.41h-4.41zM642.44 49.55h4.41v4.41h-4.41zM646.80 49.55h4.41v4.41h-4.41zM699.15 45.19h4.41v4.41h-4.41zM524.67 58.27h4.41v4.41h-4.41zM572.65 58.27h4.41v4.41h-4.41zM720.96 53.91h4.41v4.41h-4.41zM734.04 53.91h4.41v4.41h-4.41zM742.77 53.91h4.41v4.41h-4.41zM773.30 53.91h4.41v4.41h-4.41zM782.02 53.91h4.41v4.41h-4.41zM786.39 58.27h4.41v4.41h-4.41zM598.82 62.64h4.41v4.41h-4.41zM603.18 62.64h4.41v4.41h-4.41zM598.82 67.00h4.41v4.41h-4.41zM603.18 67.00h4.41v4.41h-4.41zM633.72 67.00h4.41v4.41h-4.41zM642.44 62.64h4.41v4.41h-4.41zM651.16 62.64h4.41v4.41h-4.41zM655.53 67.00h4.41v4.41h-4.41zM729.68 67.00h4.41v4.41h-4.41zM433.06 71.36h4.41v4.41h-4.41zM502.86 71.36h4.41v4.41h-4.41zM507.22 75.72h4.41v4.41h-4.41zM598.82 71.36h4.41v4.41h-4.41zM598.82 75.72h4.41v4.41h-4.41zM603.18 75.72h4.41v4.41h-4.41zM624.99 71.36h4.41v4.41h-4.41zM629.35 71.36h4.41v4.41h-4.41zM633.72 71.36h4.41v4.41h-4.41zM633.72 75.72h4.41v4.41h-4.41zM642.44 75.72h4.41v4.41h-4.41zM646.80 75.72h4.41v4.41h-4.41zM651.16 71.36h4.41v4.41h-4.41zM651.16 75.72h4.41v4.41h-4.41zM677.34 71.36h4.41v4.41h-4.41zM690.42 71.36h4.41v4.41h-4.41zM686.06 75.72h4.41v4.41h-4.41zM703.51 71.36h4.41v4.41h-4.41zM786.39 75.72h4.41v4.41h-4.41zM472.32 80.08h4.41v4.41h-4.41zM467.96 84.45h4.41v4.41h-4.41zM472.32 84.45h4.41v4.41h-4.41zM498.49 84.45h4.41v4.41h-4.41zM502.86 80.08h4.41v4.41h-4.41zM507.22 84.45h4.41v4.41h-4.41zM511.58 80.08h4.41v4.41h-4.41zM515.94 80.08h4.41v4.41h-4.41zM520.30 84.45h4.41v4.41h-4.41zM524.67 84.45h4.41v4.41h-4.41zM533.39 80.08h4.41v4.41h-4.41zM529.03 84.45h4.41v4.41h-4.41zM533.39 84.45h4.41v4.41h-4.41zM603.18 80.08h4.41v4.41h-4.41zM607.54 80.08h4.41v4.41h-4.41zM616.27 80.08h4.41v4.41h-4.41zM620.63 80.08h4.41v4.41h-4.41zM616.27 84.45h4.41v4.41h-4.41zM620.63 84.45h4.41v4.41h-4.41zM624.99 84.45h4.41v4.41h-4.41zM642.44 84.45h4.41v4.41h-4.41zM446.15 93.17h4.41v4.41h-4.41zM498.49 93.17h4.41v4.41h-4.41zM507.22 88.81h4.41v4.41h-4.41zM507.22 93.17h4.41v4.41h-4.41zM511.58 93.17h4.41v4.41h-4.41zM529.03 93.17h4.41v4.41h-4.41zM563.92 93.17h4.41v4.41h-4.41zM568.29 93.17h4.41v4.41h-4.41zM577.01 88.81h4.41v4.41h-4.41zM616.27 93.17h4.41v4.41h-4.41zM620.63 93.17h4.41v4.41h-4.41zM642.44 88.81h4.41v4.41h-4.41zM655.53 88.81h4.41v4.41h-4.41zM782.02 88.81h4.41v4.41h-4.41zM782.02 93.17h4.41v4.41h-4.41zM786.39 93.17h4.41v4.41h-4.41zM563.92 97.53h4.41v4.41h-4.41zM563.92 101.89h4.41v4.41h-4.41zM581.37 97.53h4.41v4.41h-4.41zM585.73 97.53h4.41v4.41h-4.41zM581.37 101.89h4.41v4.41h-4.41zM590.10 101.89h4.41v4.41h-4.41zM611.91 97.53h4.41v4.41h-4.41zM620.63 97.53h4.41v4.41h-4.41zM633.72 101.89h4.41v4.41h-4.41zM638.08 101.89h4.41v4.41h-4.41zM646.80 101.89h4.41v4.41h-4.41zM651.16 97.53h4.41v4.41h-4.41zM651.16 101.89h4.41v4.41h-4.41zM664.25 101.89h4.41v4.41h-4.41zM742.77 97.53h4.41v4.41h-4.41zM742.77 101.89h4.41v4.41h-4.41zM773.30 101.89h4.41v4.41h-4.41zM467.96 110.62h4.41v4.41h-4.41zM481.05 106.26h4.41v4.41h-4.41zM533.39 110.62h4.41v4.41h-4.41zM529.03 106.26h4.41v4.41h-4.41zM555.20 110.62h4.41v4.41h-4.41zM563.92 106.26h4.41v4.41h-4.41zM568.29 106.26h4.41v4.41h-4.41zM563.92 110.62h4.41v4.41h-4.41zM590.10 106.26h4.41v4.41h-4.41zM590.10 110.62h4.41v4.41h-4.41zM607.54 106.26h4.41v4.41h-4.41zM607.54 110.62h4.41v4.41h-4.41zM624.99 110.62h4.41v4.41h-4.41zM629.35 110.62h4.41v4.41h-4.41zM633.72 110.62h4.41v4.41h-4.41zM668.61 106.26h4.41v4.41h-4.41zM764.58 110.62h4.41v4.41h-4.41zM777.66 106.26h4.41v4.41h-4.41zM773.30 110.62h4.41v4.41h-4.41zM777.66 110.62h4.41v4.41h-4.41zM546.48 119.34h4.41v4.41h-4.41zM550.84 119.34h4.41v4.41h-4.41zM585.73 114.98h4.41v4.41h-4.41zM581.37 119.34h4.41v4.41h-4.41zM590.10 119.34h4.41v4.41h-4.41zM611.91 119.34h4.41v4.41h-4.41zM616.27 114.98h4.41v4.41h-4.41zM620.63 119.34h4.41v4.41h-4.41zM646.80 114.98h4.41v4.41h-4.41zM642.44 119.34h4.41v4.41h-4.41zM655.53 114.98h4.41v4.41h-4.41zM651.16 119.34h4.41v4.41h-4.41zM655.53 119.34h4.41v4.41h-4.41zM777.66 114.98h4.41v4.41h-4.41zM481.05 128.07h4.41v4.41h-4.41zM594.46 123.70h4.41v4.41h-4.41zM607.54 128.07h4.41v4.41h-4.41zM764.58 123.70h4.41v4.41h-4.41zM773.30 128.07h4.41v4.41h-4.41zM515.94 136.79h4.41v4.41h-4.41zM537.75 132.43h4.41v4.41h-4.41zM555.20 132.43h4.41v4.41h-4.41zM559.56 132.43h4.41v4.41h-4.41zM572.65 132.43h4.41v4.41h-4.41zM577.01 132.43h4.41v4.41h-4.41zM572.65 136.79h4.41v4.41h-4.41zM577.01 136.79h4.41v4.41h-4.41zM581.37 132.43h4.41v4.41h-4.41zM585.73 132.43h4.41v4.41h-4.41zM581.37 136.79h4.41v4.41h-4.41zM603.18 136.79h4.41v4.41h-4.41zM607.54 132.43h4.41v4.41h-4.41zM611.91 132.43h4.41v4.41h-4.41zM607.54 136.79h4.41v4.41h-4.41zM616.27 132.43h4.41v4.41h-4.41zM620.63 132.43h4.41v4.41h-4.41zM651.16 132.43h4.41v4.41h-4.41zM659.89 132.43h4.41v4.41h-4.41zM690.42 136.79h4.41v4.41h-4.41zM703.51 132.43h4.41v4.41h-4.41zM764.58 136.79h4.41v4.41h-4.41zM773.30 132.43h4.41v4.41h-4.41zM777.66 136.79h4.41v4.41h-4.41zM529.03 141.15h4.41v4.41h-4.41zM542.11 141.15h4.41v4.41h-4.41zM581.37 141.15h4.41v4.41h-4.41zM585.73 141.15h4.41v4.41h-4.41zM581.37 145.51h4.41v4.41h-4.41zM585.73 145.51h4.41v4.41h-4.41zM590.10 141.15h4.41v4.41h-4.41zM607.54 145.51h4.41v4.41h-4.41zM611.91 145.51h4.41v4.41h-4.41zM616.27 141.15h4.41v4.41h-4.41zM624.99 141.15h4.41v4.41h-4.41zM624.99 145.51h4.41v4.41h-4.41zM629.35 145.51h4.41v4.41h-4.41zM655.53 141.15h4.41v4.41h-4.41zM659.89 145.51h4.41v4.41h-4.41zM664.25 145.51h4.41v4.41h-4.41zM668.61 141.15h4.41v4.41h-4.41zM672.97 141.15h4.41v4.41h-4.41zM668.61 145.51h4.41v4.41h-4.41zM672.97 145.51h4.41v4.41h-4.41zM677.34 141.15h4.41v4.41h-4.41zM681.70 141.15h4.41v4.41h-4.41zM677.34 145.51h4.41v4.41h-4.41zM681.70 145.51h4.41v4.41h-4.41zM686.06 141.15h4.41v4.41h-4.41zM690.42 141.15h4.41v4.41h-4.41zM686.06 145.51h4.41v4.41h-4.41zM690.42 145.51h4.41v4.41h-4.41zM694.78 145.51h4.41v4.41h-4.41zM707.87 145.51h4.41v4.41h-4.41zM725.32 141.15h4.41v4.41h-4.41zM738.40 141.15h4.41v4.41h-4.41zM542.11 149.88h4.41v4.41h-4.41zM563.92 149.88h4.41v4.41h-4.41zM568.29 149.88h4.41v4.41h-4.41zM563.92 154.24h4.41v4.41h-4.41zM568.29 154.24h4.41v4.41h-4.41zM585.73 149.88h4.41v4.41h-4.41zM594.46 154.24h4.41v4.41h-4.41zM598.82 154.24h4.41v4.41h-4.41zM603.18 154.24h4.41v4.41h-4.41zM607.54 149.88h4.41v4.41h-4.41zM616.27 149.88h4.41v4.41h-4.41zM616.27 154.24h4.41v4.41h-4.41zM620.63 154.24h4.41v4.41h-4.41zM629.35 149.88h4.41v4.41h-4.41zM629.35 154.24h4.41v4.41h-4.41zM655.53 149.88h4.41v4.41h-4.41zM659.89 149.88h4.41v4.41h-4.41zM664.25 154.24h4.41v4.41h-4.41zM672.97 149.88h4.41v4.41h-4.41zM707.87 149.88h4.41v4.41h-4.41zM707.87 154.24h4.41v4.41h-4.41zM712.23 149.88h4.41v4.41h-4.41zM720.96 154.24h4.41v4.41h-4.41zM725.32 154.24h4.41v4.41h-4.41zM729.68 154.24h4.41v4.41h-4.41zM738.40 154.24h4.41v4.41h-4.41zM437.43 158.60h4.41v4.41h-4.41zM463.60 158.60h4.41v4.41h-4.41zM507.22 162.96h4.41v4.41h-4.41zM524.67 158.60h4.41v4.41h-4.41zM520.30 162.96h4.41v4.41h-4.41zM533.39 162.96h4.41v4.41h-4.41zM559.56 162.96h4.41v4.41h-4.41zM568.29 158.60h4.41v4.41h-4.41zM563.92 162.96h4.41v4.41h-4.41zM572.65 158.60h4.41v4.41h-4.41zM581.37 158.60h4.41v4.41h-4.41zM585.73 158.60h4.41v4.41h-4.41zM585.73 162.96h4.41v4.41h-4.41zM590.10 158.60h4.41v4.41h-4.41zM594.46 158.60h4.41v4.41h-4.41zM598.82 158.60h4.41v4.41h-4.41zM598.82 162.96h4.41v4.41h-4.41zM603.18 162.96h4.41v4.41h-4.41zM607.54 158.60h4.41v4.41h-4.41zM607.54 162.96h4.41v4.41h-4.41zM616.27 158.60h4.41v4.41h-4.41zM620.63 162.96h4.41v4.41h-4.41zM629.35 158.60h4.41v4.41h-4.41zM633.72 158.60h4.41v4.41h-4.41zM638.08 162.96h4.41v4.41h-4.41zM646.80 158.60h4.41v4.41h-4.41zM646.80 162.96h4.41v4.41h-4.41zM659.89 158.60h4.41v4.41h-4.41zM664.25 158.60h4.41v4.41h-4.41zM659.89 162.96h4.41v4.41h-4.41zM664.25 162.96h4.41v4.41h-4.41zM681.70 158.60h4.41v4.41h-4.41zM677.34 162.96h4.41v4.41h-4.41zM681.70 162.96h4.41v4.41h-4.41zM725.32 162.96h4.41v4.41h-4.41zM454.87 167.32h4.41v4.41h-4.41zM459.24 167.32h4.41v4.41h-4.41zM467.96 171.69h4.41v4.41h-4.41zM507.22 167.32h4.41v4.41h-4.41zM507.22 171.69h4.41v4.41h-4.41zM524.67 167.32h4.41v4.41h-4.41zM520.30 171.69h4.41v4.41h-4.41zM524.67 171.69h4.41v4.41h-4.41zM533.39 171.69h4.41v4.41h-4.41zM546.48 167.32h4.41v4.41h-4.41zM546.48 171.69h4.41v4.41h-4.41zM550.84 171.69h4.41v4.41h-4.41zM555.20 167.32h4.41v4.41h-4.41zM577.01 167.32h4.41v4.41h-4.41zM577.01 171.69h4.41v4.41h-4.41zM581.37 167.32h4.41v4.41h-4.41zM585.73 167.32h4.41v4.41h-4.41zM581.37 171.69h4.41v4.41h-4.41zM594.46 167.32h4.41v4.41h-4.41zM594.46 171.69h4.41v4.41h-4.41zM603.18 167.32h4.41v4.41h-4.41zM603.18 171.69h4.41v4.41h-4.41zM611.91 171.69h4.41v4.41h-4.41zM616.27 167.32h4.41v4.41h-4.41zM624.99 171.69h4.41v4.41h-4.41zM642.44 167.32h4.41v4.41h-4.41zM646.80 167.32h4.41v4.41h-4.41zM642.44 171.69h4.41v4.41h-4.41zM659.89 167.32h4.41v4.41h-4.41zM659.89 171.69h4.41v4.41h-4.41zM664.25 171.69h4.41v4.41h-4.41zM672.97 167.32h4.41v4.41h-4.41zM672.97 171.69h4.41v4.41h-4.41zM725.32 171.69h4.41v4.41h-4.41zM454.87 180.41h4.41v4.41h-4.41zM511.58 176.05h4.41v4.41h-4.41zM524.67 176.05h4.41v4.41h-4.41zM550.84 176.05h4.41v4.41h-4.41zM563.92 180.41h4.41v4.41h-4.41zM572.65 176.05h4.41v4.41h-4.41zM577.01 176.05h4.41v4.41h-4.41zM585.73 176.05h4.41v4.41h-4.41zM603.18 180.41h4.41v4.41h-4.41zM611.91 180.41h4.41v4.41h-4.41zM616.27 176.05h4.41v4.41h-4.41zM620.63 180.41h4.41v4.41h-4.41zM624.99 176.05h4.41v4.41h-4.41zM629.35 176.05h4.41v4.41h-4.41zM629.35 180.41h4.41v4.41h-4.41zM633.72 180.41h4.41v4.41h-4.41zM712.23 176.05h4.41v4.41h-4.41zM716.59 176.05h4.41v4.41h-4.41zM712.23 180.41h4.41v4.41h-4.41zM738.40 176.05h4.41v4.41h-4.41zM511.58 189.13h4.41v4.41h-4.41zM520.30 184.77h4.41v4.41h-4.41zM524.67 189.13h4.41v4.41h-4.41zM529.03 184.77h4.41v4.41h-4.41zM533.39 189.13h4.41v4.41h-4.41zM550.84 184.77h4.41v4.41h-4.41zM550.84 189.13h4.41v4.41h-4.41zM555.20 189.13h4.41v4.41h-4.41zM572.65 184.77h4.41v4.41h-4.41zM577.01 184.77h4.41v4.41h-4.41zM577.01 189.13h4.41v4.41h-4.41zM581.37 189.13h4.41v4.41h-4.41zM590.10 189.13h4.41v4.41h-4.41zM594.46 189.13h4.41v4.41h-4.41zM603.18 189.13h4.41v4.41h-4.41zM616.27 184.77h4.41v4.41h-4.41zM620.63 184.77h4.41v4.41h-4.41zM616.27 189.13h4.41v4.41h-4.41zM629.35 184.77h4.41v4.41h-4.41zM638.08 184.77h4.41v4.41h-4.41zM672.97 184.77h4.41v4.41h-4.41zM668.61 189.13h4.41v4.41h-4.41zM533.39 197.86h4.41v4.41h-4.41zM546.48 193.50h4.41v4.41h-4.41zM550.84 193.50h4.41v4.41h-4.41zM546.48 197.86h4.41v4.41h-4.41zM550.84 197.86h4.41v4.41h-4.41zM577.01 193.50h4.41v4.41h-4.41zM585.73 193.50h4.41v4.41h-4.41zM594.46 193.50h4.41v4.41h-4.41zM603.18 193.50h4.41v4.41h-4.41zM598.82 197.86h4.41v4.41h-4.41zM611.91 193.50h4.41v4.41h-4.41zM607.54 197.86h4.41v4.41h-4.41zM629.35 197.86h4.41v4.41h-4.41zM559.56 202.22h4.41v4.41h-4.41zM555.20 206.58h4.41v4.41h-4.41zM559.56 206.58h4.41v4.41h-4.41zM568.29 206.58h4.41v4.41h-4.41zM577.01 202.22h4.41v4.41h-4.41zM572.65 206.58h4.41v4.41h-4.41zM585.73 202.22h4.41v4.41h-4.41zM594.46 206.58h4.41v4.41h-4.41zM603.18 202.22h4.41v4.41h-4.41zM603.18 206.58h4.41v4.41h-4.41zM624.99 206.58h4.41v4.41h-4.41zM537.75 210.94h4.41v4.41h-4.41zM550.84 210.94h4.41v4.41h-4.41zM559.56 210.94h4.41v4.41h-4.41zM555.20 215.31h4.41v4.41h-4.41zM563.92 210.94h4.41v4.41h-4.41zM568.29 210.94h4.41v4.41h-4.41zM563.92 215.31h4.41v4.41h-4.41zM572.65 210.94h4.41v4.41h-4.41zM577.01 210.94h4.41v4.41h-4.41zM577.01 215.31h4.41v4.41h-4.41zM585.73 215.31h4.41v4.41h-4.41zM590.10 210.94h4.41v4.41h-4.41zM590.10 215.31h4.41v4.41h-4.41zM594.46 215.31h4.41v4.41h-4.41zM598.82 215.31h4.41v4.41h-4.41zM603.18 215.31h4.41v4.41h-4.41zM607.54 210.94h4.41v4.41h-4.41zM607.54 215.31h4.41v4.41h-4.41zM624.99 210.94h4.41v4.41h-4.41zM633.72 210.94h4.41v4.41h-4.41zM646.80 215.31h4.41v4.41h-4.41zM659.89 210.94h4.41v4.41h-4.41zM659.89 215.31h4.41v4.41h-4.41zM446.15 219.67h4.41v4.41h-4.41zM550.84 224.03h4.41v4.41h-4.41zM590.10 219.67h4.41v4.41h-4.41zM590.10 224.03h4.41v4.41h-4.41zM594.46 224.03h4.41v4.41h-4.41zM598.82 219.67h4.41v4.41h-4.41zM607.54 224.03h4.41v4.41h-4.41zM620.63 219.67h4.41v4.41h-4.41zM620.63 224.03h4.41v4.41h-4.41zM624.99 219.67h4.41v4.41h-4.41zM629.35 224.03h4.41v4.41h-4.41zM638.08 224.03h4.41v4.41h-4.41zM664.25 224.03h4.41v4.41h-4.41zM581.37 228.39h4.41v4.41h-4.41zM594.46 232.75h4.41v4.41h-4.41zM437.43 241.48h4.41v4.41h-4.41zM450.51 241.48h4.41v4.41h-4.41zM494.13 241.48h4.41v4.41h-4.41zM581.37 241.48h4.41v4.41h-4.41zM638.08 237.12h4.41v4.41h-4.41zM581.37 258.93h4.41v4.41h-4.41zM507.22 267.65h4.41v4.41h-4.41zM520.30 280.74h4.41v4.41h-4.41zM616.27 285.10h4.41v4.41h-4.41zM568.29 298.18h4.41v4.41h-4.41zM572.65 298.18h4.41v4.41h-4.41zM585.73 298.18h4.41v4.41h-4.41zM581.37 302.55h4.41v4.41h-4.41zM642.44 298.18h4.41v4.41h-4.41zM533.39 306.91h4.41v4.41h-4.41zM533.39 311.27h4.41v4.41h-4.41zM638.08 311.27h4.41v4.41h-4.41zM642.44 306.91h4.41v4.41h-4.41zM646.80 306.91h4.41v4.41h-4.41zM646.80 311.27h4.41v4.41h-4.41zM651.16 311.27h4.41v4.41h-4.41z"/><path fill="#622570" d="M555.20 32.10h4.41v4.41h-4.41zM581.37 32.10h4.41v4.41h-4.41zM699.15 32.10h4.41v4.41h-4.41zM734.04 27.74h4.41v4.41h-4.41zM729.68 32.10h4.41v4.41h-4.41zM734.04 32.10h4.41v4.41h-4.41zM742.77 27.74h4.41v4.41h-4.41zM742.77 32.10h4.41v4.41h-4.41zM668.61 40.83h4.41v4.41h-4.41zM720.96 36.46h4.41v4.41h-4.41zM725.32 40.83h4.41v4.41h-4.41zM642.44 45.19h4.41v4.41h-4.41zM646.80 45.19h4.41v4.41h-4.41zM524.67 53.91h4.41v4.41h-4.41zM577.01 58.27h4.41v4.41h-4.41zM651.16 58.27h4.41v4.41h-4.41zM725.32 58.27h4.41v4.41h-4.41zM755.85 53.91h4.41v4.41h-4.41zM760.21 53.91h4.41v4.41h-4.41zM760.21 58.27h4.41v4.41h-4.41zM782.02 58.27h4.41v4.41h-4.41zM433.06 62.64h4.41v4.41h-4.41zM437.43 62.64h4.41v4.41h-4.41zM433.06 67.00h4.41v4.41h-4.41zM454.87 62.64h4.41v4.41h-4.41zM655.53 62.64h4.41v4.41h-4.41zM651.16 67.00h4.41v4.41h-4.41zM729.68 62.64h4.41v4.41h-4.41zM734.04 67.00h4.41v4.41h-4.41zM437.43 71.36h4.41v4.41h-4.41zM437.43 75.72h4.41v4.41h-4.41zM502.86 75.72h4.41v4.41h-4.41zM642.44 71.36h4.41v4.41h-4.41zM655.53 71.36h4.41v4.41h-4.41zM655.53 75.72h4.41v4.41h-4.41zM681.70 71.36h4.41v4.41h-4.41zM707.87 71.36h4.41v4.41h-4.41zM441.79 80.08h4.41v4.41h-4.41zM446.15 84.45h4.41v4.41h-4.41zM507.22 80.08h4.41v4.41h-4.41zM524.67 80.08h4.41v4.41h-4.41zM559.56 84.45h4.41v4.41h-4.41zM555.20 80.08h4.41v4.41h-4.41zM624.99 80.08h4.41v4.41h-4.41zM629.35 80.08h4.41v4.41h-4.41zM629.35 84.45h4.41v4.41h-4.41zM441.79 93.17h4.41v4.41h-4.41zM494.13 88.81h4.41v4.41h-4.41zM498.49 88.81h4.41v4.41h-4.41zM502.86 88.81h4.41v4.41h-4.41zM502.86 93.17h4.41v4.41h-4.41zM533.39 93.17h4.41v4.41h-4.41zM607.54 93.17h4.41v4.41h-4.41zM611.91 93.17h4.41v4.41h-4.41zM616.27 88.81h4.41v4.41h-4.41zM620.63 88.81h4.41v4.41h-4.41zM655.53 93.17h4.41v4.41h-4.41zM507.22 101.89h4.41v4.41h-4.41zM515.94 97.53h4.41v4.41h-4.41zM559.56 101.89h4.41v4.41h-4.41zM559.56 97.53h4.41v4.41h-4.41zM607.54 97.53h4.41v4.41h-4.41zM607.54 101.89h4.41v4.41h-4.41zM611.91 101.89h4.41v4.41h-4.41zM616.27 97.53h4.41v4.41h-4.41zM642.44 97.53h4.41v4.41h-4.41zM646.80 97.53h4.41v4.41h-4.41zM642.44 101.89h4.41v4.41h-4.41zM655.53 101.89h4.41v4.41h-4.41zM659.89 97.53h4.41v4.41h-4.41zM664.25 97.53h4.41v4.41h-4.41zM659.89 101.89h4.41v4.41h-4.41zM681.70 97.53h4.41v4.41h-4.41zM677.34 101.89h4.41v4.41h-4.41zM463.60 110.62h4.41v4.41h-4.41zM476.68 106.26h4.41v4.41h-4.41zM594.46 106.26h4.41v4.41h-4.41zM611.91 110.62h4.41v4.41h-4.41zM624.99 106.26h4.41v4.41h-4.41zM633.72 106.26h4.41v4.41h-4.41zM638.08 106.26h4.41v4.41h-4.41zM638.08 110.62h4.41v4.41h-4.41zM659.89 110.62h4.41v4.41h-4.41zM664.25 106.26h4.41v4.41h-4.41zM672.97 106.26h4.41v4.41h-4.41zM672.97 110.62h4.41v4.41h-4.41zM681.70 106.26h4.41v4.41h-4.41zM764.58 106.26h4.41v4.41h-4.41zM773.30 106.26h4.41v4.41h-4.41zM550.84 114.98h4.41v4.41h-4.41zM642.44 114.98h4.41v4.41h-4.41zM646.80 119.34h4.41v4.41h-4.41zM773.30 114.98h4.41v4.41h-4.41zM777.66 119.34h4.41v4.41h-4.41zM607.54 123.70h4.41v4.41h-4.41zM611.91 123.70h4.41v4.41h-4.41zM768.94 123.70h4.41v4.41h-4.41zM764.58 128.07h4.41v4.41h-4.41zM768.94 128.07h4.41v4.41h-4.41zM777.66 128.07h4.41v4.41h-4.41zM463.60 136.79h4.41v4.41h-4.41zM459.24 136.79h4.41v4.41h-4.41zM507.22 132.43h4.41v4.41h-4.41zM511.58 132.43h4.41v4.41h-4.41zM515.94 132.43h4.41v4.41h-4.41zM511.58 136.79h4.41v4.41h-4.41zM533.39 132.43h4.41v4.41h-4.41zM529.03 136.79h4.41v4.41h-4.41zM533.39 136.79h4.41v4.41h-4.41zM542.11 132.43h4.41v4.41h-4.41zM563.92 132.43h4.41v4.41h-4.41zM568.29 132.43h4.41v4.41h-4.41zM563.92 136.79h4.41v4.41h-4.41zM611.91 136.79h4.41v4.41h-4.41zM681.70 136.79h4.41v4.41h-4.41zM677.34 136.79h4.41v4.41h-4.41zM707.87 132.43h4.41v4.41h-4.41zM707.87 136.79h4.41v4.41h-4.41zM768.94 136.79h4.41v4.41h-4.41zM777.66 132.43h4.41v4.41h-4.41zM773.30 136.79h4.41v4.41h-4.41zM594.46 141.15h4.41v4.41h-4.41zM590.10 145.51h4.41v4.41h-4.41zM594.46 145.51h4.41v4.41h-4.41zM598.82 141.15h4.41v4.41h-4.41zM603.18 141.15h4.41v4.41h-4.41zM598.82 145.51h4.41v4.41h-4.41zM603.18 145.51h4.41v4.41h-4.41zM611.91 141.15h4.41v4.41h-4.41zM694.78 141.15h4.41v4.41h-4.41zM699.15 141.15h4.41v4.41h-4.41zM699.15 145.51h4.41v4.41h-4.41zM707.87 141.15h4.41v4.41h-4.41zM703.51 145.51h4.41v4.41h-4.41zM712.23 145.51h4.41v4.41h-4.41zM716.59 145.51h4.41v4.41h-4.41zM768.94 141.15h4.41v4.41h-4.41zM768.94 145.51h4.41v4.41h-4.41zM572.65 149.88h4.41v4.41h-4.41zM577.01 149.88h4.41v4.41h-4.41zM572.65 154.24h4.41v4.41h-4.41zM577.01 154.24h4.41v4.41h-4.41zM581.37 149.88h4.41v4.41h-4.41zM581.37 154.24h4.41v4.41h-4.41zM585.73 154.24h4.41v4.41h-4.41zM590.10 149.88h4.41v4.41h-4.41zM594.46 149.88h4.41v4.41h-4.41zM590.10 154.24h4.41v4.41h-4.41zM598.82 149.88h4.41v4.41h-4.41zM603.18 149.88h4.41v4.41h-4.41zM611.91 149.88h4.41v4.41h-4.41zM607.54 154.24h4.41v4.41h-4.41zM611.91 154.24h4.41v4.41h-4.41zM624.99 149.88h4.41v4.41h-4.41zM664.25 149.88h4.41v4.41h-4.41zM659.89 154.24h4.41v4.41h-4.41zM703.51 149.88h4.41v4.41h-4.41zM703.51 154.24h4.41v4.41h-4.41zM738.40 149.88h4.41v4.41h-4.41zM742.77 149.88h4.41v4.41h-4.41zM742.77 154.24h4.41v4.41h-4.41zM433.06 158.60h4.41v4.41h-4.41zM433.06 162.96h4.41v4.41h-4.41zM563.92 158.60h4.41v4.41h-4.41zM568.29 162.96h4.41v4.41h-4.41zM577.01 158.60h4.41v4.41h-4.41zM572.65 162.96h4.41v4.41h-4.41zM577.01 162.96h4.41v4.41h-4.41zM590.10 162.96h4.41v4.41h-4.41zM594.46 162.96h4.41v4.41h-4.41zM603.18 158.60h4.41v4.41h-4.41zM611.91 158.60h4.41v4.41h-4.41zM611.91 162.96h4.41v4.41h-4.41zM616.27 162.96h4.41v4.41h-4.41zM624.99 158.60h4.41v4.41h-4.41zM624.99 162.96h4.41v4.41h-4.41zM629.35 162.96h4.41v4.41h-4.41zM633.72 162.96h4.41v4.41h-4.41zM677.34 158.60h4.41v4.41h-4.41zM716.59 158.60h4.41v4.41h-4.41zM712.23 162.96h4.41v4.41h-4.41zM716.59 162.96h4.41v4.41h-4.41zM725.32 158.60h4.41v4.41h-4.41zM720.96 162.96h4.41v4.41h-4.41zM433.06 171.69h4.41v4.41h-4.41zM502.86 167.32h4.41v4.41h-4.41zM555.20 171.69h4.41v4.41h-4.41zM563.92 167.32h4.41v4.41h-4.41zM568.29 167.32h4.41v4.41h-4.41zM563.92 171.69h4.41v4.41h-4.41zM568.29 171.69h4.41v4.41h-4.41zM572.65 167.32h4.41v4.41h-4.41zM572.65 171.69h4.41v4.41h-4.41zM585.73 171.69h4.41v4.41h-4.41zM590.10 167.32h4.41v4.41h-4.41zM590.10 171.69h4.41v4.41h-4.41zM598.82 167.32h4.41v4.41h-4.41zM607.54 167.32h4.41v4.41h-4.41zM611.91 167.32h4.41v4.41h-4.41zM607.54 171.69h4.41v4.41h-4.41zM620.63 167.32h4.41v4.41h-4.41zM616.27 171.69h4.41v4.41h-4.41zM620.63 171.69h4.41v4.41h-4.41zM624.99 167.32h4.41v4.41h-4.41zM629.35 167.32h4.41v4.41h-4.41zM629.35 171.69h4.41v4.41h-4.41zM633.72 167.32h4.41v4.41h-4.41zM638.08 167.32h4.41v4.41h-4.41zM633.72 171.69h4.41v4.41h-4.41zM638.08 171.69h4.41v4.41h-4.41zM655.53 167.32h4.41v4.41h-4.41zM651.16 171.69h4.41v4.41h-4.41zM655.53 171.69h4.41v4.41h-4.41zM668.61 167.32h4.41v4.41h-4.41zM668.61 171.69h4.41v4.41h-4.41zM720.96 167.32h4.41v4.41h-4.41zM725.32 167.32h4.41v4.41h-4.41zM764.58 167.32h4.41v4.41h-4.41zM764.58 171.69h4.41v4.41h-4.41zM773.30 171.69h4.41v4.41h-4.41zM777.66 171.69h4.41v4.41h-4.41zM533.39 176.05h4.41v4.41h-4.41zM529.03 180.41h4.41v4.41h-4.41zM563.92 176.05h4.41v4.41h-4.41zM568.29 176.05h4.41v4.41h-4.41zM568.29 180.41h4.41v4.41h-4.41zM581.37 176.05h4.41v4.41h-4.41zM581.37 180.41h4.41v4.41h-4.41zM598.82 176.05h4.41v4.41h-4.41zM603.18 176.05h4.41v4.41h-4.41zM598.82 180.41h4.41v4.41h-4.41zM607.54 176.05h4.41v4.41h-4.41zM611.91 176.05h4.41v4.41h-4.41zM607.54 180.41h4.41v4.41h-4.41zM616.27 180.41h4.41v4.41h-4.41zM624.99 180.41h4.41v4.41h-4.41zM725.32 180.41h4.41v4.41h-4.41zM725.32 176.05h4.41v4.41h-4.41zM729.68 176.05h4.41v4.41h-4.41zM729.68 180.41h4.41v4.41h-4.41zM450.51 184.77h4.41v4.41h-4.41zM520.30 189.13h4.41v4.41h-4.41zM533.39 184.77h4.41v4.41h-4.41zM529.03 189.13h4.41v4.41h-4.41zM546.48 189.13h4.41v4.41h-4.41zM555.20 184.77h4.41v4.41h-4.41zM559.56 184.77h4.41v4.41h-4.41zM559.56 189.13h4.41v4.41h-4.41zM563.92 184.77h4.41v4.41h-4.41zM568.29 184.77h4.41v4.41h-4.41zM563.92 189.13h4.41v4.41h-4.41zM568.29 189.13h4.41v4.41h-4.41zM581.37 184.77h4.41v4.41h-4.41zM585.73 184.77h4.41v4.41h-4.41zM585.73 189.13h4.41v4.41h-4.41zM590.10 184.77h4.41v4.41h-4.41zM594.46 184.77h4.41v4.41h-4.41zM598.82 184.77h4.41v4.41h-4.41zM603.18 184.77h4.41v4.41h-4.41zM598.82 189.13h4.41v4.41h-4.41zM607.54 184.77h4.41v4.41h-4.41zM611.91 184.77h4.41v4.41h-4.41zM607.54 189.13h4.41v4.41h-4.41zM611.91 189.13h4.41v4.41h-4.41zM620.63 189.13h4.41v4.41h-4.41zM633.72 189.13h4.41v4.41h-4.41zM655.53 189.13h4.41v4.41h-4.41zM651.16 189.13h4.41v4.41h-4.41zM734.04 184.77h4.41v4.41h-4.41zM729.68 184.77h4.41v4.41h-4.41zM555.20 193.50h4.41v4.41h-4.41zM559.56 193.50h4.41v4.41h-4.41zM555.20 197.86h4.41v4.41h-4.41zM559.56 197.86h4.41v4.41h-4.41zM563.92 193.50h4.41v4.41h-4.41zM568.29 193.50h4.41v4.41h-4.41zM563.92 197.86h4.41v4.41h-4.41zM568.29 197.86h4.41v4.41h-4.41zM572.65 193.50h4.41v4.41h-4.41zM572.65 197.86h4.41v4.41h-4.41zM577.01 197.86h4.41v4.41h-4.41zM581.37 193.50h4.41v4.41h-4.41zM581.37 197.86h4.41v4.41h-4.41zM585.73 197.86h4.41v4.41h-4.41zM590.10 193.50h4.41v4.41h-4.41zM590.10 197.86h4.41v4.41h-4.41zM594.46 197.86h4.41v4.41h-4.41zM598.82 193.50h4.41v4.41h-4.41zM603.18 197.86h4.41v4.41h-4.41zM607.54 193.50h4.41v4.41h-4.41zM611.91 197.86h4.41v4.41h-4.41zM624.99 193.50h4.41v4.41h-4.41zM629.35 193.50h4.41v4.41h-4.41zM624.99 197.86h4.41v4.41h-4.41zM555.20 202.22h4.41v4.41h-4.41zM563.92 202.22h4.41v4.41h-4.41zM568.29 202.22h4.41v4.41h-4.41zM563.92 206.58h4.41v4.41h-4.41zM572.65 202.22h4.41v4.41h-4.41zM577.01 206.58h4.41v4.41h-4.41zM581.37 202.22h4.41v4.41h-4.41zM581.37 206.58h4.41v4.41h-4.41zM585.73 206.58h4.41v4.41h-4.41zM590.10 202.22h4.41v4.41h-4.41zM594.46 202.22h4.41v4.41h-4.41zM590.10 206.58h4.41v4.41h-4.41zM598.82 202.22h4.41v4.41h-4.41zM598.82 206.58h4.41v4.41h-4.41zM607.54 202.22h4.41v4.41h-4.41zM611.91 202.22h4.41v4.41h-4.41zM607.54 206.58h4.41v4.41h-4.41zM611.91 206.58h4.41v4.41h-4.41zM624.99 202.22h4.41v4.41h-4.41zM629.35 206.58h4.41v4.41h-4.41zM716.59 206.58h4.41v4.41h-4.41zM542.11 210.94h4.41v4.41h-4.41zM537.75 215.31h4.41v4.41h-4.41zM542.11 215.31h4.41v4.41h-4.41zM568.29 215.31h4.41v4.41h-4.41zM572.65 215.31h4.41v4.41h-4.41zM598.82 210.94h4.41v4.41h-4.41zM603.18 210.94h4.41v4.41h-4.41zM611.91 210.94h4.41v4.41h-4.41zM611.91 215.31h4.41v4.41h-4.41zM616.27 210.94h4.41v4.41h-4.41zM620.63 210.94h4.41v4.41h-4.41zM616.27 215.31h4.41v4.41h-4.41zM620.63 215.31h4.41v4.41h-4.41zM629.35 210.94h4.41v4.41h-4.41zM624.99 215.31h4.41v4.41h-4.41zM629.35 215.31h4.41v4.41h-4.41zM594.46 219.67h4.41v4.41h-4.41zM607.54 219.67h4.41v4.41h-4.41zM611.91 219.67h4.41v4.41h-4.41zM611.91 224.03h4.41v4.41h-4.41zM616.27 219.67h4.41v4.41h-4.41zM629.35 219.67h4.41v4.41h-4.41zM624.99 224.03h4.41v4.41h-4.41zM646.80 224.03h4.41v4.41h-4.41zM664.25 219.67h4.41v4.41h-4.41zM659.89 224.03h4.41v4.41h-4.41zM441.79 228.39h4.41v4.41h-4.41zM446.15 228.39h4.41v4.41h-4.41zM441.79 232.75h4.41v4.41h-4.41zM446.15 232.75h4.41v4.41h-4.41zM433.06 237.12h4.41v4.41h-4.41zM437.43 237.12h4.41v4.41h-4.41zM433.06 241.48h4.41v4.41h-4.41zM441.79 237.12h4.41v4.41h-4.41zM581.37 237.12h4.41v4.41h-4.41zM428.70 245.84h4.41v4.41h-4.41zM428.70 250.20h4.41v4.41h-4.41zM494.13 245.84h4.41v4.41h-4.41zM498.49 245.84h4.41v4.41h-4.41zM511.58 258.93h4.41v4.41h-4.41zM585.73 258.93h4.41v4.41h-4.41zM555.20 276.37h4.41v4.41h-4.41zM524.67 280.74h4.41v4.41h-4.41zM520.30 285.10h4.41v4.41h-4.41zM524.67 285.10h4.41v4.41h-4.41zM616.27 280.74h4.41v4.41h-4.41zM620.63 280.74h4.41v4.41h-4.41zM620.63 285.10h4.41v4.41h-4.41zM533.39 298.18h4.41v4.41h-4.41zM529.03 302.55h4.41v4.41h-4.41zM581.37 298.18h4.41v4.41h-4.41zM581.37 306.91h4.41v4.41h-4.41zM585.73 311.27h4.41v4.41h-4.41z"/></g><clipPath id="clipc"><rect x="26.5" y="344.70000000000005" width="362.7" height="296.4"/></clipPath><g clip-path="url(#clipc)" shape-rendering="crispEdges"><path fill="#fce645" d="M91.27 344.84h4.41v4.41h-4.41zM174.15 349.20h4.41v4.41h-4.41zM187.23 344.84h4.41v4.41h-4.41zM265.75 349.20h4.41v4.41h-4.41zM261.39 349.20h4.41v4.41h-4.41zM300.65 344.84h4.41v4.41h-4.41zM331.18 344.84h4.41v4.41h-4.41zM335.54 344.84h4.41v4.41h-4.41zM335.54 349.20h4.41v4.41h-4.41zM344.27 344.84h4.41v4.41h-4.41zM78.18 357.93h4.41v4.41h-4.41zM82.55 357.93h4.41v4.41h-4.41zM139.25 353.56h4.41v4.41h-4.41zM143.61 353.56h4.41v4.41h-4.41zM139.25 357.93h4.41v4.41h-4.41zM143.61 357.93h4.41v4.41h-4.41zM274.47 357.93h4.41v4.41h-4.41zM270.11 357.93h4.41v4.41h-4.41zM278.84 353.56h4.41v4.41h-4.41zM287.56 353.56h4.41v4.41h-4.41zM291.92 353.56h4.41v4.41h-4.41zM287.56 357.93h4.41v4.41h-4.41zM291.92 357.93h4.41v4.41h-4.41zM300.65 357.93h4.41v4.41h-4.41zM305.01 357.93h4.41v4.41h-4.41zM82.55 362.29h4.41v4.41h-4.41zM82.55 366.65h4.41v4.41h-4.41zM130.53 366.65h4.41v4.41h-4.41zM139.25 362.29h4.41v4.41h-4.41zM243.94 362.29h4.41v4.41h-4.41zM248.30 362.29h4.41v4.41h-4.41zM248.30 366.65h4.41v4.41h-4.41zM274.47 362.29h4.41v4.41h-4.41zM274.47 366.65h4.41v4.41h-4.41zM287.56 362.29h4.41v4.41h-4.41zM291.92 362.29h4.41v4.41h-4.41zM287.56 366.65h4.41v4.41h-4.41zM291.92 366.65h4.41v4.41h-4.41zM300.65 366.65h4.41v4.41h-4.41zM326.82 362.29h4.41v4.41h-4.41zM126.17 371.01h4.41v4.41h-4.41zM121.80 371.01h4.41v4.41h-4.41zM174.15 375.37h4.41v4.41h-4.41zM178.51 375.37h4.41v4.41h-4.41zM182.87 371.01h4.41v4.41h-4.41zM182.87 375.37h4.41v4.41h-4.41zM213.41 375.37h4.41v4.41h-4.41zM235.22 375.37h4.41v4.41h-4.41zM235.22 371.01h4.41v4.41h-4.41zM248.30 375.37h4.41v4.41h-4.41zM252.66 375.37h4.41v4.41h-4.41zM274.47 371.01h4.41v4.41h-4.41zM270.11 375.37h4.41v4.41h-4.41zM278.84 371.01h4.41v4.41h-4.41zM283.20 371.01h4.41v4.41h-4.41zM278.84 375.37h4.41v4.41h-4.41zM283.20 375.37h4.41v4.41h-4.41zM287.56 371.01h4.41v4.41h-4.41zM313.73 371.01h4.41v4.41h-4.41zM361.71 371.01h4.41v4.41h-4.41zM366.08 371.01h4.41v4.41h-4.41zM366.08 375.37h4.41v4.41h-4.41zM383.52 371.01h4.41v4.41h-4.41zM383.52 375.37h4.41v4.41h-4.41zM38.93 379.74h4.41v4.41h-4.41zM34.56 384.10h4.41v4.41h-4.41zM38.93 384.10h4.41v4.41h-4.41zM43.29 379.74h4.41v4.41h-4.41zM47.65 379.74h4.41v4.41h-4.41zM47.65 384.10h4.41v4.41h-4.41zM52.01 384.10h4.41v4.41h-4.41zM69.46 379.74h4.41v4.41h-4.41zM69.46 384.10h4.41v4.41h-4.41zM95.63 379.74h4.41v4.41h-4.41zM99.99 384.10h4.41v4.41h-4.41zM134.89 379.74h4.41v4.41h-4.41zM130.53 379.74h4.41v4.41h-4.41zM147.98 384.10h4.41v4.41h-4.41zM182.87 379.74h4.41v4.41h-4.41zM187.23 384.10h4.41v4.41h-4.41zM191.60 379.74h4.41v4.41h-4.41zM195.96 379.74h4.41v4.41h-4.41zM191.60 384.10h4.41v4.41h-4.41zM204.68 379.74h4.41v4.41h-4.41zM200.32 384.10h4.41v4.41h-4.41zM230.85 384.10h4.41v4.41h-4.41zM252.66 384.10h4.41v4.41h-4.41zM278.84 379.74h4.41v4.41h-4.41zM283.20 384.10h4.41v4.41h-4.41zM331.18 384.10h4.41v4.41h-4.41zM335.54 384.10h4.41v4.41h-4.41zM361.71 379.74h4.41v4.41h-4.41zM357.35 384.10h4.41v4.41h-4.41zM361.71 384.10h4.41v4.41h-4.41zM370.44 379.74h4.41v4.41h-4.41zM366.08 384.10h4.41v4.41h-4.41zM370.44 384.10h4.41v4.41h-4.41zM379.16 379.74h4.41v4.41h-4.41zM69.46 388.46h4.41v4.41h-4.41zM69.46 392.82h4.41v4.41h-4.41zM95.63 388.46h4.41v4.41h-4.41zM99.99 388.46h4.41v4.41h-4.41zM95.63 392.82h4.41v4.41h-4.41zM104.36 388.46h4.41v4.41h-4.41zM108.72 388.46h4.41v4.41h-4.41zM108.72 392.82h4.41v4.41h-4.41zM113.08 388.46h4.41v4.41h-4.41zM117.44 388.46h4.41v4.41h-4.41zM113.08 392.82h4.41v4.41h-4.41zM117.44 392.82h4.41v4.41h-4.41zM126.17 392.82h4.41v4.41h-4.41zM126.17 388.46h4.41v4.41h-4.41zM187.23 388.46h4.41v4.41h-4.41zM191.60 388.46h4.41v4.41h-4.41zM191.60 392.82h4.41v4.41h-4.41zM195.96 392.82h4.41v4.41h-4.41zM222.13 388.46h4.41v4.41h-4.41zM217.77 392.82h4.41v4.41h-4.41zM257.03 388.46h4.41v4.41h-4.41zM252.66 392.82h4.41v4.41h-4.41zM257.03 392.82h4.41v4.41h-4.41zM283.20 388.46h4.41v4.41h-4.41zM287.56 388.46h4.41v4.41h-4.41zM291.92 388.46h4.41v4.41h-4.41zM287.56 392.82h4.41v4.41h-4.41zM291.92 392.82h4.41v4.41h-4.41zM309.37 388.46h4.41v4.41h-4.41zM305.01 388.46h4.41v4.41h-4.41zM322.46 388.46h4.41v4.41h-4.41zM326.82 388.46h4.41v4.41h-4.41zM374.80 392.82h4.41v4.41h-4.41zM383.52 388.46h4.41v4.41h-4.41zM383.52 392.82h4.41v4.41h-4.41zM52.01 397.18h4.41v4.41h-4.41zM78.18 401.55h4.41v4.41h-4.41zM82.55 397.18h4.41v4.41h-4.41zM86.91 397.18h4.41v4.41h-4.41zM121.80 397.18h4.41v4.41h-4.41zM130.53 397.18h4.41v4.41h-4.41zM161.06 401.55h4.41v4.41h-4.41zM169.79 397.18h4.41v4.41h-4.41zM169.79 401.55h4.41v4.41h-4.41zM174.15 397.18h4.41v4.41h-4.41zM178.51 397.18h4.41v4.41h-4.41zM174.15 401.55h4.41v4.41h-4.41zM178.51 401.55h4.41v4.41h-4.41zM230.85 401.55h4.41v4.41h-4.41zM235.22 397.18h4.41v4.41h-4.41zM239.58 397.18h4.41v4.41h-4.41zM235.22 401.55h4.41v4.41h-4.41zM239.58 401.55h4.41v4.41h-4.41zM243.94 397.18h4.41v4.41h-4.41zM248.30 397.18h4.41v4.41h-4.41zM248.30 401.55h4.41v4.41h-4.41zM257.03 401.55h4.41v4.41h-4.41zM287.56 401.55h4.41v4.41h-4.41zM291.92 401.55h4.41v4.41h-4.41zM300.65 401.55h4.41v4.41h-4.41zM296.28 397.18h4.41v4.41h-4.41zM348.63 397.18h4.41v4.41h-4.41zM352.99 397.18h4.41v4.41h-4.41zM352.99 401.55h4.41v4.41h-4.41zM357.35 401.55h4.41v4.41h-4.41zM361.71 397.18h4.41v4.41h-4.41zM47.65 405.91h4.41v4.41h-4.41zM47.65 410.27h4.41v4.41h-4.41zM73.82 405.91h4.41v4.41h-4.41zM99.99 405.91h4.41v4.41h-4.41zM95.63 410.27h4.41v4.41h-4.41zM99.99 410.27h4.41v4.41h-4.41zM104.36 405.91h4.41v4.41h-4.41zM104.36 410.27h4.41v4.41h-4.41zM108.72 410.27h4.41v4.41h-4.41zM113.08 405.91h4.41v4.41h-4.41zM117.44 405.91h4.41v4.41h-4.41zM113.08 410.27h4.41v4.41h-4.41zM117.44 410.27h4.41v4.41h-4.41zM121.80 405.91h4.41v4.41h-4.41zM126.17 405.91h4.41v4.41h-4.41zM121.80 410.27h4.41v4.41h-4.41zM165.42 410.27h4.41v4.41h-4.41zM169.79 410.27h4.41v4.41h-4.41zM226.49 405.91h4.41v4.41h-4.41zM230.85 405.91h4.41v4.41h-4.41zM226.49 410.27h4.41v4.41h-4.41zM230.85 410.27h4.41v4.41h-4.41zM235.22 405.91h4.41v4.41h-4.41zM239.58 405.91h4.41v4.41h-4.41zM243.94 405.91h4.41v4.41h-4.41zM248.30 405.91h4.41v4.41h-4.41zM243.94 410.27h4.41v4.41h-4.41zM252.66 405.91h4.41v4.41h-4.41zM252.66 410.27h4.41v4.41h-4.41zM257.03 410.27h4.41v4.41h-4.41zM274.47 405.91h4.41v4.41h-4.41zM278.84 405.91h4.41v4.41h-4.41zM283.20 405.91h4.41v4.41h-4.41zM287.56 410.27h4.41v4.41h-4.41zM291.92 410.27h4.41v4.41h-4.41zM300.65 405.91h4.41v4.41h-4.41zM309.37 405.91h4.41v4.41h-4.41zM47.65 414.63h4.41v4.41h-4.41zM69.46 414.63h4.41v4.41h-4.41zM69.46 418.99h4.41v4.41h-4.41zM95.63 414.63h4.41v4.41h-4.41zM99.99 414.63h4.41v4.41h-4.41zM104.36 418.99h4.41v4.41h-4.41zM113.08 414.63h4.41v4.41h-4.41zM113.08 418.99h4.41v4.41h-4.41zM117.44 418.99h4.41v4.41h-4.41zM156.70 414.63h4.41v4.41h-4.41zM226.49 414.63h4.41v4.41h-4.41zM230.85 414.63h4.41v4.41h-4.41zM226.49 418.99h4.41v4.41h-4.41zM230.85 418.99h4.41v4.41h-4.41zM239.58 418.99h4.41v4.41h-4.41zM243.94 414.63h4.41v4.41h-4.41zM248.30 414.63h4.41v4.41h-4.41zM243.94 418.99h4.41v4.41h-4.41zM248.30 418.99h4.41v4.41h-4.41zM252.66 414.63h4.41v4.41h-4.41zM252.66 418.99h4.41v4.41h-4.41zM257.03 418.99h4.41v4.41h-4.41zM261.39 414.63h4.41v4.41h-4.41zM265.75 414.63h4.41v4.41h-4.41zM283.20 414.63h4.41v4.41h-4.41zM278.84 418.99h4.41v4.41h-4.41zM283.20 418.99h4.41v4.41h-4.41zM300.65 414.63h4.41v4.41h-4.41zM300.65 418.99h4.41v4.41h-4.41zM305.01 414.63h4.41v4.41h-4.41zM309.37 414.63h4.41v4.41h-4.41zM305.01 418.99h4.41v4.41h-4.41zM309.37 418.99h4.41v4.41h-4.41zM348.63 414.63h4.41v4.41h-4.41zM348.63 418.99h4.41v4.41h-4.41zM82.55 427.72h4.41v4.41h-4.41zM91.27 423.36h4.41v4.41h-4.41zM99.99 423.36h4.41v4.41h-4.41zM130.53 423.36h4.41v4.41h-4.41zM134.89 423.36h4.41v4.41h-4.41zM130.53 427.72h4.41v4.41h-4.41zM134.89 427.72h4.41v4.41h-4.41zM147.98 423.36h4.41v4.41h-4.41zM156.70 423.36h4.41v4.41h-4.41zM161.06 423.36h4.41v4.41h-4.41zM226.49 423.36h4.41v4.41h-4.41zM235.22 423.36h4.41v4.41h-4.41zM239.58 423.36h4.41v4.41h-4.41zM235.22 427.72h4.41v4.41h-4.41zM239.58 427.72h4.41v4.41h-4.41zM248.30 423.36h4.41v4.41h-4.41zM243.94 427.72h4.41v4.41h-4.41zM248.30 427.72h4.41v4.41h-4.41zM252.66 423.36h4.41v4.41h-4.41zM257.03 423.36h4.41v4.41h-4.41zM252.66 427.72h4.41v4.41h-4.41zM257.03 427.72h4.41v4.41h-4.41zM274.47 423.36h4.41v4.41h-4.41zM305.01 423.36h4.41v4.41h-4.41zM309.37 423.36h4.41v4.41h-4.41zM305.01 427.72h4.41v4.41h-4.41zM374.80 423.36h4.41v4.41h-4.41zM379.16 423.36h4.41v4.41h-4.41zM374.80 427.72h4.41v4.41h-4.41zM60.74 432.08h4.41v4.41h-4.41zM65.10 436.44h4.41v4.41h-4.41zM78.18 432.08h4.41v4.41h-4.41zM82.55 432.08h4.41v4.41h-4.41zM82.55 436.44h4.41v4.41h-4.41zM99.99 436.44h4.41v4.41h-4.41zM121.80 432.08h4.41v4.41h-4.41zM121.80 436.44h4.41v4.41h-4.41zM130.53 432.08h4.41v4.41h-4.41zM134.89 432.08h4.41v4.41h-4.41zM130.53 436.44h4.41v4.41h-4.41zM156.70 432.08h4.41v4.41h-4.41zM235.22 432.08h4.41v4.41h-4.41zM239.58 432.08h4.41v4.41h-4.41zM235.22 436.44h4.41v4.41h-4.41zM239.58 436.44h4.41v4.41h-4.41zM248.30 436.44h4.41v4.41h-4.41zM374.80 432.08h4.41v4.41h-4.41zM73.82 445.17h4.41v4.41h-4.41zM78.18 440.80h4.41v4.41h-4.41zM78.18 445.17h4.41v4.41h-4.41zM82.55 445.17h4.41v4.41h-4.41zM121.80 445.17h4.41v4.41h-4.41zM134.89 440.80h4.41v4.41h-4.41zM134.89 445.17h4.41v4.41h-4.41zM143.61 440.80h4.41v4.41h-4.41zM139.25 445.17h4.41v4.41h-4.41zM239.58 445.17h4.41v4.41h-4.41zM257.03 445.17h4.41v4.41h-4.41zM366.08 445.17h4.41v4.41h-4.41zM366.08 440.80h4.41v4.41h-4.41zM25.84 449.53h4.41v4.41h-4.41zM25.84 453.89h4.41v4.41h-4.41zM52.01 449.53h4.41v4.41h-4.41zM52.01 453.89h4.41v4.41h-4.41zM56.37 453.89h4.41v4.41h-4.41zM60.74 449.53h4.41v4.41h-4.41zM65.10 449.53h4.41v4.41h-4.41zM82.55 449.53h4.41v4.41h-4.41zM78.18 453.89h4.41v4.41h-4.41zM104.36 453.89h4.41v4.41h-4.41zM113.08 449.53h4.41v4.41h-4.41zM117.44 449.53h4.41v4.41h-4.41zM113.08 453.89h4.41v4.41h-4.41zM130.53 449.53h4.41v4.41h-4.41zM134.89 449.53h4.41v4.41h-4.41zM130.53 453.89h4.41v4.41h-4.41zM134.89 453.89h4.41v4.41h-4.41zM248.30 453.89h4.41v4.41h-4.41zM261.39 449.53h4.41v4.41h-4.41zM265.75 453.89h4.41v4.41h-4.41zM270.11 449.53h4.41v4.41h-4.41zM274.47 449.53h4.41v4.41h-4.41zM274.47 453.89h4.41v4.41h-4.41zM278.84 449.53h4.41v4.41h-4.41zM305.01 453.89h4.41v4.41h-4.41zM60.74 462.61h4.41v4.41h-4.41zM60.74 458.25h4.41v4.41h-4.41zM121.80 458.25h4.41v4.41h-4.41zM126.17 458.25h4.41v4.41h-4.41zM121.80 462.61h4.41v4.41h-4.41zM278.84 458.25h4.41v4.41h-4.41zM287.56 458.25h4.41v4.41h-4.41zM287.56 462.61h4.41v4.41h-4.41zM291.92 462.61h4.41v4.41h-4.41zM309.37 462.61h4.41v4.41h-4.41zM322.46 462.61h4.41v4.41h-4.41zM326.82 462.61h4.41v4.41h-4.41zM344.27 458.25h4.41v4.41h-4.41zM352.99 462.61h4.41v4.41h-4.41zM300.65 466.98h4.41v4.41h-4.41zM331.18 466.98h4.41v4.41h-4.41zM335.54 466.98h4.41v4.41h-4.41zM331.18 471.34h4.41v4.41h-4.41zM335.54 471.34h4.41v4.41h-4.41zM348.63 471.34h4.41v4.41h-4.41zM357.35 466.98h4.41v4.41h-4.41zM361.71 471.34h4.41v4.41h-4.41zM34.56 475.70h4.41v4.41h-4.41zM38.93 475.70h4.41v4.41h-4.41zM34.56 480.06h4.41v4.41h-4.41zM38.93 480.06h4.41v4.41h-4.41zM43.29 475.70h4.41v4.41h-4.41zM47.65 475.70h4.41v4.41h-4.41zM43.29 480.06h4.41v4.41h-4.41zM52.01 475.70h4.41v4.41h-4.41zM56.37 475.70h4.41v4.41h-4.41zM52.01 480.06h4.41v4.41h-4.41zM60.74 475.70h4.41v4.41h-4.41zM209.04 480.06h4.41v4.41h-4.41zM331.18 480.06h4.41v4.41h-4.41zM30.20 484.42h4.41v4.41h-4.41zM34.56 484.42h4.41v4.41h-4.41zM34.56 488.79h4.41v4.41h-4.41zM56.37 488.79h4.41v4.41h-4.41zM52.01 484.42h4.41v4.41h-4.41zM73.82 484.42h4.41v4.41h-4.41zM274.47 484.42h4.41v4.41h-4.41zM274.47 488.79h4.41v4.41h-4.41zM287.56 484.42h4.41v4.41h-4.41zM287.56 488.79h4.41v4.41h-4.41zM296.28 488.79h4.41v4.41h-4.41zM313.73 488.79h4.41v4.41h-4.41zM322.46 484.42h4.41v4.41h-4.41zM326.82 484.42h4.41v4.41h-4.41zM322.46 488.79h4.41v4.41h-4.41zM326.82 488.79h4.41v4.41h-4.41zM335.54 488.79h4.41v4.41h-4.41zM366.08 484.42h4.41v4.41h-4.41zM370.44 484.42h4.41v4.41h-4.41zM366.08 488.79h4.41v4.41h-4.41zM370.44 488.79h4.41v4.41h-4.41zM374.80 484.42h4.41v4.41h-4.41zM379.16 484.42h4.41v4.41h-4.41zM374.80 488.79h4.41v4.41h-4.41zM38.93 493.15h4.41v4.41h-4.41zM47.65 497.51h4.41v4.41h-4.41zM43.29 497.51h4.41v4.41h-4.41zM60.74 493.15h4.41v4.41h-4.41zM65.10 493.15h4.41v4.41h-4.41zM65.10 497.51h4.41v4.41h-4.41zM69.46 493.15h4.41v4.41h-4.41zM73.82 493.15h4.41v4.41h-4.41zM69.46 497.51h4.41v4.41h-4.41zM274.47 497.51h4.41v4.41h-4.41zM305.01 493.15h4.41v4.41h-4.41zM309.37 497.51h4.41v4.41h-4.41zM313.73 493.15h4.41v4.41h-4.41zM318.09 493.15h4.41v4.41h-4.41zM318.09 497.51h4.41v4.41h-4.41zM335.54 497.51h4.41v4.41h-4.41zM331.18 493.15h4.41v4.41h-4.41zM344.27 493.15h4.41v4.41h-4.41zM344.27 497.51h4.41v4.41h-4.41zM366.08 493.15h4.41v4.41h-4.41zM374.80 497.51h4.41v4.41h-4.41zM379.16 497.51h4.41v4.41h-4.41zM383.52 493.15h4.41v4.41h-4.41zM43.29 501.87h4.41v4.41h-4.41zM47.65 501.87h4.41v4.41h-4.41zM65.10 506.23h4.41v4.41h-4.41zM60.74 501.87h4.41v4.41h-4.41zM182.87 501.87h4.41v4.41h-4.41zM182.87 506.23h4.41v4.41h-4.41zM204.68 501.87h4.41v4.41h-4.41zM261.39 501.87h4.41v4.41h-4.41zM270.11 501.87h4.41v4.41h-4.41zM274.47 501.87h4.41v4.41h-4.41zM270.11 506.23h4.41v4.41h-4.41zM274.47 506.23h4.41v4.41h-4.41zM331.18 501.87h4.41v4.41h-4.41zM143.61 514.96h4.41v4.41h-4.41zM182.87 510.60h4.41v4.41h-4.41zM187.23 510.60h4.41v4.41h-4.41zM182.87 514.96h4.41v4.41h-4.41zM187.23 514.96h4.41v4.41h-4.41zM200.32 510.60h4.41v4.41h-4.41zM204.68 510.60h4.41v4.41h-4.41zM200.32 514.96h4.41v4.41h-4.41zM204.68 514.96h4.41v4.41h-4.41zM222.13 510.60h4.41v4.41h-4.41zM217.77 514.96h4.41v4.41h-4.41zM252.66 514.96h4.41v4.41h-4.41zM261.39 510.60h4.41v4.41h-4.41zM265.75 510.60h4.41v4.41h-4.41zM261.39 514.96h4.41v4.41h-4.41zM265.75 514.96h4.41v4.41h-4.41zM25.84 523.68h4.41v4.41h-4.41zM95.63 519.32h4.41v4.41h-4.41zM99.99 523.68h4.41v4.41h-4.41zM108.72 523.68h4.41v4.41h-4.41zM113.08 523.68h4.41v4.41h-4.41zM113.08 519.32h4.41v4.41h-4.41zM126.17 519.32h4.41v4.41h-4.41zM121.80 523.68h4.41v4.41h-4.41zM126.17 523.68h4.41v4.41h-4.41zM130.53 519.32h4.41v4.41h-4.41zM134.89 519.32h4.41v4.41h-4.41zM134.89 523.68h4.41v4.41h-4.41zM139.25 519.32h4.41v4.41h-4.41zM143.61 519.32h4.41v4.41h-4.41zM139.25 523.68h4.41v4.41h-4.41zM143.61 523.68h4.41v4.41h-4.41zM191.60 523.68h4.41v4.41h-4.41zM217.77 523.68h4.41v4.41h-4.41zM235.22 519.32h4.41v4.41h-4.41zM257.03 523.68h4.41v4.41h-4.41zM257.03 519.32h4.41v4.41h-4.41zM261.39 519.32h4.41v4.41h-4.41zM265.75 519.32h4.41v4.41h-4.41zM261.39 523.68h4.41v4.41h-4.41zM265.75 523.68h4.41v4.41h-4.41zM270.11 519.32h4.41v4.41h-4.41zM318.09 519.32h4.41v4.41h-4.41zM322.46 519.32h4.41v4.41h-4.41zM34.56 528.04h4.41v4.41h-4.41zM38.93 528.04h4.41v4.41h-4.41zM34.56 532.41h4.41v4.41h-4.41zM43.29 532.41h4.41v4.41h-4.41zM43.29 528.04h4.41v4.41h-4.41zM121.80 532.41h4.41v4.41h-4.41zM126.17 532.41h4.41v4.41h-4.41zM130.53 528.04h4.41v4.41h-4.41zM134.89 528.04h4.41v4.41h-4.41zM130.53 532.41h4.41v4.41h-4.41zM134.89 532.41h4.41v4.41h-4.41zM139.25 528.04h4.41v4.41h-4.41zM143.61 528.04h4.41v4.41h-4.41zM139.25 532.41h4.41v4.41h-4.41zM239.58 528.04h4.41v4.41h-4.41zM261.39 532.41h4.41v4.41h-4.41zM283.20 532.41h4.41v4.41h-4.41zM348.63 532.41h4.41v4.41h-4.41zM352.99 532.41h4.41v4.41h-4.41zM370.44 528.04h4.41v4.41h-4.41zM366.08 532.41h4.41v4.41h-4.41zM34.56 541.13h4.41v4.41h-4.41zM47.65 536.77h4.41v4.41h-4.41zM95.63 536.77h4.41v4.41h-4.41zM95.63 541.13h4.41v4.41h-4.41zM108.72 541.13h4.41v4.41h-4.41zM113.08 536.77h4.41v4.41h-4.41zM113.08 541.13h4.41v4.41h-4.41zM130.53 536.77h4.41v4.41h-4.41zM134.89 536.77h4.41v4.41h-4.41zM130.53 541.13h4.41v4.41h-4.41zM134.89 541.13h4.41v4.41h-4.41zM139.25 536.77h4.41v4.41h-4.41zM143.61 541.13h4.41v4.41h-4.41zM213.41 536.77h4.41v4.41h-4.41zM213.41 541.13h4.41v4.41h-4.41zM226.49 541.13h4.41v4.41h-4.41zM235.22 541.13h4.41v4.41h-4.41zM239.58 541.13h4.41v4.41h-4.41zM261.39 541.13h4.41v4.41h-4.41zM265.75 536.77h4.41v4.41h-4.41zM383.52 541.13h4.41v4.41h-4.41zM387.89 541.13h4.41v4.41h-4.41zM30.20 545.49h4.41v4.41h-4.41zM25.84 549.85h4.41v4.41h-4.41zM30.20 549.85h4.41v4.41h-4.41zM43.29 545.49h4.41v4.41h-4.41zM47.65 545.49h4.41v4.41h-4.41zM43.29 549.85h4.41v4.41h-4.41zM47.65 549.85h4.41v4.41h-4.41zM52.01 545.49h4.41v4.41h-4.41zM56.37 545.49h4.41v4.41h-4.41zM52.01 549.85h4.41v4.41h-4.41zM60.74 545.49h4.41v4.41h-4.41zM65.10 545.49h4.41v4.41h-4.41zM65.10 549.85h4.41v4.41h-4.41zM69.46 545.49h4.41v4.41h-4.41zM78.18 549.85h4.41v4.41h-4.41zM95.63 549.85h4.41v4.41h-4.41zM104.36 549.85h4.41v4.41h-4.41zM108.72 549.85h4.41v4.41h-4.41zM113.08 549.85h4.41v4.41h-4.41zM126.17 545.49h4.41v4.41h-4.41zM121.80 549.85h4.41v4.41h-4.41zM126.17 549.85h4.41v4.41h-4.41zM130.53 549.85h4.41v4.41h-4.41zM139.25 545.49h4.41v4.41h-4.41zM143.61 549.85h4.41v4.41h-4.41zM178.51 545.49h4.41v4.41h-4.41zM174.15 545.49h4.41v4.41h-4.41zM182.87 549.85h4.41v4.41h-4.41zM187.23 549.85h4.41v4.41h-4.41zM191.60 545.49h4.41v4.41h-4.41zM195.96 545.49h4.41v4.41h-4.41zM191.60 549.85h4.41v4.41h-4.41zM226.49 549.85h4.41v4.41h-4.41zM230.85 549.85h4.41v4.41h-4.41zM243.94 549.85h4.41v4.41h-4.41zM248.30 549.85h4.41v4.41h-4.41zM257.03 545.49h4.41v4.41h-4.41zM252.66 549.85h4.41v4.41h-4.41zM257.03 549.85h4.41v4.41h-4.41zM261.39 545.49h4.41v4.41h-4.41zM265.75 545.49h4.41v4.41h-4.41zM261.39 549.85h4.41v4.41h-4.41zM265.75 549.85h4.41v4.41h-4.41zM30.20 554.22h4.41v4.41h-4.41zM38.93 554.22h4.41v4.41h-4.41zM43.29 554.22h4.41v4.41h-4.41zM43.29 558.58h4.41v4.41h-4.41zM47.65 558.58h4.41v4.41h-4.41zM52.01 558.58h4.41v4.41h-4.41zM52.01 554.22h4.41v4.41h-4.41zM60.74 554.22h4.41v4.41h-4.41zM65.10 554.22h4.41v4.41h-4.41zM65.10 558.58h4.41v4.41h-4.41zM73.82 554.22h4.41v4.41h-4.41zM69.46 558.58h4.41v4.41h-4.41zM86.91 554.22h4.41v4.41h-4.41zM95.63 554.22h4.41v4.41h-4.41zM99.99 554.22h4.41v4.41h-4.41zM95.63 558.58h4.41v4.41h-4.41zM104.36 554.22h4.41v4.41h-4.41zM104.36 558.58h4.41v4.41h-4.41zM108.72 558.58h4.41v4.41h-4.41zM121.80 554.22h4.41v4.41h-4.41zM126.17 558.58h4.41v4.41h-4.41zM139.25 554.22h4.41v4.41h-4.41zM143.61 554.22h4.41v4.41h-4.41zM139.25 558.58h4.41v4.41h-4.41zM143.61 558.58h4.41v4.41h-4.41zM226.49 554.22h4.41v4.41h-4.41zM230.85 554.22h4.41v4.41h-4.41zM226.49 558.58h4.41v4.41h-4.41zM230.85 558.58h4.41v4.41h-4.41zM243.94 554.22h4.41v4.41h-4.41zM248.30 558.58h4.41v4.41h-4.41zM82.55 562.94h4.41v4.41h-4.41zM86.91 567.30h4.41v4.41h-4.41zM91.27 567.30h4.41v4.41h-4.41zM95.63 562.94h4.41v4.41h-4.41zM99.99 562.94h4.41v4.41h-4.41zM95.63 567.30h4.41v4.41h-4.41zM113.08 562.94h4.41v4.41h-4.41zM130.53 567.30h4.41v4.41h-4.41zM139.25 562.94h4.41v4.41h-4.41zM143.61 567.30h4.41v4.41h-4.41zM226.49 562.94h4.41v4.41h-4.41zM230.85 562.94h4.41v4.41h-4.41zM230.85 567.30h4.41v4.41h-4.41zM108.72 571.66h4.41v4.41h-4.41zM104.36 576.03h4.41v4.41h-4.41zM117.44 576.03h4.41v4.41h-4.41zM130.53 571.66h4.41v4.41h-4.41zM134.89 576.03h4.41v4.41h-4.41zM139.25 571.66h4.41v4.41h-4.41zM143.61 571.66h4.41v4.41h-4.41zM147.98 576.03h4.41v4.41h-4.41zM182.87 571.66h4.41v4.41h-4.41zM226.49 571.66h4.41v4.41h-4.41zM226.49 576.03h4.41v4.41h-4.41zM108.72 580.39h4.41v4.41h-4.41zM117.44 580.39h4.41v4.41h-4.41zM113.08 584.75h4.41v4.41h-4.41zM139.25 580.39h4.41v4.41h-4.41zM143.61 584.75h4.41v4.41h-4.41zM147.98 580.39h4.41v4.41h-4.41zM152.34 580.39h4.41v4.41h-4.41zM152.34 584.75h4.41v4.41h-4.41zM156.70 580.39h4.41v4.41h-4.41zM156.70 584.75h4.41v4.41h-4.41zM174.15 580.39h4.41v4.41h-4.41zM182.87 580.39h4.41v4.41h-4.41zM187.23 580.39h4.41v4.41h-4.41zM187.23 584.75h4.41v4.41h-4.41zM226.49 580.39h4.41v4.41h-4.41zM226.49 584.75h4.41v4.41h-4.41zM239.58 580.39h4.41v4.41h-4.41zM235.22 584.75h4.41v4.41h-4.41zM113.08 589.11h4.41v4.41h-4.41zM113.08 593.47h4.41v4.41h-4.41zM117.44 593.47h4.41v4.41h-4.41zM126.17 593.47h4.41v4.41h-4.41zM156.70 589.11h4.41v4.41h-4.41zM161.06 589.11h4.41v4.41h-4.41zM156.70 593.47h4.41v4.41h-4.41zM161.06 593.47h4.41v4.41h-4.41zM165.42 589.11h4.41v4.41h-4.41zM165.42 593.47h4.41v4.41h-4.41zM195.96 593.47h4.41v4.41h-4.41zM191.60 589.11h4.41v4.41h-4.41zM217.77 589.11h4.41v4.41h-4.41zM226.49 589.11h4.41v4.41h-4.41zM230.85 589.11h4.41v4.41h-4.41zM230.85 593.47h4.41v4.41h-4.41zM235.22 589.11h4.41v4.41h-4.41zM239.58 589.11h4.41v4.41h-4.41zM235.22 593.47h4.41v4.41h-4.41zM113.08 597.84h4.41v4.41h-4.41zM117.44 597.84h4.41v4.41h-4.41zM113.08 602.20h4.41v4.41h-4.41zM130.53 602.20h4.41v4.41h-4.41zM152.34 597.84h4.41v4.41h-4.41zM147.98 597.84h4.41v4.41h-4.41zM156.70 597.84h4.41v4.41h-4.41zM165.42 597.84h4.41v4.41h-4.41zM169.79 597.84h4.41v4.41h-4.41zM165.42 602.20h4.41v4.41h-4.41zM169.79 602.20h4.41v4.41h-4.41zM195.96 597.84h4.41v4.41h-4.41zM191.60 602.20h4.41v4.41h-4.41zM200.32 597.84h4.41v4.41h-4.41zM204.68 597.84h4.41v4.41h-4.41zM204.68 602.20h4.41v4.41h-4.41zM217.77 597.84h4.41v4.41h-4.41zM217.77 602.20h4.41v4.41h-4.41zM222.13 602.20h4.41v4.41h-4.41zM226.49 597.84h4.41v4.41h-4.41zM230.85 597.84h4.41v4.41h-4.41zM226.49 602.20h4.41v4.41h-4.41zM230.85 602.20h4.41v4.41h-4.41zM235.22 602.20h4.41v4.41h-4.41zM113.08 606.56h4.41v4.41h-4.41zM134.89 606.56h4.41v4.41h-4.41zM130.53 610.92h4.41v4.41h-4.41zM147.98 606.56h4.41v4.41h-4.41zM152.34 606.56h4.41v4.41h-4.41zM152.34 610.92h4.41v4.41h-4.41zM217.77 610.92h4.41v4.41h-4.41zM222.13 610.92h4.41v4.41h-4.41zM230.85 606.56h4.41v4.41h-4.41zM248.30 610.92h4.41v4.41h-4.41zM121.80 615.28h4.41v4.41h-4.41zM121.80 619.65h4.41v4.41h-4.41zM130.53 615.28h4.41v4.41h-4.41zM134.89 615.28h4.41v4.41h-4.41zM130.53 619.65h4.41v4.41h-4.41zM147.98 619.65h4.41v4.41h-4.41zM152.34 619.65h4.41v4.41h-4.41zM165.42 619.65h4.41v4.41h-4.41zM182.87 619.65h4.41v4.41h-4.41zM187.23 619.65h4.41v4.41h-4.41zM191.60 619.65h4.41v4.41h-4.41zM195.96 619.65h4.41v4.41h-4.41zM209.04 619.65h4.41v4.41h-4.41zM213.41 615.28h4.41v4.41h-4.41zM217.77 615.28h4.41v4.41h-4.41zM222.13 615.28h4.41v4.41h-4.41zM217.77 619.65h4.41v4.41h-4.41zM222.13 619.65h4.41v4.41h-4.41zM230.85 615.28h4.41v4.41h-4.41zM239.58 615.28h4.41v4.41h-4.41zM243.94 615.28h4.41v4.41h-4.41zM243.94 619.65h4.41v4.41h-4.41zM126.17 628.37h4.41v4.41h-4.41zM126.17 624.01h4.41v4.41h-4.41zM130.53 624.01h4.41v4.41h-4.41zM134.89 624.01h4.41v4.41h-4.41zM130.53 628.37h4.41v4.41h-4.41zM134.89 628.37h4.41v4.41h-4.41zM152.34 628.37h4.41v4.41h-4.41zM195.96 624.01h4.41v4.41h-4.41zM191.60 628.37h4.41v4.41h-4.41zM209.04 624.01h4.41v4.41h-4.41zM213.41 628.37h4.41v4.41h-4.41zM217.77 624.01h4.41v4.41h-4.41zM222.13 624.01h4.41v4.41h-4.41zM217.77 628.37h4.41v4.41h-4.41zM222.13 628.37h4.41v4.41h-4.41zM226.49 624.01h4.41v4.41h-4.41zM230.85 628.37h4.41v4.41h-4.41zM243.94 624.01h4.41v4.41h-4.41zM252.66 624.01h4.41v4.41h-4.41zM252.66 628.37h4.41v4.41h-4.41zM257.03 628.37h4.41v4.41h-4.41zM147.98 632.73h4.41v4.41h-4.41zM147.98 637.09h4.41v4.41h-4.41zM152.34 637.09h4.41v4.41h-4.41zM161.06 632.73h4.41v4.41h-4.41zM156.70 637.09h4.41v4.41h-4.41zM161.06 637.09h4.41v4.41h-4.41zM174.15 632.73h4.41v4.41h-4.41zM178.51 637.09h4.41v4.41h-4.41zM257.03 637.09h4.41v4.41h-4.41zM283.20 637.09h4.41v4.41h-4.41zM296.28 632.73h4.41v4.41h-4.41zM300.65 632.73h4.41v4.41h-4.41zM305.01 632.73h4.41v4.41h-4.41z"/><path fill="#8bd567" d="M130.53 344.84h4.41v4.41h-4.41zM130.53 349.20h4.41v4.41h-4.41zM134.89 349.20h4.41v4.41h-4.41zM139.25 349.20h4.41v4.41h-4.41zM161.06 349.20h4.41v4.41h-4.41zM257.03 349.20h4.41v4.41h-4.41zM296.28 344.84h4.41v4.41h-4.41zM305.01 344.84h4.41v4.41h-4.41zM344.27 349.20h4.41v4.41h-4.41zM243.94 357.93h4.41v4.41h-4.41zM248.30 353.56h4.41v4.41h-4.41zM278.84 357.93h4.41v4.41h-4.41zM283.20 357.93h4.41v4.41h-4.41zM296.28 353.56h4.41v4.41h-4.41zM322.46 353.56h4.41v4.41h-4.41zM326.82 353.56h4.41v4.41h-4.41zM322.46 357.93h4.41v4.41h-4.41zM326.82 357.93h4.41v4.41h-4.41zM331.18 353.56h4.41v4.41h-4.41zM252.66 362.29h4.41v4.41h-4.41zM257.03 366.65h4.41v4.41h-4.41zM187.23 371.01h4.41v4.41h-4.41zM222.13 371.01h4.41v4.41h-4.41zM217.77 375.37h4.41v4.41h-4.41zM243.94 371.01h4.41v4.41h-4.41zM248.30 371.01h4.41v4.41h-4.41zM243.94 375.37h4.41v4.41h-4.41zM252.66 371.01h4.41v4.41h-4.41zM370.44 371.01h4.41v4.41h-4.41zM370.44 375.37h4.41v4.41h-4.41zM374.80 375.37h4.41v4.41h-4.41zM147.98 379.74h4.41v4.41h-4.41zM152.34 384.10h4.41v4.41h-4.41zM187.23 379.74h4.41v4.41h-4.41zM235.22 379.74h4.41v4.41h-4.41zM239.58 379.74h4.41v4.41h-4.41zM235.22 384.10h4.41v4.41h-4.41zM252.66 379.74h4.41v4.41h-4.41zM257.03 384.10h4.41v4.41h-4.41zM270.11 384.10h4.41v4.41h-4.41zM278.84 384.10h4.41v4.41h-4.41zM322.46 379.74h4.41v4.41h-4.41zM331.18 379.74h4.41v4.41h-4.41zM366.08 379.74h4.41v4.41h-4.41zM374.80 379.74h4.41v4.41h-4.41zM374.80 384.10h4.41v4.41h-4.41zM34.56 388.46h4.41v4.41h-4.41zM38.93 392.82h4.41v4.41h-4.41zM99.99 392.82h4.41v4.41h-4.41zM165.42 388.46h4.41v4.41h-4.41zM169.79 388.46h4.41v4.41h-4.41zM174.15 392.82h4.41v4.41h-4.41zM182.87 392.82h4.41v4.41h-4.41zM187.23 392.82h4.41v4.41h-4.41zM195.96 388.46h4.41v4.41h-4.41zM217.77 388.46h4.41v4.41h-4.41zM226.49 388.46h4.41v4.41h-4.41zM230.85 388.46h4.41v4.41h-4.41zM230.85 392.82h4.41v4.41h-4.41zM243.94 388.46h4.41v4.41h-4.41zM248.30 388.46h4.41v4.41h-4.41zM243.94 392.82h4.41v4.41h-4.41zM248.30 392.82h4.41v4.41h-4.41zM348.63 388.46h4.41v4.41h-4.41zM34.56 397.18h4.41v4.41h-4.41zM47.65 397.18h4.41v4.41h-4.41zM47.65 401.55h4.41v4.41h-4.41zM69.46 401.55h4.41v4.41h-4.41zM95.63 397.18h4.41v4.41h-4.41zM99.99 397.18h4.41v4.41h-4.41zM117.44 397.18h4.41v4.41h-4.41zM126.17 397.18h4.41v4.41h-4.41zM130.53 401.55h4.41v4.41h-4.41zM165.42 401.55h4.41v4.41h-4.41zM204.68 397.18h4.41v4.41h-4.41zM200.32 401.55h4.41v4.41h-4.41zM204.68 401.55h4.41v4.41h-4.41zM243.94 401.55h4.41v4.41h-4.41zM283.20 397.18h4.41v4.41h-4.41zM278.84 401.55h4.41v4.41h-4.41zM287.56 397.18h4.41v4.41h-4.41zM383.52 401.55h4.41v4.41h-4.41zM34.56 405.91h4.41v4.41h-4.41zM69.46 410.27h4.41v4.41h-4.41zM108.72 405.91h4.41v4.41h-4.41zM126.17 410.27h4.41v4.41h-4.41zM165.42 405.91h4.41v4.41h-4.41zM169.79 405.91h4.41v4.41h-4.41zM178.51 410.27h4.41v4.41h-4.41zM209.04 405.91h4.41v4.41h-4.41zM213.41 405.91h4.41v4.41h-4.41zM209.04 410.27h4.41v4.41h-4.41zM213.41 410.27h4.41v4.41h-4.41zM235.22 410.27h4.41v4.41h-4.41zM239.58 410.27h4.41v4.41h-4.41zM248.30 410.27h4.41v4.41h-4.41zM287.56 405.91h4.41v4.41h-4.41zM291.92 405.91h4.41v4.41h-4.41zM352.99 410.27h4.41v4.41h-4.41zM383.52 405.91h4.41v4.41h-4.41zM383.52 410.27h4.41v4.41h-4.41zM73.82 414.63h4.41v4.41h-4.41zM165.42 414.63h4.41v4.41h-4.41zM169.79 414.63h4.41v4.41h-4.41zM178.51 414.63h4.41v4.41h-4.41zM239.58 414.63h4.41v4.41h-4.41zM257.03 414.63h4.41v4.41h-4.41zM296.28 418.99h4.41v4.41h-4.41zM374.80 414.63h4.41v4.41h-4.41zM379.16 414.63h4.41v4.41h-4.41zM374.80 418.99h4.41v4.41h-4.41zM73.82 427.72h4.41v4.41h-4.41zM78.18 423.36h4.41v4.41h-4.41zM82.55 423.36h4.41v4.41h-4.41zM78.18 427.72h4.41v4.41h-4.41zM226.49 427.72h4.41v4.41h-4.41zM243.94 423.36h4.41v4.41h-4.41zM261.39 423.36h4.41v4.41h-4.41zM265.75 423.36h4.41v4.41h-4.41zM261.39 427.72h4.41v4.41h-4.41zM270.11 427.72h4.41v4.41h-4.41zM73.82 432.08h4.41v4.41h-4.41zM73.82 436.44h4.41v4.41h-4.41zM161.06 432.08h4.41v4.41h-4.41zM156.70 436.44h4.41v4.41h-4.41zM161.06 436.44h4.41v4.41h-4.41zM230.85 436.44h4.41v4.41h-4.41zM243.94 432.08h4.41v4.41h-4.41zM243.94 436.44h4.41v4.41h-4.41zM252.66 432.08h4.41v4.41h-4.41zM257.03 432.08h4.41v4.41h-4.41zM257.03 436.44h4.41v4.41h-4.41zM226.49 440.80h4.41v4.41h-4.41zM230.85 440.80h4.41v4.41h-4.41zM248.30 440.80h4.41v4.41h-4.41zM379.16 440.80h4.41v4.41h-4.41zM30.20 449.53h4.41v4.41h-4.41zM117.44 453.89h4.41v4.41h-4.41zM143.61 453.89h4.41v4.41h-4.41zM230.85 449.53h4.41v4.41h-4.41zM226.49 453.89h4.41v4.41h-4.41zM235.22 449.53h4.41v4.41h-4.41zM239.58 449.53h4.41v4.41h-4.41zM235.22 453.89h4.41v4.41h-4.41zM248.30 449.53h4.41v4.41h-4.41zM243.94 453.89h4.41v4.41h-4.41zM270.11 453.89h4.41v4.41h-4.41zM309.37 453.89h4.41v4.41h-4.41zM370.44 449.53h4.41v4.41h-4.41zM366.08 453.89h4.41v4.41h-4.41zM69.46 462.61h4.41v4.41h-4.41zM73.82 462.61h4.41v4.41h-4.41zM86.91 462.61h4.41v4.41h-4.41zM113.08 462.61h4.41v4.41h-4.41zM126.17 462.61h4.41v4.41h-4.41zM261.39 458.25h4.41v4.41h-4.41zM283.20 458.25h4.41v4.41h-4.41zM278.84 462.61h4.41v4.41h-4.41zM283.20 462.61h4.41v4.41h-4.41zM300.65 458.25h4.41v4.41h-4.41zM305.01 458.25h4.41v4.41h-4.41zM318.09 462.61h4.41v4.41h-4.41zM339.90 458.25h4.41v4.41h-4.41zM357.35 462.61h4.41v4.41h-4.41zM361.71 462.61h4.41v4.41h-4.41zM366.08 458.25h4.41v4.41h-4.41zM25.84 471.34h4.41v4.41h-4.41zM73.82 471.34h4.41v4.41h-4.41zM121.80 471.34h4.41v4.41h-4.41zM283.20 471.34h4.41v4.41h-4.41zM287.56 466.98h4.41v4.41h-4.41zM296.28 466.98h4.41v4.41h-4.41zM300.65 471.34h4.41v4.41h-4.41zM305.01 471.34h4.41v4.41h-4.41zM322.46 466.98h4.41v4.41h-4.41zM352.99 471.34h4.41v4.41h-4.41zM370.44 466.98h4.41v4.41h-4.41zM370.44 471.34h4.41v4.41h-4.41zM383.52 466.98h4.41v4.41h-4.41zM25.84 475.70h4.41v4.41h-4.41zM30.20 480.06h4.41v4.41h-4.41zM91.27 475.70h4.41v4.41h-4.41zM126.17 480.06h4.41v4.41h-4.41zM248.30 475.70h4.41v4.41h-4.41zM243.94 480.06h4.41v4.41h-4.41zM248.30 480.06h4.41v4.41h-4.41zM300.65 475.70h4.41v4.41h-4.41zM309.37 480.06h4.41v4.41h-4.41zM25.84 484.42h4.41v4.41h-4.41zM121.80 484.42h4.41v4.41h-4.41zM121.80 488.79h4.41v4.41h-4.41zM270.11 484.42h4.41v4.41h-4.41zM283.20 484.42h4.41v4.41h-4.41zM291.92 484.42h4.41v4.41h-4.41zM379.16 488.79h4.41v4.41h-4.41zM25.84 493.15h4.41v4.41h-4.41zM38.93 497.51h4.41v4.41h-4.41zM52.01 493.15h4.41v4.41h-4.41zM52.01 497.51h4.41v4.41h-4.41zM56.37 497.51h4.41v4.41h-4.41zM95.63 493.15h4.41v4.41h-4.41zM99.99 493.15h4.41v4.41h-4.41zM99.99 497.51h4.41v4.41h-4.41zM191.60 493.15h4.41v4.41h-4.41zM191.60 497.51h4.41v4.41h-4.41zM252.66 497.51h4.41v4.41h-4.41zM270.11 493.15h4.41v4.41h-4.41zM379.16 493.15h4.41v4.41h-4.41zM187.23 501.87h4.41v4.41h-4.41zM187.23 506.23h4.41v4.41h-4.41zM195.96 501.87h4.41v4.41h-4.41zM191.60 506.23h4.41v4.41h-4.41zM195.96 506.23h4.41v4.41h-4.41zM200.32 501.87h4.41v4.41h-4.41zM200.32 506.23h4.41v4.41h-4.41zM204.68 506.23h4.41v4.41h-4.41zM252.66 501.87h4.41v4.41h-4.41zM257.03 501.87h4.41v4.41h-4.41zM252.66 506.23h4.41v4.41h-4.41zM257.03 506.23h4.41v4.41h-4.41zM95.63 510.60h4.41v4.41h-4.41zM99.99 510.60h4.41v4.41h-4.41zM99.99 514.96h4.41v4.41h-4.41zM121.80 514.96h4.41v4.41h-4.41zM191.60 510.60h4.41v4.41h-4.41zM195.96 510.60h4.41v4.41h-4.41zM195.96 514.96h4.41v4.41h-4.41zM209.04 510.60h4.41v4.41h-4.41zM213.41 510.60h4.41v4.41h-4.41zM217.77 510.60h4.41v4.41h-4.41zM222.13 514.96h4.41v4.41h-4.41zM121.80 519.32h4.41v4.41h-4.41zM130.53 523.68h4.41v4.41h-4.41zM191.60 519.32h4.41v4.41h-4.41zM195.96 519.32h4.41v4.41h-4.41zM204.68 519.32h4.41v4.41h-4.41zM200.32 523.68h4.41v4.41h-4.41zM204.68 523.68h4.41v4.41h-4.41zM217.77 519.32h4.41v4.41h-4.41zM222.13 519.32h4.41v4.41h-4.41zM222.13 523.68h4.41v4.41h-4.41zM322.46 523.68h4.41v4.41h-4.41zM326.82 523.68h4.41v4.41h-4.41zM30.20 528.04h4.41v4.41h-4.41zM25.84 532.41h4.41v4.41h-4.41zM126.17 528.04h4.41v4.41h-4.41zM143.61 532.41h4.41v4.41h-4.41zM182.87 528.04h4.41v4.41h-4.41zM187.23 532.41h4.41v4.41h-4.41zM200.32 528.04h4.41v4.41h-4.41zM222.13 528.04h4.41v4.41h-4.41zM235.22 528.04h4.41v4.41h-4.41zM239.58 532.41h4.41v4.41h-4.41zM265.75 528.04h4.41v4.41h-4.41zM274.47 528.04h4.41v4.41h-4.41zM278.84 528.04h4.41v4.41h-4.41zM366.08 528.04h4.41v4.41h-4.41zM30.20 536.77h4.41v4.41h-4.41zM25.84 541.13h4.41v4.41h-4.41zM30.20 541.13h4.41v4.41h-4.41zM38.93 541.13h4.41v4.41h-4.41zM78.18 541.13h4.41v4.41h-4.41zM82.55 541.13h4.41v4.41h-4.41zM91.27 541.13h4.41v4.41h-4.41zM99.99 536.77h4.41v4.41h-4.41zM99.99 541.13h4.41v4.41h-4.41zM121.80 536.77h4.41v4.41h-4.41zM126.17 541.13h4.41v4.41h-4.41zM143.61 536.77h4.41v4.41h-4.41zM147.98 541.13h4.41v4.41h-4.41zM156.70 541.13h4.41v4.41h-4.41zM182.87 541.13h4.41v4.41h-4.41zM230.85 541.13h4.41v4.41h-4.41zM34.56 545.49h4.41v4.41h-4.41zM38.93 545.49h4.41v4.41h-4.41zM34.56 549.85h4.41v4.41h-4.41zM38.93 549.85h4.41v4.41h-4.41zM78.18 545.49h4.41v4.41h-4.41zM82.55 545.49h4.41v4.41h-4.41zM82.55 549.85h4.41v4.41h-4.41zM95.63 545.49h4.41v4.41h-4.41zM99.99 545.49h4.41v4.41h-4.41zM99.99 549.85h4.41v4.41h-4.41zM104.36 545.49h4.41v4.41h-4.41zM108.72 545.49h4.41v4.41h-4.41zM117.44 549.85h4.41v4.41h-4.41zM121.80 545.49h4.41v4.41h-4.41zM130.53 545.49h4.41v4.41h-4.41zM134.89 545.49h4.41v4.41h-4.41zM134.89 549.85h4.41v4.41h-4.41zM143.61 545.49h4.41v4.41h-4.41zM139.25 549.85h4.41v4.41h-4.41zM235.22 545.49h4.41v4.41h-4.41zM34.56 554.22h4.41v4.41h-4.41zM78.18 554.22h4.41v4.41h-4.41zM82.55 554.22h4.41v4.41h-4.41zM78.18 558.58h4.41v4.41h-4.41zM82.55 558.58h4.41v4.41h-4.41zM91.27 554.22h4.41v4.41h-4.41zM86.91 558.58h4.41v4.41h-4.41zM91.27 558.58h4.41v4.41h-4.41zM99.99 558.58h4.41v4.41h-4.41zM108.72 554.22h4.41v4.41h-4.41zM126.17 554.22h4.41v4.41h-4.41zM130.53 554.22h4.41v4.41h-4.41zM130.53 558.58h4.41v4.41h-4.41zM134.89 558.58h4.41v4.41h-4.41zM104.36 562.94h4.41v4.41h-4.41zM108.72 562.94h4.41v4.41h-4.41zM108.72 567.30h4.41v4.41h-4.41zM134.89 562.94h4.41v4.41h-4.41zM230.85 571.66h4.41v4.41h-4.41zM230.85 576.03h4.41v4.41h-4.41zM239.58 571.66h4.41v4.41h-4.41zM104.36 584.75h4.41v4.41h-4.41zM117.44 584.75h4.41v4.41h-4.41zM147.98 584.75h4.41v4.41h-4.41zM152.34 589.11h4.41v4.41h-4.41zM152.34 593.47h4.41v4.41h-4.41zM174.15 589.11h4.41v4.41h-4.41zM178.51 589.11h4.41v4.41h-4.41zM174.15 593.47h4.41v4.41h-4.41zM178.51 593.47h4.41v4.41h-4.41zM204.68 593.47h4.41v4.41h-4.41zM226.49 593.47h4.41v4.41h-4.41zM117.44 602.20h4.41v4.41h-4.41zM121.80 597.84h4.41v4.41h-4.41zM121.80 602.20h4.41v4.41h-4.41zM126.17 602.20h4.41v4.41h-4.41zM200.32 602.20h4.41v4.41h-4.41zM113.08 610.92h4.41v4.41h-4.41zM121.80 606.56h4.41v4.41h-4.41zM126.17 606.56h4.41v4.41h-4.41zM126.17 610.92h4.41v4.41h-4.41zM147.98 610.92h4.41v4.41h-4.41zM156.70 606.56h4.41v4.41h-4.41zM165.42 606.56h4.41v4.41h-4.41zM169.79 606.56h4.41v4.41h-4.41zM165.42 610.92h4.41v4.41h-4.41zM169.79 610.92h4.41v4.41h-4.41zM174.15 606.56h4.41v4.41h-4.41zM178.51 606.56h4.41v4.41h-4.41zM174.15 610.92h4.41v4.41h-4.41zM182.87 606.56h4.41v4.41h-4.41zM182.87 610.92h4.41v4.41h-4.41zM222.13 606.56h4.41v4.41h-4.41zM226.49 606.56h4.41v4.41h-4.41zM226.49 610.92h4.41v4.41h-4.41zM230.85 610.92h4.41v4.41h-4.41zM235.22 606.56h4.41v4.41h-4.41zM239.58 606.56h4.41v4.41h-4.41zM243.94 606.56h4.41v4.41h-4.41zM152.34 615.28h4.41v4.41h-4.41zM165.42 615.28h4.41v4.41h-4.41zM169.79 615.28h4.41v4.41h-4.41zM169.79 619.65h4.41v4.41h-4.41zM187.23 615.28h4.41v4.41h-4.41zM226.49 615.28h4.41v4.41h-4.41zM226.49 619.65h4.41v4.41h-4.41zM230.85 619.65h4.41v4.41h-4.41zM235.22 615.28h4.41v4.41h-4.41zM239.58 619.65h4.41v4.41h-4.41zM147.98 628.37h4.41v4.41h-4.41zM161.06 624.01h4.41v4.41h-4.41zM156.70 628.37h4.41v4.41h-4.41zM161.06 628.37h4.41v4.41h-4.41zM169.79 628.37h4.41v4.41h-4.41zM178.51 624.01h4.41v4.41h-4.41zM178.51 628.37h4.41v4.41h-4.41zM182.87 624.01h4.41v4.41h-4.41zM187.23 624.01h4.41v4.41h-4.41zM182.87 628.37h4.41v4.41h-4.41zM195.96 628.37h4.41v4.41h-4.41zM209.04 628.37h4.41v4.41h-4.41zM230.85 624.01h4.41v4.41h-4.41zM226.49 628.37h4.41v4.41h-4.41zM235.22 624.01h4.41v4.41h-4.41zM235.22 628.37h4.41v4.41h-4.41zM239.58 628.37h4.41v4.41h-4.41zM243.94 628.37h4.41v4.41h-4.41zM248.30 628.37h4.41v4.41h-4.41zM152.34 632.73h4.41v4.41h-4.41zM156.70 632.73h4.41v4.41h-4.41zM165.42 632.73h4.41v4.41h-4.41zM169.79 637.09h4.41v4.41h-4.41zM222.13 637.09h4.41v4.41h-4.41zM226.49 632.73h4.41v4.41h-4.41zM230.85 632.73h4.41v4.41h-4.41zM226.49 637.09h4.41v4.41h-4.41zM239.58 637.09h4.41v4.41h-4.41zM243.94 632.73h4.41v4.41h-4.41zM248.30 632.73h4.41v4.41h-4.41zM243.94 637.09h4.41v4.41h-4.41zM248.30 637.09h4.41v4.41h-4.41zM270.11 632.73h4.41v4.41h-4.41zM274.47 632.73h4.41v4.41h-4.41zM270.11 637.09h4.41v4.41h-4.41z"/><path fill="#41b690" d="M73.82 344.84h4.41v4.41h-4.41zM69.46 349.20h4.41v4.41h-4.41zM82.55 344.84h4.41v4.41h-4.41zM82.55 349.20h4.41v4.41h-4.41zM139.25 344.84h4.41v4.41h-4.41zM143.61 349.20h4.41v4.41h-4.41zM252.66 344.84h4.41v4.41h-4.41zM134.89 357.93h4.41v4.41h-4.41zM252.66 353.56h4.41v4.41h-4.41zM257.03 353.56h4.41v4.41h-4.41zM252.66 357.93h4.41v4.41h-4.41zM252.66 366.65h4.41v4.41h-4.41zM73.82 375.37h4.41v4.41h-4.41zM222.13 375.37h4.41v4.41h-4.41zM322.46 371.01h4.41v4.41h-4.41zM326.82 371.01h4.41v4.41h-4.41zM322.46 375.37h4.41v4.41h-4.41zM331.18 375.37h4.41v4.41h-4.41zM339.90 371.01h4.41v4.41h-4.41zM339.90 375.37h4.41v4.41h-4.41zM352.99 371.01h4.41v4.41h-4.41zM379.16 371.01h4.41v4.41h-4.41zM379.16 375.37h4.41v4.41h-4.41zM169.79 379.74h4.41v4.41h-4.41zM174.15 379.74h4.41v4.41h-4.41zM178.51 379.74h4.41v4.41h-4.41zM178.51 384.10h4.41v4.41h-4.41zM182.87 384.10h4.41v4.41h-4.41zM209.04 379.74h4.41v4.41h-4.41zM213.41 379.74h4.41v4.41h-4.41zM213.41 384.10h4.41v4.41h-4.41zM217.77 379.74h4.41v4.41h-4.41zM222.13 384.10h4.41v4.41h-4.41zM239.58 384.10h4.41v4.41h-4.41zM243.94 379.74h4.41v4.41h-4.41zM248.30 379.74h4.41v4.41h-4.41zM243.94 384.10h4.41v4.41h-4.41zM248.30 384.10h4.41v4.41h-4.41zM47.65 388.46h4.41v4.41h-4.41zM43.29 392.82h4.41v4.41h-4.41zM165.42 392.82h4.41v4.41h-4.41zM169.79 392.82h4.41v4.41h-4.41zM174.15 388.46h4.41v4.41h-4.41zM178.51 392.82h4.41v4.41h-4.41zM182.87 388.46h4.41v4.41h-4.41zM200.32 388.46h4.41v4.41h-4.41zM204.68 388.46h4.41v4.41h-4.41zM200.32 392.82h4.41v4.41h-4.41zM209.04 388.46h4.41v4.41h-4.41zM222.13 392.82h4.41v4.41h-4.41zM226.49 392.82h4.41v4.41h-4.41zM235.22 388.46h4.41v4.41h-4.41zM235.22 392.82h4.41v4.41h-4.41zM43.29 401.55h4.41v4.41h-4.41zM69.46 397.18h4.41v4.41h-4.41zM73.82 397.18h4.41v4.41h-4.41zM99.99 401.55h4.41v4.41h-4.41zM104.36 401.55h4.41v4.41h-4.41zM113.08 397.18h4.41v4.41h-4.41zM117.44 401.55h4.41v4.41h-4.41zM121.80 401.55h4.41v4.41h-4.41zM126.17 401.55h4.41v4.41h-4.41zM134.89 397.18h4.41v4.41h-4.41zM134.89 401.55h4.41v4.41h-4.41zM182.87 397.18h4.41v4.41h-4.41zM182.87 401.55h4.41v4.41h-4.41zM195.96 397.18h4.41v4.41h-4.41zM200.32 397.18h4.41v4.41h-4.41zM274.47 401.55h4.41v4.41h-4.41zM278.84 397.18h4.41v4.41h-4.41zM283.20 401.55h4.41v4.41h-4.41zM291.92 397.18h4.41v4.41h-4.41zM387.89 401.55h4.41v4.41h-4.41zM174.15 405.91h4.41v4.41h-4.41zM178.51 405.91h4.41v4.41h-4.41zM174.15 410.27h4.41v4.41h-4.41zM195.96 405.91h4.41v4.41h-4.41zM204.68 405.91h4.41v4.41h-4.41zM352.99 405.91h4.41v4.41h-4.41zM387.89 405.91h4.41v4.41h-4.41zM165.42 418.99h4.41v4.41h-4.41zM169.79 418.99h4.41v4.41h-4.41zM174.15 414.63h4.41v4.41h-4.41zM174.15 418.99h4.41v4.41h-4.41zM178.51 418.99h4.41v4.41h-4.41zM191.60 414.63h4.41v4.41h-4.41zM195.96 414.63h4.41v4.41h-4.41zM217.77 414.63h4.41v4.41h-4.41zM222.13 414.63h4.41v4.41h-4.41zM235.22 414.63h4.41v4.41h-4.41zM235.22 418.99h4.41v4.41h-4.41zM69.46 423.36h4.41v4.41h-4.41zM73.82 423.36h4.41v4.41h-4.41zM156.70 427.72h4.41v4.41h-4.41zM165.42 427.72h4.41v4.41h-4.41zM169.79 427.72h4.41v4.41h-4.41zM182.87 423.36h4.41v4.41h-4.41zM209.04 427.72h4.41v4.41h-4.41zM222.13 423.36h4.41v4.41h-4.41zM230.85 423.36h4.41v4.41h-4.41zM230.85 427.72h4.41v4.41h-4.41zM265.75 427.72h4.41v4.41h-4.41zM69.46 432.08h4.41v4.41h-4.41zM69.46 436.44h4.41v4.41h-4.41zM187.23 432.08h4.41v4.41h-4.41zM191.60 432.08h4.41v4.41h-4.41zM195.96 432.08h4.41v4.41h-4.41zM213.41 432.08h4.41v4.41h-4.41zM226.49 432.08h4.41v4.41h-4.41zM230.85 432.08h4.41v4.41h-4.41zM248.30 432.08h4.41v4.41h-4.41zM252.66 436.44h4.41v4.41h-4.41zM261.39 432.08h4.41v4.41h-4.41zM265.75 436.44h4.41v4.41h-4.41zM147.98 440.80h4.41v4.41h-4.41zM147.98 445.17h4.41v4.41h-4.41zM174.15 445.17h4.41v4.41h-4.41zM187.23 445.17h4.41v4.41h-4.41zM191.60 440.80h4.41v4.41h-4.41zM209.04 445.17h4.41v4.41h-4.41zM222.13 440.80h4.41v4.41h-4.41zM226.49 445.17h4.41v4.41h-4.41zM230.85 445.17h4.41v4.41h-4.41zM243.94 445.17h4.41v4.41h-4.41zM374.80 440.80h4.41v4.41h-4.41zM374.80 445.17h4.41v4.41h-4.41zM139.25 449.53h4.41v4.41h-4.41zM143.61 449.53h4.41v4.41h-4.41zM161.06 449.53h4.41v4.41h-4.41zM165.42 449.53h4.41v4.41h-4.41zM174.15 453.89h4.41v4.41h-4.41zM191.60 453.89h4.41v4.41h-4.41zM226.49 449.53h4.41v4.41h-4.41zM230.85 453.89h4.41v4.41h-4.41zM239.58 453.89h4.41v4.41h-4.41zM243.94 449.53h4.41v4.41h-4.41zM252.66 449.53h4.41v4.41h-4.41zM257.03 449.53h4.41v4.41h-4.41zM257.03 453.89h4.41v4.41h-4.41zM366.08 449.53h4.41v4.41h-4.41zM370.44 453.89h4.41v4.41h-4.41zM374.80 453.89h4.41v4.41h-4.41zM69.46 458.25h4.41v4.41h-4.41zM73.82 458.25h4.41v4.41h-4.41zM78.18 458.25h4.41v4.41h-4.41zM82.55 458.25h4.41v4.41h-4.41zM78.18 462.61h4.41v4.41h-4.41zM82.55 462.61h4.41v4.41h-4.41zM86.91 458.25h4.41v4.41h-4.41zM91.27 458.25h4.41v4.41h-4.41zM99.99 458.25h4.41v4.41h-4.41zM104.36 458.25h4.41v4.41h-4.41zM117.44 458.25h4.41v4.41h-4.41zM117.44 462.61h4.41v4.41h-4.41zM130.53 458.25h4.41v4.41h-4.41zM139.25 462.61h4.41v4.41h-4.41zM147.98 458.25h4.41v4.41h-4.41zM147.98 462.61h4.41v4.41h-4.41zM156.70 458.25h4.41v4.41h-4.41zM161.06 458.25h4.41v4.41h-4.41zM169.79 462.61h4.41v4.41h-4.41zM178.51 462.61h4.41v4.41h-4.41zM182.87 458.25h4.41v4.41h-4.41zM204.68 458.25h4.41v4.41h-4.41zM226.49 462.61h4.41v4.41h-4.41zM239.58 462.61h4.41v4.41h-4.41zM243.94 458.25h4.41v4.41h-4.41zM248.30 458.25h4.41v4.41h-4.41zM265.75 458.25h4.41v4.41h-4.41zM261.39 462.61h4.41v4.41h-4.41zM265.75 462.61h4.41v4.41h-4.41zM313.73 462.61h4.41v4.41h-4.41zM339.90 462.61h4.41v4.41h-4.41zM357.35 458.25h4.41v4.41h-4.41zM361.71 458.25h4.41v4.41h-4.41zM370.44 458.25h4.41v4.41h-4.41zM366.08 462.61h4.41v4.41h-4.41zM374.80 462.61h4.41v4.41h-4.41zM69.46 471.34h4.41v4.41h-4.41zM82.55 466.98h4.41v4.41h-4.41zM95.63 471.34h4.41v4.41h-4.41zM117.44 466.98h4.41v4.41h-4.41zM117.44 471.34h4.41v4.41h-4.41zM126.17 466.98h4.41v4.41h-4.41zM126.17 471.34h4.41v4.41h-4.41zM130.53 466.98h4.41v4.41h-4.41zM152.34 471.34h4.41v4.41h-4.41zM156.70 466.98h4.41v4.41h-4.41zM178.51 466.98h4.41v4.41h-4.41zM191.60 466.98h4.41v4.41h-4.41zM191.60 471.34h4.41v4.41h-4.41zM200.32 466.98h4.41v4.41h-4.41zM204.68 471.34h4.41v4.41h-4.41zM209.04 466.98h4.41v4.41h-4.41zM243.94 466.98h4.41v4.41h-4.41zM243.94 471.34h4.41v4.41h-4.41zM248.30 471.34h4.41v4.41h-4.41zM257.03 471.34h4.41v4.41h-4.41zM261.39 471.34h4.41v4.41h-4.41zM274.47 466.98h4.41v4.41h-4.41zM270.11 471.34h4.41v4.41h-4.41zM274.47 471.34h4.41v4.41h-4.41zM278.84 466.98h4.41v4.41h-4.41zM283.20 466.98h4.41v4.41h-4.41zM278.84 471.34h4.41v4.41h-4.41zM291.92 466.98h4.41v4.41h-4.41zM291.92 471.34h4.41v4.41h-4.41zM296.28 471.34h4.41v4.41h-4.41zM305.01 466.98h4.41v4.41h-4.41zM309.37 466.98h4.41v4.41h-4.41zM309.37 471.34h4.41v4.41h-4.41zM322.46 471.34h4.41v4.41h-4.41zM326.82 471.34h4.41v4.41h-4.41zM366.08 466.98h4.41v4.41h-4.41zM366.08 471.34h4.41v4.41h-4.41zM374.80 471.34h4.41v4.41h-4.41zM73.82 475.70h4.41v4.41h-4.41zM69.46 480.06h4.41v4.41h-4.41zM73.82 480.06h4.41v4.41h-4.41zM82.55 475.70h4.41v4.41h-4.41zM86.91 480.06h4.41v4.41h-4.41zM91.27 480.06h4.41v4.41h-4.41zM99.99 480.06h4.41v4.41h-4.41zM104.36 480.06h4.41v4.41h-4.41zM126.17 475.70h4.41v4.41h-4.41zM121.80 480.06h4.41v4.41h-4.41zM130.53 475.70h4.41v4.41h-4.41zM130.53 480.06h4.41v4.41h-4.41zM187.23 480.06h4.41v4.41h-4.41zM209.04 475.70h4.41v4.41h-4.41zM213.41 475.70h4.41v4.41h-4.41zM213.41 480.06h4.41v4.41h-4.41zM243.94 475.70h4.41v4.41h-4.41zM270.11 475.70h4.41v4.41h-4.41zM278.84 475.70h4.41v4.41h-4.41zM283.20 475.70h4.41v4.41h-4.41zM278.84 480.06h4.41v4.41h-4.41zM283.20 480.06h4.41v4.41h-4.41zM287.56 475.70h4.41v4.41h-4.41zM291.92 475.70h4.41v4.41h-4.41zM287.56 480.06h4.41v4.41h-4.41zM291.92 480.06h4.41v4.41h-4.41zM296.28 480.06h4.41v4.41h-4.41zM305.01 475.70h4.41v4.41h-4.41zM309.37 475.70h4.41v4.41h-4.41zM313.73 475.70h4.41v4.41h-4.41zM318.09 475.70h4.41v4.41h-4.41zM313.73 480.06h4.41v4.41h-4.41zM318.09 480.06h4.41v4.41h-4.41zM326.82 475.70h4.41v4.41h-4.41zM73.82 488.79h4.41v4.41h-4.41zM108.72 488.79h4.41v4.41h-4.41zM113.08 484.42h4.41v4.41h-4.41zM126.17 484.42h4.41v4.41h-4.41zM143.61 488.79h4.41v4.41h-4.41zM156.70 484.42h4.41v4.41h-4.41zM156.70 488.79h4.41v4.41h-4.41zM165.42 488.79h4.41v4.41h-4.41zM178.51 488.79h4.41v4.41h-4.41zM213.41 484.42h4.41v4.41h-4.41zM213.41 488.79h4.41v4.41h-4.41zM217.77 488.79h4.41v4.41h-4.41zM222.13 488.79h4.41v4.41h-4.41zM226.49 488.79h4.41v4.41h-4.41zM270.11 488.79h4.41v4.41h-4.41zM108.72 493.15h4.41v4.41h-4.41zM104.36 497.51h4.41v4.41h-4.41zM108.72 497.51h4.41v4.41h-4.41zM121.80 497.51h4.41v4.41h-4.41zM134.89 497.51h4.41v4.41h-4.41zM139.25 497.51h4.41v4.41h-4.41zM156.70 493.15h4.41v4.41h-4.41zM178.51 493.15h4.41v4.41h-4.41zM195.96 493.15h4.41v4.41h-4.41zM200.32 497.51h4.41v4.41h-4.41zM217.77 493.15h4.41v4.41h-4.41zM243.94 497.51h4.41v4.41h-4.41zM252.66 493.15h4.41v4.41h-4.41zM257.03 493.15h4.41v4.41h-4.41zM257.03 497.51h4.41v4.41h-4.41zM261.39 493.15h4.41v4.41h-4.41zM265.75 493.15h4.41v4.41h-4.41zM34.56 501.87h4.41v4.41h-4.41zM38.93 501.87h4.41v4.41h-4.41zM34.56 506.23h4.41v4.41h-4.41zM95.63 506.23h4.41v4.41h-4.41zM99.99 506.23h4.41v4.41h-4.41zM108.72 501.87h4.41v4.41h-4.41zM121.80 501.87h4.41v4.41h-4.41zM121.80 506.23h4.41v4.41h-4.41zM126.17 506.23h4.41v4.41h-4.41zM143.61 506.23h4.41v4.41h-4.41zM161.06 501.87h4.41v4.41h-4.41zM156.70 506.23h4.41v4.41h-4.41zM161.06 506.23h4.41v4.41h-4.41zM178.51 501.87h4.41v4.41h-4.41zM174.15 506.23h4.41v4.41h-4.41zM191.60 501.87h4.41v4.41h-4.41zM209.04 501.87h4.41v4.41h-4.41zM213.41 501.87h4.41v4.41h-4.41zM209.04 506.23h4.41v4.41h-4.41zM213.41 506.23h4.41v4.41h-4.41zM104.36 510.60h4.41v4.41h-4.41zM108.72 510.60h4.41v4.41h-4.41zM104.36 514.96h4.41v4.41h-4.41zM108.72 514.96h4.41v4.41h-4.41zM113.08 510.60h4.41v4.41h-4.41zM113.08 514.96h4.41v4.41h-4.41zM156.70 514.96h4.41v4.41h-4.41zM165.42 510.60h4.41v4.41h-4.41zM165.42 514.96h4.41v4.41h-4.41zM174.15 510.60h4.41v4.41h-4.41zM178.51 510.60h4.41v4.41h-4.41zM174.15 514.96h4.41v4.41h-4.41zM191.60 514.96h4.41v4.41h-4.41zM209.04 514.96h4.41v4.41h-4.41zM213.41 514.96h4.41v4.41h-4.41zM274.47 510.60h4.41v4.41h-4.41zM274.47 514.96h4.41v4.41h-4.41zM187.23 519.32h4.41v4.41h-4.41zM195.96 523.68h4.41v4.41h-4.41zM200.32 519.32h4.41v4.41h-4.41zM213.41 523.68h4.41v4.41h-4.41zM226.49 523.68h4.41v4.41h-4.41zM230.85 523.68h4.41v4.41h-4.41zM326.82 519.32h4.41v4.41h-4.41zM30.20 532.41h4.41v4.41h-4.41zM121.80 528.04h4.41v4.41h-4.41zM187.23 528.04h4.41v4.41h-4.41zM182.87 532.41h4.41v4.41h-4.41zM191.60 528.04h4.41v4.41h-4.41zM204.68 528.04h4.41v4.41h-4.41zM200.32 532.41h4.41v4.41h-4.41zM204.68 532.41h4.41v4.41h-4.41zM217.77 528.04h4.41v4.41h-4.41zM222.13 532.41h4.41v4.41h-4.41zM226.49 528.04h4.41v4.41h-4.41zM230.85 528.04h4.41v4.41h-4.41zM226.49 532.41h4.41v4.41h-4.41zM230.85 532.41h4.41v4.41h-4.41zM270.11 528.04h4.41v4.41h-4.41zM34.56 536.77h4.41v4.41h-4.41zM38.93 536.77h4.41v4.41h-4.41zM82.55 536.77h4.41v4.41h-4.41zM91.27 536.77h4.41v4.41h-4.41zM126.17 536.77h4.41v4.41h-4.41zM121.80 541.13h4.41v4.41h-4.41zM139.25 541.13h4.41v4.41h-4.41zM169.79 536.77h4.41v4.41h-4.41zM178.51 541.13h4.41v4.41h-4.41zM182.87 536.77h4.41v4.41h-4.41zM187.23 536.77h4.41v4.41h-4.41zM204.68 536.77h4.41v4.41h-4.41zM200.32 541.13h4.41v4.41h-4.41zM217.77 536.77h4.41v4.41h-4.41zM222.13 541.13h4.41v4.41h-4.41zM226.49 536.77h4.41v4.41h-4.41zM230.85 536.77h4.41v4.41h-4.41zM86.91 545.49h4.41v4.41h-4.41zM235.22 549.85h4.41v4.41h-4.41zM239.58 549.85h4.41v4.41h-4.41zM134.89 554.22h4.41v4.41h-4.41zM235.22 554.22h4.41v4.41h-4.41zM239.58 554.22h4.41v4.41h-4.41zM239.58 558.58h4.41v4.41h-4.41zM104.36 567.30h4.41v4.41h-4.41zM130.53 562.94h4.41v4.41h-4.41zM134.89 567.30h4.41v4.41h-4.41zM235.22 567.30h4.41v4.41h-4.41zM239.58 567.30h4.41v4.41h-4.41zM204.68 589.11h4.41v4.41h-4.41zM126.17 597.84h4.41v4.41h-4.41zM161.06 597.84h4.41v4.41h-4.41zM156.70 602.20h4.41v4.41h-4.41zM161.06 602.20h4.41v4.41h-4.41zM121.80 610.92h4.41v4.41h-4.41zM161.06 606.56h4.41v4.41h-4.41zM235.22 610.92h4.41v4.41h-4.41zM239.58 610.92h4.41v4.41h-4.41zM156.70 615.28h4.41v4.41h-4.41zM161.06 615.28h4.41v4.41h-4.41zM156.70 619.65h4.41v4.41h-4.41zM161.06 619.65h4.41v4.41h-4.41zM174.15 615.28h4.41v4.41h-4.41zM178.51 615.28h4.41v4.41h-4.41zM174.15 619.65h4.41v4.41h-4.41zM178.51 619.65h4.41v4.41h-4.41zM182.87 615.28h4.41v4.41h-4.41zM235.22 619.65h4.41v4.41h-4.41zM156.70 624.01h4.41v4.41h-4.41zM165.42 624.01h4.41v4.41h-4.41zM169.79 624.01h4.41v4.41h-4.41zM165.42 628.37h4.41v4.41h-4.41zM174.15 624.01h4.41v4.41h-4.41zM248.30 624.01h4.41v4.41h-4.41zM165.42 637.09h4.41v4.41h-4.41zM230.85 637.09h4.41v4.41h-4.41zM274.47 637.09h4.41v4.41h-4.41zM300.65 637.09h4.41v4.41h-4.41z"/><path fill="#438aa0" d="M69.46 344.84h4.41v4.41h-4.41zM73.82 349.20h4.41v4.41h-4.41zM78.18 344.84h4.41v4.41h-4.41zM130.53 353.56h4.41v4.41h-4.41zM257.03 357.93h4.41v4.41h-4.41zM326.82 375.37h4.41v4.41h-4.41zM331.18 371.01h4.41v4.41h-4.41zM335.54 371.01h4.41v4.41h-4.41zM344.27 371.01h4.41v4.41h-4.41zM344.27 375.37h4.41v4.41h-4.41zM348.63 375.37h4.41v4.41h-4.41zM165.42 379.74h4.41v4.41h-4.41zM174.15 384.10h4.41v4.41h-4.41zM209.04 384.10h4.41v4.41h-4.41zM222.13 379.74h4.41v4.41h-4.41zM217.77 384.10h4.41v4.41h-4.41zM43.29 388.46h4.41v4.41h-4.41zM47.65 392.82h4.41v4.41h-4.41zM178.51 388.46h4.41v4.41h-4.41zM204.68 392.82h4.41v4.41h-4.41zM213.41 388.46h4.41v4.41h-4.41zM209.04 392.82h4.41v4.41h-4.41zM213.41 392.82h4.41v4.41h-4.41zM239.58 388.46h4.41v4.41h-4.41zM239.58 392.82h4.41v4.41h-4.41zM73.82 401.55h4.41v4.41h-4.41zM104.36 397.18h4.41v4.41h-4.41zM108.72 397.18h4.41v4.41h-4.41zM108.72 401.55h4.41v4.41h-4.41zM113.08 401.55h4.41v4.41h-4.41zM187.23 397.18h4.41v4.41h-4.41zM187.23 401.55h4.41v4.41h-4.41zM191.60 397.18h4.41v4.41h-4.41zM191.60 401.55h4.41v4.41h-4.41zM195.96 401.55h4.41v4.41h-4.41zM209.04 397.18h4.41v4.41h-4.41zM213.41 397.18h4.41v4.41h-4.41zM209.04 401.55h4.41v4.41h-4.41zM213.41 401.55h4.41v4.41h-4.41zM222.13 401.55h4.41v4.41h-4.41zM182.87 405.91h4.41v4.41h-4.41zM182.87 410.27h4.41v4.41h-4.41zM187.23 410.27h4.41v4.41h-4.41zM191.60 405.91h4.41v4.41h-4.41zM191.60 410.27h4.41v4.41h-4.41zM195.96 410.27h4.41v4.41h-4.41zM200.32 405.91h4.41v4.41h-4.41zM200.32 410.27h4.41v4.41h-4.41zM204.68 410.27h4.41v4.41h-4.41zM217.77 405.91h4.41v4.41h-4.41zM182.87 414.63h4.41v4.41h-4.41zM187.23 414.63h4.41v4.41h-4.41zM182.87 418.99h4.41v4.41h-4.41zM187.23 418.99h4.41v4.41h-4.41zM191.60 418.99h4.41v4.41h-4.41zM195.96 418.99h4.41v4.41h-4.41zM204.68 414.63h4.41v4.41h-4.41zM200.32 418.99h4.41v4.41h-4.41zM209.04 414.63h4.41v4.41h-4.41zM213.41 414.63h4.41v4.41h-4.41zM209.04 418.99h4.41v4.41h-4.41zM213.41 418.99h4.41v4.41h-4.41zM217.77 418.99h4.41v4.41h-4.41zM165.42 423.36h4.41v4.41h-4.41zM169.79 423.36h4.41v4.41h-4.41zM178.51 423.36h4.41v4.41h-4.41zM174.15 427.72h4.41v4.41h-4.41zM178.51 427.72h4.41v4.41h-4.41zM187.23 423.36h4.41v4.41h-4.41zM182.87 427.72h4.41v4.41h-4.41zM187.23 427.72h4.41v4.41h-4.41zM191.60 423.36h4.41v4.41h-4.41zM195.96 423.36h4.41v4.41h-4.41zM191.60 427.72h4.41v4.41h-4.41zM195.96 427.72h4.41v4.41h-4.41zM200.32 423.36h4.41v4.41h-4.41zM204.68 423.36h4.41v4.41h-4.41zM200.32 427.72h4.41v4.41h-4.41zM204.68 427.72h4.41v4.41h-4.41zM213.41 423.36h4.41v4.41h-4.41zM217.77 423.36h4.41v4.41h-4.41zM217.77 427.72h4.41v4.41h-4.41zM222.13 427.72h4.41v4.41h-4.41zM165.42 432.08h4.41v4.41h-4.41zM169.79 432.08h4.41v4.41h-4.41zM165.42 436.44h4.41v4.41h-4.41zM169.79 436.44h4.41v4.41h-4.41zM174.15 432.08h4.41v4.41h-4.41zM178.51 432.08h4.41v4.41h-4.41zM174.15 436.44h4.41v4.41h-4.41zM182.87 432.08h4.41v4.41h-4.41zM182.87 436.44h4.41v4.41h-4.41zM187.23 436.44h4.41v4.41h-4.41zM191.60 436.44h4.41v4.41h-4.41zM195.96 436.44h4.41v4.41h-4.41zM200.32 432.08h4.41v4.41h-4.41zM204.68 432.08h4.41v4.41h-4.41zM200.32 436.44h4.41v4.41h-4.41zM209.04 432.08h4.41v4.41h-4.41zM209.04 436.44h4.41v4.41h-4.41zM213.41 436.44h4.41v4.41h-4.41zM217.77 432.08h4.41v4.41h-4.41zM217.77 436.44h4.41v4.41h-4.41zM222.13 436.44h4.41v4.41h-4.41zM226.49 436.44h4.41v4.41h-4.41zM265.75 432.08h4.41v4.41h-4.41zM156.70 440.80h4.41v4.41h-4.41zM161.06 440.80h4.41v4.41h-4.41zM156.70 445.17h4.41v4.41h-4.41zM161.06 445.17h4.41v4.41h-4.41zM165.42 440.80h4.41v4.41h-4.41zM169.79 440.80h4.41v4.41h-4.41zM165.42 445.17h4.41v4.41h-4.41zM169.79 445.17h4.41v4.41h-4.41zM174.15 440.80h4.41v4.41h-4.41zM178.51 440.80h4.41v4.41h-4.41zM182.87 440.80h4.41v4.41h-4.41zM187.23 440.80h4.41v4.41h-4.41zM182.87 445.17h4.41v4.41h-4.41zM195.96 440.80h4.41v4.41h-4.41zM191.60 445.17h4.41v4.41h-4.41zM195.96 445.17h4.41v4.41h-4.41zM200.32 440.80h4.41v4.41h-4.41zM204.68 440.80h4.41v4.41h-4.41zM200.32 445.17h4.41v4.41h-4.41zM204.68 445.17h4.41v4.41h-4.41zM209.04 440.80h4.41v4.41h-4.41zM213.41 440.80h4.41v4.41h-4.41zM213.41 445.17h4.41v4.41h-4.41zM217.77 440.80h4.41v4.41h-4.41zM217.77 445.17h4.41v4.41h-4.41zM222.13 445.17h4.41v4.41h-4.41zM383.52 440.80h4.41v4.41h-4.41zM387.89 440.80h4.41v4.41h-4.41zM383.52 445.17h4.41v4.41h-4.41zM139.25 453.89h4.41v4.41h-4.41zM152.34 449.53h4.41v4.41h-4.41zM147.98 453.89h4.41v4.41h-4.41zM152.34 453.89h4.41v4.41h-4.41zM156.70 453.89h4.41v4.41h-4.41zM161.06 453.89h4.41v4.41h-4.41zM169.79 449.53h4.41v4.41h-4.41zM169.79 453.89h4.41v4.41h-4.41zM174.15 449.53h4.41v4.41h-4.41zM178.51 453.89h4.41v4.41h-4.41zM182.87 449.53h4.41v4.41h-4.41zM187.23 449.53h4.41v4.41h-4.41zM182.87 453.89h4.41v4.41h-4.41zM191.60 449.53h4.41v4.41h-4.41zM195.96 449.53h4.41v4.41h-4.41zM195.96 453.89h4.41v4.41h-4.41zM200.32 449.53h4.41v4.41h-4.41zM204.68 449.53h4.41v4.41h-4.41zM200.32 453.89h4.41v4.41h-4.41zM204.68 453.89h4.41v4.41h-4.41zM209.04 449.53h4.41v4.41h-4.41zM213.41 449.53h4.41v4.41h-4.41zM209.04 453.89h4.41v4.41h-4.41zM213.41 453.89h4.41v4.41h-4.41zM217.77 449.53h4.41v4.41h-4.41zM222.13 449.53h4.41v4.41h-4.41zM217.77 453.89h4.41v4.41h-4.41zM222.13 453.89h4.41v4.41h-4.41zM252.66 453.89h4.41v4.41h-4.41zM374.80 449.53h4.41v4.41h-4.41zM379.16 453.89h4.41v4.41h-4.41zM383.52 449.53h4.41v4.41h-4.41zM383.52 453.89h4.41v4.41h-4.41zM387.89 453.89h4.41v4.41h-4.41zM91.27 462.61h4.41v4.41h-4.41zM95.63 462.61h4.41v4.41h-4.41zM108.72 458.25h4.41v4.41h-4.41zM104.36 462.61h4.41v4.41h-4.41zM108.72 462.61h4.41v4.41h-4.41zM113.08 458.25h4.41v4.41h-4.41zM134.89 458.25h4.41v4.41h-4.41zM130.53 462.61h4.41v4.41h-4.41zM134.89 462.61h4.41v4.41h-4.41zM139.25 458.25h4.41v4.41h-4.41zM143.61 458.25h4.41v4.41h-4.41zM143.61 462.61h4.41v4.41h-4.41zM156.70 462.61h4.41v4.41h-4.41zM161.06 462.61h4.41v4.41h-4.41zM165.42 458.25h4.41v4.41h-4.41zM169.79 458.25h4.41v4.41h-4.41zM165.42 462.61h4.41v4.41h-4.41zM174.15 458.25h4.41v4.41h-4.41zM178.51 458.25h4.41v4.41h-4.41zM187.23 458.25h4.41v4.41h-4.41zM187.23 462.61h4.41v4.41h-4.41zM191.60 458.25h4.41v4.41h-4.41zM195.96 458.25h4.41v4.41h-4.41zM191.60 462.61h4.41v4.41h-4.41zM195.96 462.61h4.41v4.41h-4.41zM200.32 458.25h4.41v4.41h-4.41zM200.32 462.61h4.41v4.41h-4.41zM204.68 462.61h4.41v4.41h-4.41zM209.04 458.25h4.41v4.41h-4.41zM213.41 458.25h4.41v4.41h-4.41zM209.04 462.61h4.41v4.41h-4.41zM213.41 462.61h4.41v4.41h-4.41zM226.49 458.25h4.41v4.41h-4.41zM230.85 458.25h4.41v4.41h-4.41zM230.85 462.61h4.41v4.41h-4.41zM235.22 458.25h4.41v4.41h-4.41zM239.58 458.25h4.41v4.41h-4.41zM235.22 462.61h4.41v4.41h-4.41zM243.94 462.61h4.41v4.41h-4.41zM248.30 462.61h4.41v4.41h-4.41zM252.66 458.25h4.41v4.41h-4.41zM257.03 458.25h4.41v4.41h-4.41zM252.66 462.61h4.41v4.41h-4.41zM257.03 462.61h4.41v4.41h-4.41zM270.11 458.25h4.41v4.41h-4.41zM274.47 458.25h4.41v4.41h-4.41zM270.11 462.61h4.41v4.41h-4.41zM274.47 462.61h4.41v4.41h-4.41zM370.44 462.61h4.41v4.41h-4.41zM374.80 458.25h4.41v4.41h-4.41zM379.16 458.25h4.41v4.41h-4.41zM379.16 462.61h4.41v4.41h-4.41zM387.89 458.25h4.41v4.41h-4.41zM383.52 462.61h4.41v4.41h-4.41zM387.89 462.61h4.41v4.41h-4.41zM69.46 466.98h4.41v4.41h-4.41zM73.82 466.98h4.41v4.41h-4.41zM78.18 466.98h4.41v4.41h-4.41zM82.55 471.34h4.41v4.41h-4.41zM86.91 466.98h4.41v4.41h-4.41zM86.91 471.34h4.41v4.41h-4.41zM95.63 466.98h4.41v4.41h-4.41zM99.99 466.98h4.41v4.41h-4.41zM99.99 471.34h4.41v4.41h-4.41zM104.36 466.98h4.41v4.41h-4.41zM108.72 466.98h4.41v4.41h-4.41zM104.36 471.34h4.41v4.41h-4.41zM108.72 471.34h4.41v4.41h-4.41zM113.08 466.98h4.41v4.41h-4.41zM113.08 471.34h4.41v4.41h-4.41zM121.80 466.98h4.41v4.41h-4.41zM134.89 466.98h4.41v4.41h-4.41zM130.53 471.34h4.41v4.41h-4.41zM134.89 471.34h4.41v4.41h-4.41zM139.25 466.98h4.41v4.41h-4.41zM143.61 466.98h4.41v4.41h-4.41zM139.25 471.34h4.41v4.41h-4.41zM143.61 471.34h4.41v4.41h-4.41zM147.98 466.98h4.41v4.41h-4.41zM152.34 466.98h4.41v4.41h-4.41zM147.98 471.34h4.41v4.41h-4.41zM161.06 466.98h4.41v4.41h-4.41zM156.70 471.34h4.41v4.41h-4.41zM161.06 471.34h4.41v4.41h-4.41zM174.15 466.98h4.41v4.41h-4.41zM174.15 471.34h4.41v4.41h-4.41zM178.51 471.34h4.41v4.41h-4.41zM182.87 466.98h4.41v4.41h-4.41zM187.23 466.98h4.41v4.41h-4.41zM182.87 471.34h4.41v4.41h-4.41zM187.23 471.34h4.41v4.41h-4.41zM195.96 471.34h4.41v4.41h-4.41zM204.68 466.98h4.41v4.41h-4.41zM200.32 471.34h4.41v4.41h-4.41zM213.41 466.98h4.41v4.41h-4.41zM209.04 471.34h4.41v4.41h-4.41zM213.41 471.34h4.41v4.41h-4.41zM222.13 466.98h4.41v4.41h-4.41zM222.13 471.34h4.41v4.41h-4.41zM226.49 466.98h4.41v4.41h-4.41zM230.85 466.98h4.41v4.41h-4.41zM226.49 471.34h4.41v4.41h-4.41zM230.85 471.34h4.41v4.41h-4.41zM239.58 466.98h4.41v4.41h-4.41zM235.22 471.34h4.41v4.41h-4.41zM239.58 471.34h4.41v4.41h-4.41zM248.30 466.98h4.41v4.41h-4.41zM252.66 466.98h4.41v4.41h-4.41zM257.03 466.98h4.41v4.41h-4.41zM252.66 471.34h4.41v4.41h-4.41zM261.39 466.98h4.41v4.41h-4.41zM265.75 466.98h4.41v4.41h-4.41zM265.75 471.34h4.41v4.41h-4.41zM270.11 466.98h4.41v4.41h-4.41zM287.56 471.34h4.41v4.41h-4.41zM313.73 466.98h4.41v4.41h-4.41zM318.09 466.98h4.41v4.41h-4.41zM313.73 471.34h4.41v4.41h-4.41zM318.09 471.34h4.41v4.41h-4.41zM326.82 466.98h4.41v4.41h-4.41zM387.89 471.34h4.41v4.41h-4.41zM69.46 475.70h4.41v4.41h-4.41zM78.18 475.70h4.41v4.41h-4.41zM78.18 480.06h4.41v4.41h-4.41zM82.55 480.06h4.41v4.41h-4.41zM86.91 475.70h4.41v4.41h-4.41zM95.63 475.70h4.41v4.41h-4.41zM99.99 475.70h4.41v4.41h-4.41zM95.63 480.06h4.41v4.41h-4.41zM104.36 475.70h4.41v4.41h-4.41zM108.72 475.70h4.41v4.41h-4.41zM113.08 475.70h4.41v4.41h-4.41zM113.08 480.06h4.41v4.41h-4.41zM117.44 480.06h4.41v4.41h-4.41zM121.80 475.70h4.41v4.41h-4.41zM134.89 475.70h4.41v4.41h-4.41zM134.89 480.06h4.41v4.41h-4.41zM139.25 475.70h4.41v4.41h-4.41zM143.61 475.70h4.41v4.41h-4.41zM139.25 480.06h4.41v4.41h-4.41zM143.61 480.06h4.41v4.41h-4.41zM152.34 475.70h4.41v4.41h-4.41zM147.98 480.06h4.41v4.41h-4.41zM156.70 475.70h4.41v4.41h-4.41zM161.06 475.70h4.41v4.41h-4.41zM156.70 480.06h4.41v4.41h-4.41zM161.06 480.06h4.41v4.41h-4.41zM169.79 475.70h4.41v4.41h-4.41zM165.42 480.06h4.41v4.41h-4.41zM169.79 480.06h4.41v4.41h-4.41zM174.15 475.70h4.41v4.41h-4.41zM178.51 475.70h4.41v4.41h-4.41zM174.15 480.06h4.41v4.41h-4.41zM178.51 480.06h4.41v4.41h-4.41zM182.87 475.70h4.41v4.41h-4.41zM187.23 475.70h4.41v4.41h-4.41zM182.87 480.06h4.41v4.41h-4.41zM191.60 480.06h4.41v4.41h-4.41zM200.32 475.70h4.41v4.41h-4.41zM200.32 480.06h4.41v4.41h-4.41zM204.68 480.06h4.41v4.41h-4.41zM217.77 475.70h4.41v4.41h-4.41zM217.77 480.06h4.41v4.41h-4.41zM222.13 480.06h4.41v4.41h-4.41zM226.49 475.70h4.41v4.41h-4.41zM226.49 480.06h4.41v4.41h-4.41zM235.22 475.70h4.41v4.41h-4.41zM239.58 475.70h4.41v4.41h-4.41zM235.22 480.06h4.41v4.41h-4.41zM239.58 480.06h4.41v4.41h-4.41zM252.66 475.70h4.41v4.41h-4.41zM257.03 475.70h4.41v4.41h-4.41zM252.66 480.06h4.41v4.41h-4.41zM257.03 480.06h4.41v4.41h-4.41zM265.75 475.70h4.41v4.41h-4.41zM261.39 480.06h4.41v4.41h-4.41zM265.75 480.06h4.41v4.41h-4.41zM274.47 475.70h4.41v4.41h-4.41zM270.11 480.06h4.41v4.41h-4.41zM274.47 480.06h4.41v4.41h-4.41zM296.28 475.70h4.41v4.41h-4.41zM300.65 480.06h4.41v4.41h-4.41zM305.01 480.06h4.41v4.41h-4.41zM322.46 475.70h4.41v4.41h-4.41zM322.46 480.06h4.41v4.41h-4.41zM326.82 480.06h4.41v4.41h-4.41zM78.18 484.42h4.41v4.41h-4.41zM82.55 484.42h4.41v4.41h-4.41zM82.55 488.79h4.41v4.41h-4.41zM95.63 484.42h4.41v4.41h-4.41zM99.99 488.79h4.41v4.41h-4.41zM104.36 484.42h4.41v4.41h-4.41zM117.44 484.42h4.41v4.41h-4.41zM113.08 488.79h4.41v4.41h-4.41zM117.44 488.79h4.41v4.41h-4.41zM126.17 488.79h4.41v4.41h-4.41zM130.53 484.42h4.41v4.41h-4.41zM134.89 484.42h4.41v4.41h-4.41zM130.53 488.79h4.41v4.41h-4.41zM134.89 488.79h4.41v4.41h-4.41zM139.25 484.42h4.41v4.41h-4.41zM143.61 484.42h4.41v4.41h-4.41zM139.25 488.79h4.41v4.41h-4.41zM147.98 484.42h4.41v4.41h-4.41zM152.34 484.42h4.41v4.41h-4.41zM147.98 488.79h4.41v4.41h-4.41zM152.34 488.79h4.41v4.41h-4.41zM161.06 484.42h4.41v4.41h-4.41zM161.06 488.79h4.41v4.41h-4.41zM165.42 484.42h4.41v4.41h-4.41zM169.79 484.42h4.41v4.41h-4.41zM169.79 488.79h4.41v4.41h-4.41zM174.15 484.42h4.41v4.41h-4.41zM178.51 484.42h4.41v4.41h-4.41zM174.15 488.79h4.41v4.41h-4.41zM182.87 484.42h4.41v4.41h-4.41zM187.23 484.42h4.41v4.41h-4.41zM182.87 488.79h4.41v4.41h-4.41zM187.23 488.79h4.41v4.41h-4.41zM191.60 484.42h4.41v4.41h-4.41zM195.96 484.42h4.41v4.41h-4.41zM195.96 488.79h4.41v4.41h-4.41zM200.32 484.42h4.41v4.41h-4.41zM209.04 484.42h4.41v4.41h-4.41zM209.04 488.79h4.41v4.41h-4.41zM217.77 484.42h4.41v4.41h-4.41zM222.13 484.42h4.41v4.41h-4.41zM226.49 484.42h4.41v4.41h-4.41zM230.85 484.42h4.41v4.41h-4.41zM235.22 484.42h4.41v4.41h-4.41zM239.58 484.42h4.41v4.41h-4.41zM235.22 488.79h4.41v4.41h-4.41zM239.58 488.79h4.41v4.41h-4.41zM243.94 488.79h4.41v4.41h-4.41zM248.30 488.79h4.41v4.41h-4.41zM252.66 484.42h4.41v4.41h-4.41zM257.03 484.42h4.41v4.41h-4.41zM252.66 488.79h4.41v4.41h-4.41zM257.03 488.79h4.41v4.41h-4.41zM265.75 484.42h4.41v4.41h-4.41zM261.39 488.79h4.41v4.41h-4.41zM104.36 493.15h4.41v4.41h-4.41zM113.08 493.15h4.41v4.41h-4.41zM117.44 493.15h4.41v4.41h-4.41zM113.08 497.51h4.41v4.41h-4.41zM117.44 497.51h4.41v4.41h-4.41zM121.80 493.15h4.41v4.41h-4.41zM126.17 493.15h4.41v4.41h-4.41zM126.17 497.51h4.41v4.41h-4.41zM134.89 493.15h4.41v4.41h-4.41zM130.53 497.51h4.41v4.41h-4.41zM139.25 493.15h4.41v4.41h-4.41zM143.61 493.15h4.41v4.41h-4.41zM143.61 497.51h4.41v4.41h-4.41zM147.98 493.15h4.41v4.41h-4.41zM152.34 493.15h4.41v4.41h-4.41zM147.98 497.51h4.41v4.41h-4.41zM152.34 497.51h4.41v4.41h-4.41zM161.06 493.15h4.41v4.41h-4.41zM156.70 497.51h4.41v4.41h-4.41zM161.06 497.51h4.41v4.41h-4.41zM169.79 493.15h4.41v4.41h-4.41zM174.15 493.15h4.41v4.41h-4.41zM174.15 497.51h4.41v4.41h-4.41zM182.87 497.51h4.41v4.41h-4.41zM187.23 497.51h4.41v4.41h-4.41zM195.96 497.51h4.41v4.41h-4.41zM200.32 493.15h4.41v4.41h-4.41zM204.68 493.15h4.41v4.41h-4.41zM204.68 497.51h4.41v4.41h-4.41zM209.04 493.15h4.41v4.41h-4.41zM213.41 493.15h4.41v4.41h-4.41zM209.04 497.51h4.41v4.41h-4.41zM222.13 493.15h4.41v4.41h-4.41zM217.77 497.51h4.41v4.41h-4.41zM222.13 497.51h4.41v4.41h-4.41zM226.49 493.15h4.41v4.41h-4.41zM226.49 497.51h4.41v4.41h-4.41zM230.85 497.51h4.41v4.41h-4.41zM243.94 493.15h4.41v4.41h-4.41zM248.30 493.15h4.41v4.41h-4.41zM248.30 497.51h4.41v4.41h-4.41zM261.39 497.51h4.41v4.41h-4.41zM265.75 497.51h4.41v4.41h-4.41zM95.63 501.87h4.41v4.41h-4.41zM104.36 501.87h4.41v4.41h-4.41zM104.36 506.23h4.41v4.41h-4.41zM108.72 506.23h4.41v4.41h-4.41zM113.08 501.87h4.41v4.41h-4.41zM113.08 506.23h4.41v4.41h-4.41zM117.44 506.23h4.41v4.41h-4.41zM126.17 501.87h4.41v4.41h-4.41zM130.53 501.87h4.41v4.41h-4.41zM134.89 501.87h4.41v4.41h-4.41zM130.53 506.23h4.41v4.41h-4.41zM134.89 506.23h4.41v4.41h-4.41zM139.25 501.87h4.41v4.41h-4.41zM143.61 501.87h4.41v4.41h-4.41zM139.25 506.23h4.41v4.41h-4.41zM147.98 501.87h4.41v4.41h-4.41zM152.34 501.87h4.41v4.41h-4.41zM147.98 506.23h4.41v4.41h-4.41zM152.34 506.23h4.41v4.41h-4.41zM165.42 506.23h4.41v4.41h-4.41zM169.79 506.23h4.41v4.41h-4.41zM174.15 501.87h4.41v4.41h-4.41zM178.51 506.23h4.41v4.41h-4.41zM217.77 506.23h4.41v4.41h-4.41zM222.13 506.23h4.41v4.41h-4.41zM226.49 501.87h4.41v4.41h-4.41zM248.30 501.87h4.41v4.41h-4.41zM243.94 506.23h4.41v4.41h-4.41zM248.30 506.23h4.41v4.41h-4.41zM117.44 510.60h4.41v4.41h-4.41zM117.44 514.96h4.41v4.41h-4.41zM134.89 514.96h4.41v4.41h-4.41zM147.98 510.60h4.41v4.41h-4.41zM152.34 510.60h4.41v4.41h-4.41zM147.98 514.96h4.41v4.41h-4.41zM152.34 514.96h4.41v4.41h-4.41zM156.70 510.60h4.41v4.41h-4.41zM161.06 510.60h4.41v4.41h-4.41zM161.06 514.96h4.41v4.41h-4.41zM169.79 510.60h4.41v4.41h-4.41zM178.51 514.96h4.41v4.41h-4.41zM226.49 514.96h4.41v4.41h-4.41zM270.11 510.60h4.41v4.41h-4.41zM147.98 519.32h4.41v4.41h-4.41zM152.34 519.32h4.41v4.41h-4.41zM152.34 523.68h4.41v4.41h-4.41zM156.70 519.32h4.41v4.41h-4.41zM161.06 519.32h4.41v4.41h-4.41zM156.70 523.68h4.41v4.41h-4.41zM161.06 523.68h4.41v4.41h-4.41zM165.42 519.32h4.41v4.41h-4.41zM169.79 519.32h4.41v4.41h-4.41zM165.42 523.68h4.41v4.41h-4.41zM169.79 523.68h4.41v4.41h-4.41zM174.15 519.32h4.41v4.41h-4.41zM178.51 519.32h4.41v4.41h-4.41zM174.15 523.68h4.41v4.41h-4.41zM178.51 523.68h4.41v4.41h-4.41zM182.87 523.68h4.41v4.41h-4.41zM187.23 523.68h4.41v4.41h-4.41zM209.04 519.32h4.41v4.41h-4.41zM213.41 519.32h4.41v4.41h-4.41zM209.04 523.68h4.41v4.41h-4.41zM226.49 519.32h4.41v4.41h-4.41zM230.85 519.32h4.41v4.41h-4.41zM147.98 528.04h4.41v4.41h-4.41zM152.34 528.04h4.41v4.41h-4.41zM147.98 532.41h4.41v4.41h-4.41zM152.34 532.41h4.41v4.41h-4.41zM156.70 528.04h4.41v4.41h-4.41zM161.06 528.04h4.41v4.41h-4.41zM156.70 532.41h4.41v4.41h-4.41zM165.42 528.04h4.41v4.41h-4.41zM169.79 528.04h4.41v4.41h-4.41zM165.42 532.41h4.41v4.41h-4.41zM169.79 532.41h4.41v4.41h-4.41zM174.15 528.04h4.41v4.41h-4.41zM178.51 528.04h4.41v4.41h-4.41zM174.15 532.41h4.41v4.41h-4.41zM178.51 532.41h4.41v4.41h-4.41zM195.96 528.04h4.41v4.41h-4.41zM191.60 532.41h4.41v4.41h-4.41zM195.96 532.41h4.41v4.41h-4.41zM209.04 528.04h4.41v4.41h-4.41zM213.41 528.04h4.41v4.41h-4.41zM209.04 532.41h4.41v4.41h-4.41zM213.41 532.41h4.41v4.41h-4.41zM217.77 532.41h4.41v4.41h-4.41zM152.34 536.77h4.41v4.41h-4.41zM165.42 536.77h4.41v4.41h-4.41zM169.79 541.13h4.41v4.41h-4.41zM174.15 536.77h4.41v4.41h-4.41zM178.51 536.77h4.41v4.41h-4.41zM174.15 541.13h4.41v4.41h-4.41zM187.23 541.13h4.41v4.41h-4.41zM191.60 536.77h4.41v4.41h-4.41zM195.96 536.77h4.41v4.41h-4.41zM191.60 541.13h4.41v4.41h-4.41zM195.96 541.13h4.41v4.41h-4.41zM217.77 541.13h4.41v4.41h-4.41zM91.27 545.49h4.41v4.41h-4.41zM86.91 549.85h4.41v4.41h-4.41zM91.27 549.85h4.41v4.41h-4.41zM239.58 545.49h4.41v4.41h-4.41zM235.22 558.58h4.41v4.41h-4.41zM235.22 562.94h4.41v4.41h-4.41zM156.70 610.92h4.41v4.41h-4.41zM161.06 610.92h4.41v4.41h-4.41zM174.15 628.37h4.41v4.41h-4.41zM239.58 624.01h4.41v4.41h-4.41z"/><path fill="#5b5fa5" d="M217.77 397.18h4.41v4.41h-4.41zM222.13 397.18h4.41v4.41h-4.41zM187.23 405.91h4.41v4.41h-4.41zM222.13 405.91h4.41v4.41h-4.41zM217.77 410.27h4.41v4.41h-4.41zM222.13 410.27h4.41v4.41h-4.41zM200.32 414.63h4.41v4.41h-4.41zM204.68 418.99h4.41v4.41h-4.41zM222.13 418.99h4.41v4.41h-4.41zM174.15 423.36h4.41v4.41h-4.41zM209.04 423.36h4.41v4.41h-4.41zM213.41 427.72h4.41v4.41h-4.41zM178.51 436.44h4.41v4.41h-4.41zM204.68 436.44h4.41v4.41h-4.41zM222.13 432.08h4.41v4.41h-4.41zM178.51 445.17h4.41v4.41h-4.41zM147.98 449.53h4.41v4.41h-4.41zM156.70 449.53h4.41v4.41h-4.41zM165.42 453.89h4.41v4.41h-4.41zM178.51 449.53h4.41v4.41h-4.41zM187.23 453.89h4.41v4.41h-4.41zM379.16 449.53h4.41v4.41h-4.41zM95.63 458.25h4.41v4.41h-4.41zM99.99 462.61h4.41v4.41h-4.41zM152.34 458.25h4.41v4.41h-4.41zM152.34 462.61h4.41v4.41h-4.41zM174.15 462.61h4.41v4.41h-4.41zM182.87 462.61h4.41v4.41h-4.41zM217.77 458.25h4.41v4.41h-4.41zM222.13 458.25h4.41v4.41h-4.41zM222.13 462.61h4.41v4.41h-4.41zM78.18 471.34h4.41v4.41h-4.41zM91.27 466.98h4.41v4.41h-4.41zM91.27 471.34h4.41v4.41h-4.41zM165.42 466.98h4.41v4.41h-4.41zM169.79 466.98h4.41v4.41h-4.41zM165.42 471.34h4.41v4.41h-4.41zM169.79 471.34h4.41v4.41h-4.41zM195.96 466.98h4.41v4.41h-4.41zM217.77 471.34h4.41v4.41h-4.41zM235.22 466.98h4.41v4.41h-4.41zM108.72 480.06h4.41v4.41h-4.41zM117.44 475.70h4.41v4.41h-4.41zM147.98 475.70h4.41v4.41h-4.41zM152.34 480.06h4.41v4.41h-4.41zM165.42 475.70h4.41v4.41h-4.41zM191.60 475.70h4.41v4.41h-4.41zM195.96 475.70h4.41v4.41h-4.41zM195.96 480.06h4.41v4.41h-4.41zM204.68 475.70h4.41v4.41h-4.41zM222.13 475.70h4.41v4.41h-4.41zM230.85 475.70h4.41v4.41h-4.41zM230.85 480.06h4.41v4.41h-4.41zM261.39 475.70h4.41v4.41h-4.41zM108.72 484.42h4.41v4.41h-4.41zM104.36 488.79h4.41v4.41h-4.41zM191.60 488.79h4.41v4.41h-4.41zM204.68 484.42h4.41v4.41h-4.41zM200.32 488.79h4.41v4.41h-4.41zM204.68 488.79h4.41v4.41h-4.41zM230.85 488.79h4.41v4.41h-4.41zM243.94 484.42h4.41v4.41h-4.41zM261.39 484.42h4.41v4.41h-4.41zM265.75 488.79h4.41v4.41h-4.41zM130.53 493.15h4.41v4.41h-4.41zM165.42 493.15h4.41v4.41h-4.41zM165.42 497.51h4.41v4.41h-4.41zM169.79 497.51h4.41v4.41h-4.41zM178.51 497.51h4.41v4.41h-4.41zM182.87 493.15h4.41v4.41h-4.41zM187.23 493.15h4.41v4.41h-4.41zM213.41 497.51h4.41v4.41h-4.41zM230.85 493.15h4.41v4.41h-4.41zM117.44 501.87h4.41v4.41h-4.41zM156.70 501.87h4.41v4.41h-4.41zM165.42 501.87h4.41v4.41h-4.41zM169.79 501.87h4.41v4.41h-4.41zM222.13 501.87h4.41v4.41h-4.41zM230.85 501.87h4.41v4.41h-4.41zM230.85 506.23h4.41v4.41h-4.41zM169.79 514.96h4.41v4.41h-4.41zM147.98 523.68h4.41v4.41h-4.41zM182.87 519.32h4.41v4.41h-4.41zM161.06 532.41h4.41v4.41h-4.41z"/><path fill="#622570" d="M217.77 401.55h4.41v4.41h-4.41zM217.77 462.61h4.41v4.41h-4.41zM217.77 466.98h4.41v4.41h-4.41zM248.30 484.42h4.41v4.41h-4.41zM217.77 501.87h4.41v4.41h-4.41z"/></g><g fill="none" stroke="#000" stroke-width="1.8" stroke-linejoin="round" stroke-linecap="round"><path d="M192.6 81.9 L189.4 79.8 L186.3 80.0 L183.2 81.3 L181.3 78.8 L178.8 75.7 L177.5 72.5 L175.7 69.4 L173.2 66.3 L172.8 63.2 L170.0 59.4 L169.5 55.0 L170.3 51.3 L168.2 49.4 L167.8 44.8 L195.7 44.8 L195.1 50.0 L194.1 52.5 L195.7 56.3 L198.2 60.7 L199.8 64.4 L198.8 68.2 L197.8 72.5 L196.9 77.5 L197.6 82.6 L199.0 86.0 L200.0 91.0 L199.5 96.0 L198.5 100.0 L198.0 106.0 L197.5 111.0 L198.0 118.0 L198.5 124.0 L198.5 138.0 L198.0 147.7"/><path d="M192.6 81.9 L192.5 86.0 L191.5 90.0 L189.0 95.0 L187.5 98.0 L187.0 102.0 L185.5 106.0 L184.5 110.0 L184.0 116.0 L184.0 120.0"/><path d="M188.2 98.8 L198.3 100.3"/><path d="M192.6 119.4 L180.0 120.6 L170.1 122.3 L168.8 122.5 L168.6 135.7 L135.0 137.5 L135.3 151.5 L135.3 157.3"/><path d="M126.7 157.3 L135.3 157.3 L146.9 157.9 L158.4 156.1 L175.0 152.7 L181.8 151.5 L182.9 149.4 L191.0 148.3 L198.0 147.7 L208.2 147.7 L207.6 188.6 L191.0 188.1"/><path d="M191.0 148.3 L190.6 180.0 L189.4 205.0 L188.3 229.0 L191.8 229.0"/><path d="M99.6 163.1 L103.6 162.5 L108.8 164.2 L112.3 164.8 L118.1 164.2 L121.5 163.6 L123.2 164.8 L123.8 167.7 L122.7 169.4 L99.6 173.4 L99.6 163.1"/><path d="M126.7 157.3 L126.7 164.8 L125.5 167.7"/><path d="M123.8 169.4 L134.2 169.4 L134.2 201.1 L140.0 200.0 L141.1 194.2 L145.7 192.5 L148.0 188.4 L151.5 181.5 L152.3 182.7 L149.2 194.2 L153.8 195.3 L154.4 204.6 L153.5 213.8 L153.8 219.3 L153.1 227.6 L153.4 232.5"/><path d="M125.5 169.4 L124.9 202.2 L122.1 202.8 L122.1 210.9 L130.7 209.7 L133.6 204.6 L134.2 201.1"/><path d="M142.1 232.5 L145.5 226.9 L149.7 225.6 L151.0 227.6 L153.1 232.5 L159.3 232.5 L160.7 229.0 L166.9 228.3 L169.0 226.9 L172.5 226.2 L175.9 229.0 L178.7 233.1 L181.4 238.7 L184.2 244.2 L186.3 251.1 L187.7 255.2"/><path d="M187.7 255.2 L191.8 255.9 L193.2 263.5 L198.0 270.4 L200.8 277.3 L195.9 280.1 L191.1 278.7 L185.6 273.2 L181.4 270.4 L179.4 273.9 L176.6 271.1 L180.1 268.4 L184.2 267.7 L187.7 264.9 L187.0 258.0 L187.7 255.2"/><path d="M189.0 254.6 L189.0 247.0 L189.7 240.0 L191.1 233.1 L193.2 227.6 L195.2 220.7 L198.0 215.2 L200.8 210.4 L204.2 210.4 L204.9 213.8 L211.8 219.3 L217.5 223.8 L223.8 228.8 L232.6 231.3 L235.1 230.0 L233.8 225.0 L232.6 217.5 L230.7 207.5 L230.1 200.0 L237.1 198.8 L237.7 178.0 L248.0 177.4 L259.6 179.1 L268.2 180.3 L268.2 164.1"/><path d="M191.5 226.4 L208.4 225.6"/><path d="M208.2 168.2 L218.4 166.6 L229.1 165.0 L239.9 164.4 L248.0 164.1 L259.6 163.9 L271.1 164.1 L280.3 164.7 L288.4 166.5"/><path d="M241.1 138.2 L241.7 150.3 L259.6 150.9 L265.3 152.6 L267.6 154.9 L268.8 157.2 L270.5 159.5 L273.4 161.3 L282.6 164.1 L288.4 166.5"/><path d="M199.0 124.0 L203.0 119.0 L204.0 115.0 L204.5 111.0 L205.0 107.0 L206.5 101.0 L207.0 96.0 L206.5 88.0 L207.0 83.0 L210.0 82.5 L214.0 81.5 L215.5 82.0 L216.5 84.0 L220.0 83.5 L228.0 82.0 L229.3 83.5 L229.6 88.5"/><path d="M229.8 88.0 L223.5 104.0 L221.5 103.0 L228.0 88.5 L229.8 88.0"/><path d="M222.0 103.0 L220.0 108.0 L219.0 116.0 L221.0 120.0 L222.5 126.0 L223.8 130.0 L224.8 134.3 L227.0 136.8 L231.9 136.8"/><path d="M231.9 136.5 L231.9 130.7 L231.7 125.0 L233.1 122.7 L236.5 121.5 L239.4 120.4 L240.6 122.7 L242.3 125.0 L244.0 125.6 L245.7 126.1 L246.3 128.4 L247.5 130.2 L249.2 131.3 L252.1 132.5 L251.5 136.5 L252.1 140.5 L249.8 141.1 L247.5 140.5 L245.2 138.8 L243.4 137.6 L241.1 138.2 L239.4 139.4 L237.7 138.8 L235.9 137.6 L231.9 136.5"/><path d="M591.1 81.9 L587.9 79.8 L584.8 80.0 L581.7 81.3 L579.8 78.8 L577.3 75.7 L576.0 72.5 L574.2 69.4 L571.7 66.3 L571.3 63.2 L568.5 59.4 L568.0 55.0 L568.8 51.3 L566.7 49.4 L566.3 44.8 L594.2 44.8 L593.6 50.0 L592.6 52.5 L594.2 56.3 L596.7 60.7 L598.3 64.4 L597.3 68.2 L596.3 72.5 L595.4 77.5 L596.1 82.6 L597.5 86.0 L598.5 91.0 L598.0 96.0 L597.0 100.0 L596.5 106.0 L596.0 111.0 L596.5 118.0 L597.0 124.0 L597.0 138.0 L596.5 147.7"/><path d="M591.1 81.9 L591.0 86.0 L590.0 90.0 L587.5 95.0 L586.0 98.0 L585.5 102.0 L584.0 106.0 L583.0 110.0 L582.5 116.0 L582.5 120.0"/><path d="M586.7 98.8 L596.8 100.3"/><path d="M591.1 119.4 L578.5 120.6 L568.6 122.3 L567.3 122.5 L567.1 135.7 L533.5 137.5 L533.8 151.5 L533.8 157.3"/><path d="M525.2 157.3 L533.8 157.3 L545.4 157.9 L556.9 156.1 L573.5 152.7 L580.3 151.5 L581.4 149.4 L589.5 148.3 L596.5 147.7 L606.7 147.7 L606.1 188.6 L589.5 188.1"/><path d="M589.5 148.3 L589.1 180.0 L587.9 205.0 L586.8 229.0 L590.3 229.0"/><path d="M498.1 163.1 L502.1 162.5 L507.3 164.2 L510.8 164.8 L516.6 164.2 L520.0 163.6 L521.7 164.8 L522.3 167.7 L521.2 169.4 L498.1 173.4 L498.1 163.1"/><path d="M525.2 157.3 L525.2 164.8 L524.0 167.7"/><path d="M522.3 169.4 L532.7 169.4 L532.7 201.1 L538.5 200.0 L539.6 194.2 L544.2 192.5 L546.5 188.4 L550.0 181.5 L550.8 182.7 L547.7 194.2 L552.3 195.3 L552.9 204.6 L552.0 213.8 L552.3 219.3 L551.6 227.6 L551.9 232.5"/><path d="M524.0 169.4 L523.4 202.2 L520.6 202.8 L520.6 210.9 L529.2 209.7 L532.1 204.6 L532.7 201.1"/><path d="M540.6 232.5 L544.0 226.9 L548.2 225.6 L549.5 227.6 L551.6 232.5 L557.8 232.5 L559.2 229.0 L565.4 228.3 L567.5 226.9 L571.0 226.2 L574.4 229.0 L577.2 233.1 L579.9 238.7 L582.7 244.2 L584.8 251.1 L586.2 255.2"/><path d="M586.2 255.2 L590.3 255.9 L591.7 263.5 L596.5 270.4 L599.3 277.3 L594.4 280.1 L589.6 278.7 L584.1 273.2 L579.9 270.4 L577.9 273.9 L575.1 271.1 L578.6 268.4 L582.7 267.7 L586.2 264.9 L585.5 258.0 L586.2 255.2"/><path d="M587.5 254.6 L587.5 247.0 L588.2 240.0 L589.6 233.1 L591.7 227.6 L593.7 220.7 L596.5 215.2 L599.3 210.4 L602.7 210.4 L603.4 213.8 L610.3 219.3 L616.0 223.8 L622.3 228.8 L631.1 231.3 L633.6 230.0 L632.3 225.0 L631.1 217.5 L629.2 207.5 L628.6 200.0 L635.6 198.8 L636.2 178.0 L646.5 177.4 L658.1 179.1 L666.7 180.3 L666.7 164.1"/><path d="M590.0 226.4 L606.9 225.6"/><path d="M606.7 168.2 L616.9 166.6 L627.6 165.0 L638.4 164.4 L646.5 164.1 L658.1 163.9 L669.6 164.1 L678.8 164.7 L686.9 166.5"/><path d="M639.6 138.2 L640.2 150.3 L658.1 150.9 L663.8 152.6 L666.1 154.9 L667.3 157.2 L669.0 159.5 L671.9 161.3 L681.1 164.1 L686.9 166.5"/><path d="M597.5 124.0 L601.5 119.0 L602.5 115.0 L603.0 111.0 L603.5 107.0 L605.0 101.0 L605.5 96.0 L605.0 88.0 L605.5 83.0 L608.5 82.5 L612.5 81.5 L614.0 82.0 L615.0 84.0 L618.5 83.5 L626.5 82.0 L627.8 83.5 L628.1 88.5"/><path d="M628.3 88.0 L622.0 104.0 L620.0 103.0 L626.5 88.5 L628.3 88.0"/><path d="M620.5 103.0 L618.5 108.0 L617.5 116.0 L619.5 120.0 L621.0 126.0 L622.3 130.0 L623.3 134.3 L625.5 136.8 L630.4 136.8"/><path d="M630.4 136.5 L630.4 130.7 L630.2 125.0 L631.6 122.7 L635.0 121.5 L637.9 120.4 L639.1 122.7 L640.8 125.0 L642.5 125.6 L644.2 126.1 L644.8 128.4 L646.0 130.2 L647.7 131.3 L650.6 132.5 L650.0 136.5 L650.6 140.5 L648.3 141.1 L646.0 140.5 L643.7 138.8 L641.9 137.6 L639.6 138.2 L637.9 139.4 L636.2 138.8 L634.4 137.6 L630.4 136.5"/><path d="M192.6 399.0 L189.4 396.9 L186.3 397.1 L183.2 398.4 L181.3 395.9 L178.8 392.8 L177.5 389.6 L175.7 386.5 L173.2 383.4 L172.8 380.3 L170.0 376.5 L169.5 372.1 L170.3 368.4 L168.2 366.5 L167.8 361.9 L195.7 361.9 L195.1 367.1 L194.1 369.6 L195.7 373.4 L198.2 377.8 L199.8 381.5 L198.8 385.3 L197.8 389.6 L196.9 394.6 L197.6 399.7 L199.0 403.1 L200.0 408.1 L199.5 413.1 L198.5 417.1 L198.0 423.1 L197.5 428.1 L198.0 435.1 L198.5 441.1 L198.5 455.1 L198.0 464.8"/><path d="M192.6 399.0 L192.5 403.1 L191.5 407.1 L189.0 412.1 L187.5 415.1 L187.0 419.1 L185.5 423.1 L184.5 427.1 L184.0 433.1 L184.0 437.1"/><path d="M188.2 415.9 L198.3 417.4"/><path d="M192.6 436.5 L180.0 437.7 L170.1 439.4 L168.8 439.6 L168.6 452.8 L135.0 454.6 L135.3 468.6 L135.3 474.4"/><path d="M126.7 474.4 L135.3 474.4 L146.9 475.0 L158.4 473.2 L175.0 469.8 L181.8 468.6 L182.9 466.5 L191.0 465.4 L198.0 464.8 L208.2 464.8 L207.6 505.7 L191.0 505.2"/><path d="M191.0 465.4 L190.6 497.1 L189.4 522.1 L188.3 546.1 L191.8 546.1"/><path d="M99.6 480.2 L103.6 479.6 L108.8 481.3 L112.3 481.9 L118.1 481.3 L121.5 480.7 L123.2 481.9 L123.8 484.8 L122.7 486.5 L99.6 490.5 L99.6 480.2"/><path d="M126.7 474.4 L126.7 481.9 L125.5 484.8"/><path d="M123.8 486.5 L134.2 486.5 L134.2 518.2 L140.0 517.1 L141.1 511.3 L145.7 509.6 L148.0 505.5 L151.5 498.6 L152.3 499.8 L149.2 511.3 L153.8 512.4 L154.4 521.7 L153.5 530.9 L153.8 536.4 L153.1 544.7 L153.4 549.6"/><path d="M125.5 486.5 L124.9 519.3 L122.1 519.9 L122.1 528.0 L130.7 526.8 L133.6 521.7 L134.2 518.2"/><path d="M142.1 549.6 L145.5 544.0 L149.7 542.7 L151.0 544.7 L153.1 549.6 L159.3 549.6 L160.7 546.1 L166.9 545.4 L169.0 544.0 L172.5 543.3 L175.9 546.1 L178.7 550.2 L181.4 555.8 L184.2 561.3 L186.3 568.2 L187.7 572.3"/><path d="M187.7 572.3 L191.8 573.0 L193.2 580.6 L198.0 587.5 L200.8 594.4 L195.9 597.2 L191.1 595.8 L185.6 590.3 L181.4 587.5 L179.4 591.0 L176.6 588.2 L180.1 585.5 L184.2 584.8 L187.7 582.0 L187.0 575.1 L187.7 572.3"/><path d="M189.0 571.7 L189.0 564.1 L189.7 557.1 L191.1 550.2 L193.2 544.7 L195.2 537.8 L198.0 532.3 L200.8 527.5 L204.2 527.5 L204.9 530.9 L211.8 536.4 L217.5 540.9 L223.8 545.9 L232.6 548.4 L235.1 547.1 L233.8 542.1 L232.6 534.6 L230.7 524.6 L230.1 517.1 L237.1 515.9 L237.7 495.1 L248.0 494.5 L259.6 496.2 L268.2 497.4 L268.2 481.2"/><path d="M191.5 543.5 L208.4 542.7"/><path d="M208.2 485.3 L218.4 483.7 L229.1 482.1 L239.9 481.5 L248.0 481.2 L259.6 481.0 L271.1 481.2 L280.3 481.8 L288.4 483.6"/><path d="M241.1 455.3 L241.7 467.4 L259.6 468.0 L265.3 469.7 L267.6 472.0 L268.8 474.3 L270.5 476.6 L273.4 478.4 L282.6 481.2 L288.4 483.6"/><path d="M199.0 441.1 L203.0 436.1 L204.0 432.1 L204.5 428.1 L205.0 424.1 L206.5 418.1 L207.0 413.1 L206.5 405.1 L207.0 400.1 L210.0 399.6 L214.0 398.6 L215.5 399.1 L216.5 401.1 L220.0 400.6 L228.0 399.1 L229.3 400.6 L229.6 405.6"/><path d="M229.8 405.1 L223.5 421.1 L221.5 420.1 L228.0 405.6 L229.8 405.1"/><path d="M222.0 420.1 L220.0 425.1 L219.0 433.1 L221.0 437.1 L222.5 443.1 L223.8 447.1 L224.8 451.4 L227.0 453.9 L231.9 453.9"/><path d="M231.9 453.6 L231.9 447.8 L231.7 442.1 L233.1 439.8 L236.5 438.6 L239.4 437.5 L240.6 439.8 L242.3 442.1 L244.0 442.7 L245.7 443.2 L246.3 445.5 L247.5 447.3 L249.2 448.4 L252.1 449.6 L251.5 453.6 L252.1 457.6 L249.8 458.2 L247.5 457.6 L245.2 455.9 L243.4 454.7 L241.1 455.3 L239.4 456.5 L237.7 455.9 L235.9 454.7 L231.9 453.6"/></g><rect x="160.8" y="94.6" width="5.3" height="17.8" rx="0.8" fill="#fff" stroke="#000" stroke-width="1.6"/><circle cx="187.2" cy="87.9" r="1.3" fill="none" stroke="#000" stroke-width="1.1"/><rect x="559.3" y="94.6" width="5.3" height="17.8" rx="0.8" fill="#fff" stroke="#000" stroke-width="1.6"/><circle cx="585.7" cy="87.9" r="1.3" fill="none" stroke="#000" stroke-width="1.1"/><rect x="160.8" y="411.7" width="5.3" height="17.8" rx="0.8" fill="#fff" stroke="#000" stroke-width="1.6"/><circle cx="187.2" cy="405.0" r="1.3" fill="none" stroke="#000" stroke-width="1.1"/><text x="53.7" y="22.9" font-size="11" text-anchor="middle" fill="#1e1e1e">74°24′E</text><text x="127.8" y="22.9" font-size="11" text-anchor="middle" fill="#1e1e1e">74°30′E</text><text x="201.0" y="22.9" font-size="11" text-anchor="middle" fill="#1e1e1e">74°36′E</text><text x="274.1" y="22.9" font-size="11" text-anchor="middle" fill="#1e1e1e">74°42′E</text><text x="348.0" y="22.9" font-size="11" text-anchor="middle" fill="#1e1e1e">74°48′E</text><text x="24.0" y="30.5" font-size="11" text-anchor="middle" fill="#1e1e1e" transform="rotate(-90 24.0 30.5)">43°0′N</text><text x="24.0" y="130.7" font-size="11" text-anchor="middle" fill="#1e1e1e" transform="rotate(-90 24.0 130.7)">42°54′N</text><text x="24.0" y="231.3" font-size="11" text-anchor="middle" fill="#1e1e1e" transform="rotate(-90 24.0 231.3)">42°48′N</text><path d="M53.5 27.6v9M51.3 324.0v-9M127.5 27.6v9M125.4 324.0v-9M200.7 27.6v9M199.2 324.0v-9M274.6 27.6v9M273.5 324.0v-9M348.0 27.6v9M347.8 324.0v-9M26.5 30.5h3M389.2 32.0h-9M26.5 130.7h9M389.2 132.4h-9M26.5 231.0h9M389.2 232.7h-9" stroke="#222" stroke-width="1.1" fill="none"/><text x="452.2" y="22.9" font-size="11" text-anchor="middle" fill="#1e1e1e">74°24′E</text><text x="526.3" y="22.9" font-size="11" text-anchor="middle" fill="#1e1e1e">74°30′E</text><text x="599.5" y="22.9" font-size="11" text-anchor="middle" fill="#1e1e1e">74°36′E</text><text x="672.6" y="22.9" font-size="11" text-anchor="middle" fill="#1e1e1e">74°42′E</text><text x="746.5" y="22.9" font-size="11" text-anchor="middle" fill="#1e1e1e">74°48′E</text><text x="422.5" y="30.5" font-size="11" text-anchor="middle" fill="#1e1e1e" transform="rotate(-90 422.5 30.5)">43°0′N</text><text x="422.5" y="130.7" font-size="11" text-anchor="middle" fill="#1e1e1e" transform="rotate(-90 422.5 130.7)">42°54′N</text><text x="422.5" y="231.3" font-size="11" text-anchor="middle" fill="#1e1e1e" transform="rotate(-90 422.5 231.3)">42°48′N</text><path d="M452.0 27.6v9M449.8 324.0v-9M526.0 27.6v9M523.9 324.0v-9M599.2 27.6v9M597.7 324.0v-9M673.1 27.6v9M672.0 324.0v-9M746.5 27.6v9M746.3 324.0v-9M425.0 30.5h3M787.7 32.0h-9M425.0 130.7h9M787.7 132.4h-9M425.0 231.0h9M787.7 232.7h-9" stroke="#222" stroke-width="1.1" fill="none"/><text x="53.7" y="340.0" font-size="11" text-anchor="middle" fill="#1e1e1e">74°24′E</text><text x="127.8" y="340.0" font-size="11" text-anchor="middle" fill="#1e1e1e">74°30′E</text><text x="201.0" y="340.0" font-size="11" text-anchor="middle" fill="#1e1e1e">74°36′E</text><text x="274.1" y="340.0" font-size="11" text-anchor="middle" fill="#1e1e1e">74°42′E</text><text x="348.0" y="340.0" font-size="11" text-anchor="middle" fill="#1e1e1e">74°48′E</text><text x="24.0" y="347.6" font-size="11" text-anchor="middle" fill="#1e1e1e" transform="rotate(-90 24.0 347.6)">43°0′N</text><text x="24.0" y="447.8" font-size="11" text-anchor="middle" fill="#1e1e1e" transform="rotate(-90 24.0 447.8)">42°54′N</text><text x="24.0" y="548.4" font-size="11" text-anchor="middle" fill="#1e1e1e" transform="rotate(-90 24.0 548.4)">42°48′N</text><path d="M53.5 344.7v9M51.3 641.1v-9M127.5 344.7v9M125.4 641.1v-9M200.7 344.7v9M199.2 641.1v-9M274.6 344.7v9M273.5 641.1v-9M348.0 344.7v9M347.8 641.1v-9M26.5 347.6h3M389.2 349.1h-9M26.5 447.8h9M389.2 449.5h-9M26.5 548.1h9M389.2 549.8h-9" stroke="#222" stroke-width="1.1" fill="none"/><text x="28.4" y="44.6" font-size="16" fill="#1e1e1e">(a)</text><text x="426.9" y="44.6" font-size="16" fill="#1e1e1e">(b)</text><text x="28.4" y="361.7" font-size="16" fill="#1e1e1e">(c)</text><text x="150.1" y="127.8" font-size="15.5" text-anchor="middle" fill="#1e1e1e">P</text><text x="260.8" y="137.5" font-size="15.5" text-anchor="middle" fill="#1e1e1e">S</text><text x="243.2" y="205.4" font-size="15.5" text-anchor="middle" fill="#1e1e1e">O</text><text x="161.6" y="249" font-size="15.5" text-anchor="middle" fill="#1e1e1e">L</text><rect x="277.5" y="238.3" width="108.7" height="80.3" fill="#fff"/><text x="282.8" y="248.3" font-size="11" fill="#1e1e1e">Number of buildings</text><rect x="282.2" y="251.0" width="13.5" height="9.0" fill="#fce645"/><text x="304.8" y="259.4" font-size="11" fill="#1e1e1e">1 - 100</text><rect x="282.2" y="262.0" width="13.5" height="9.0" fill="#8bd567"/><text x="304.8" y="270.4" font-size="11" fill="#1e1e1e">100 - 200</text><rect x="282.2" y="273.0" width="13.5" height="9.0" fill="#41b690"/><text x="304.8" y="281.4" font-size="11" fill="#1e1e1e">200 - 300</text><rect x="282.2" y="284.0" width="13.5" height="9.0" fill="#438aa0"/><text x="304.8" y="292.4" font-size="11" fill="#1e1e1e">300 - 400</text><rect x="282.2" y="295.0" width="13.5" height="9.0" fill="#5b5fa5"/><text x="304.8" y="303.4" font-size="11" fill="#1e1e1e">400 - 500</text><rect x="282.2" y="306.0" width="13.5" height="9.0" fill="#622570"/><text x="304.8" y="314.4" font-size="11" fill="#1e1e1e">500 - 598</text><rect x="670.6" y="213.4" width="114.1" height="104.6" fill="#fff"/><text x="673.8" y="224.0" font-size="11.2" fill="#1e1e1e">Median footprint of</text><text x="673.8" y="235.5" font-size="11.2" fill="#1e1e1e">buildings (m<tspan font-size="7.5" dy="-4">2</tspan><tspan dy="4">)</tspan></text><rect x="673.8" y="241.3" width="13.1" height="8.0" fill="#fce645"/><text x="696.1" y="248.7" font-size="11.2" fill="#1e1e1e">13.5 - 75</text><rect x="673.8" y="254.4" width="13.1" height="8.0" fill="#8bd567"/><text x="696.1" y="261.8" font-size="11.2" fill="#1e1e1e">75 - 85.3</text><rect x="673.8" y="267.4" width="13.1" height="8.0" fill="#41b690"/><text x="696.1" y="274.8" font-size="11.2" fill="#1e1e1e">85.3 - 91.8</text><rect x="673.8" y="280.5" width="13.1" height="8.0" fill="#438aa0"/><text x="696.1" y="287.9" font-size="11.2" fill="#1e1e1e">91.8 - 98.9</text><rect x="673.8" y="293.5" width="13.1" height="8.0" fill="#5b5fa5"/><text x="696.1" y="300.9" font-size="11.2" fill="#1e1e1e">98.9 - 114.1</text><rect x="673.8" y="306.6" width="13.1" height="8.0" fill="#622570"/><text x="696.1" y="313.9" font-size="11.2" fill="#1e1e1e">114.1 - 17,186.1</text><rect x="269.2" y="542.5" width="117.5" height="90.5" fill="#fff"/><text x="272.0" y="552.7" font-size="11" fill="#1e1e1e">Building grid cell area</text><text x="272.0" y="563.7" font-size="11" fill="#1e1e1e">coverage (%)</text><rect x="272.0" y="566.5" width="12.5" height="8.1" fill="#fce645"/><text x="294.1" y="574.0" font-size="11" fill="#1e1e1e">0 - 6</text><rect x="272.0" y="577.6" width="12.5" height="8.1" fill="#8bd567"/><text x="294.1" y="585.1" font-size="11" fill="#1e1e1e">6 - 12</text><rect x="272.0" y="588.7" width="12.5" height="8.1" fill="#41b690"/><text x="294.1" y="596.2" font-size="11" fill="#1e1e1e">12 - 18</text><rect x="272.0" y="599.7" width="12.5" height="8.1" fill="#438aa0"/><text x="294.1" y="607.2" font-size="11" fill="#1e1e1e">18 - 24</text><rect x="272.0" y="610.8" width="12.5" height="8.1" fill="#5b5fa5"/><text x="294.1" y="618.3" font-size="11" fill="#1e1e1e">24 - 30</text><rect x="272.0" y="621.9" width="12.5" height="8.1" fill="#622570"/><text x="294.1" y="629.4" font-size="11" fill="#1e1e1e">30 - 37</text><text x="32.0" y="296.3" font-size="10.5" fill="#1e1e1e">0</text><text x="77.1" y="296.3" font-size="10.5" fill="#1e1e1e">5 km</text><rect x="34.1" y="300.0" width="46.6" height="9.8" fill="#000"/><path d="M107.8 294.4L101.5 310.1L107.8 304.2Z" fill="#e6e6e6"/><path d="M107.8 294.4L101.5 310.1L107.8 304.2L114.1 309.7Z" fill="none" stroke="#333" stroke-width="0.9" stroke-linejoin="miter"/><text x="430.5" y="296.3" font-size="10.5" fill="#1e1e1e">0</text><text x="475.6" y="296.3" font-size="10.5" fill="#1e1e1e">5 km</text><rect x="432.6" y="300.0" width="46.6" height="9.8" fill="#000"/><path d="M506.3 294.4L500.0 310.1L506.3 304.2Z" fill="#e6e6e6"/><path d="M506.3 294.4L500.0 310.1L506.3 304.2L512.6 309.7Z" fill="none" stroke="#333" stroke-width="0.9" stroke-linejoin="miter"/><text x="34.4" y="607.8" font-size="10.5" fill="#1e1e1e">0</text><text x="79.4" y="607.8" font-size="10.5" fill="#1e1e1e">5 km</text><rect x="36.7" y="611.9" width="46.3" height="9.4" fill="#000"/><path d="M110.2 606.0L103.9 621.7L110.2 615.8Z" fill="#e6e6e6"/><path d="M110.2 606.0L103.9 621.7L110.2 615.8L116.5 621.3Z" fill="none" stroke="#333" stroke-width="0.9" stroke-linejoin="miter"/><rect x="26.5" y="27.6" width="362.7" height="296.4" fill="none" stroke="#333" stroke-width="1"/><rect x="425.0" y="27.6" width="362.7" height="296.4" fill="none" stroke="#333" stroke-width="1"/><rect x="26.5" y="344.7" width="362.7" height="296.4" fill="none" stroke="#333" stroke-width="1"/><rect x="424.3" y="343.6" width="363.4" height="297.6" fill="none" stroke="#444" stroke-width="1"/><text x="426.4" y="360.3" font-size="17" fill="#1e1e1e">(d)</text><line x1="494.1" x2="777.3" y1="540.0" y2="540.0" stroke="#f4f4f4" stroke-width="0.6"/><line x1="494.1" x2="777.3" y1="487.3" y2="487.3" stroke="#f4f4f4" stroke-width="0.6"/><line x1="494.1" x2="777.3" y1="434.6" y2="434.6" stroke="#f4f4f4" stroke-width="0.6"/><line x1="494.1" x2="777.3" y1="381.9" y2="381.9" stroke="#f4f4f4" stroke-width="0.6"/><line x1="494.1" x2="777.3" y1="513.7" y2="513.7" stroke="#ebebeb" stroke-width="1"/><line x1="494.1" x2="777.3" y1="460.9" y2="460.9" stroke="#ebebeb" stroke-width="1"/><line x1="494.1" x2="777.3" y1="408.2" y2="408.2" stroke="#ebebeb" stroke-width="1"/><rect x="494.1" y="355.5" width="283.2" height="210.9" fill="none" stroke="#b8b8b8" stroke-width="0.9"/><line x1="491.5" x2="494.1" y1="566.4" y2="566.4" stroke="#333" stroke-width="0.8"/><text x="490.5" y="570.3" font-size="11" text-anchor="end" fill="#333">0</text><line x1="491.5" x2="494.1" y1="513.7" y2="513.7" stroke="#333" stroke-width="0.8"/><text x="490.5" y="517.6" font-size="11" text-anchor="end" fill="#333">250</text><line x1="491.5" x2="494.1" y1="460.9" y2="460.9" stroke="#333" stroke-width="0.8"/><text x="490.5" y="464.8" font-size="11" text-anchor="end" fill="#333">500</text><line x1="491.5" x2="494.1" y1="408.2" y2="408.2" stroke="#333" stroke-width="0.8"/><text x="490.5" y="412.1" font-size="11" text-anchor="end" fill="#333">750</text><line x1="491.5" x2="494.1" y1="355.5" y2="355.5" stroke="#333" stroke-width="0.8"/><text x="490.5" y="359.4" font-size="11" text-anchor="end" fill="#333">1000</text><text x="458.6" y="461" font-size="11.2" text-anchor="middle" fill="#1e1e1e" transform="rotate(-90 458.6 461)">Building size (m<tspan font-size="7.5" dy="-4.5">2</tspan><tspan dy="4.5">)</tspan></text><line x1="547.7" x2="547.7" y1="566.4" y2="569.0" stroke="#333" stroke-width="0.8"/><text x="552.6" y="570.6" font-size="11.5" text-anchor="end" fill="#1e1e1e" transform="rotate(-90 552.6 570.6)">Urban</text><line x1="635.8" x2="635.8" y1="566.4" y2="569.0" stroke="#333" stroke-width="0.8"/><text x="635.6" y="570.6" font-size="11.5" text-anchor="end" fill="#1e1e1e" transform="rotate(-90 635.6 570.6)">Industrial/</text><text x="646.9" y="570.6" font-size="11.5" text-anchor="end" fill="#1e1e1e" transform="rotate(-90 646.9 570.6)">commercial</text><line x1="724.3" x2="724.3" y1="566.4" y2="569.0" stroke="#333" stroke-width="0.8"/><text x="729.5" y="570.6" font-size="11.5" text-anchor="end" fill="#1e1e1e" transform="rotate(-90 729.5 570.6)">Other</text><text x="635.9" y="638.6" font-size="11.2" text-anchor="middle" fill="#1e1e1e">Building land cover</text><path d="M547.7 564.5 L544.7 564.0 L542.3 563.4 L537.7 562.7 L531.5 561.8 L525.7 560.6 L520.8 559.1 L517.9 557.2 L516.5 555.5 L515.9 553.8 L516.5 551.5 L517.1 549.5 L518.0 547.3 L519.5 545.2 L521.8 543.0 L526.2 539.3 L531.0 535.5 L533.6 532.8 L535.8 530.1 L539.4 526.0 L542.3 521.5 L544.3 517.5 L545.5 514.0 L546.3 505.0 L546.6 495.0 L546.9 480.0 L547.1 460.0 L547.2 420.0 L547.3 355.5 L548.1 355.5 L548.2 420.0 L548.3 460.0 L548.5 480.0 L548.8 495.0 L549.1 505.0 L549.9 514.0 L551.1 517.5 L553.1 521.5 L556.0 526.0 L559.6 530.1 L561.8 532.8 L564.4 535.5 L569.2 539.3 L573.6 543.0 L575.9 545.2 L577.4 547.3 L578.3 549.5 L578.9 551.5 L579.5 553.8 L578.9 555.5 L577.5 557.2 L574.6 559.1 L569.7 560.6 L563.9 561.8 L557.7 562.7 L553.1 563.4 L550.7 564.0 L547.7 564.5Z" fill="#fff" stroke="#333" stroke-width="0.8" stroke-linejoin="round"/><line x1="547.7" x2="547.7" y1="566.3" y2="514.3" stroke="#333" stroke-width="0.8"/><rect x="542.7" y="538.3" width="9.2" height="16.3" fill="#fff" stroke="#333" stroke-width="0.8"/><line x1="542.7" x2="551.9" y1="547.6" y2="547.6" stroke="#222" stroke-width="1.5"/><circle cx="547.7" cy="542.6" r="1.9" fill="#000"/><rect x="518.9" y="536.3" width="18.7" height="7.0" rx="1.5" fill="#fff" stroke="#555" stroke-width="0.5"/><text x="528.2" y="541.9" font-size="6.4" text-anchor="middle" fill="#333">110.6</text><path d="M635.8 566.8 L634.3 566.2 L632.5 565.6 L627.8 564.7 L622.9 563.7 L617.8 562.2 L613.0 560.6 L608.8 558.8 L605.9 557.0 L604.3 554.5 L606.6 551.4 L609.6 548.4 L612.7 545.3 L616.1 542.2 L619.5 539.1 L623.2 535.5 L626.3 531.8 L628.0 528.0 L629.3 524.4 L630.3 519.5 L631.2 514.6 L632.2 507.0 L632.8 500.0 L633.3 490.0 L633.6 480.0 L633.9 470.0 L634.2 450.0 L634.4 433.0 L634.6 400.0 L634.8 380.0 L635.2 355.5 L636.4 355.5 L636.8 380.0 L637.0 400.0 L637.2 433.0 L637.4 450.0 L637.7 470.0 L638.0 480.0 L638.3 490.0 L638.8 500.0 L639.4 507.0 L640.4 514.6 L641.3 519.5 L642.3 524.4 L643.6 528.0 L645.3 531.8 L648.4 535.5 L652.1 539.1 L655.5 542.2 L658.9 545.3 L662.0 548.4 L665.0 551.4 L667.3 554.5 L665.7 557.0 L662.8 558.8 L658.6 560.6 L653.8 562.2 L648.7 563.7 L643.8 564.7 L639.1 565.6 L637.3 566.2 L635.8 566.8Z" fill="#fff" stroke="#333" stroke-width="0.8" stroke-linejoin="round"/><line x1="635.8" x2="635.8" y1="568.5999999999999" y2="484.5" stroke="#333" stroke-width="0.8"/><rect x="631.3" y="524.5" width="9.1" height="30.0" fill="#fff" stroke="#333" stroke-width="0.8"/><line x1="631.3" x2="640.4" y1="545.3" y2="545.3" stroke="#222" stroke-width="1.5"/><circle cx="635.8" cy="529.2" r="1.9" fill="#000"/><rect x="606.6" y="522.2" width="19.9" height="7.3" rx="1.5" fill="#fff" stroke="#555" stroke-width="0.5"/><text x="616.5" y="528.1" font-size="6.4" text-anchor="middle" fill="#333">175.7</text><path d="M724.3 563.9 L714.3 563.7 L710.3 563.3 L706.8 562.4 L704.3 561.3 L699.8 559.8 L695.8 558.2 L693.5 555.8 L693.1 553.9 L694.0 551.4 L697.0 547.8 L700.1 544.1 L704.1 540.4 L708.1 536.7 L710.8 534.2 L713.0 531.8 L714.7 528.0 L716.1 524.4 L717.5 519.5 L718.6 514.6 L720.3 508.5 L721.6 502.3 L722.2 497.0 L722.3 490.0 L722.5 480.0 L722.5 470.0 L722.7 460.0 L722.8 450.0 L722.9 440.0 L722.6 420.0 L722.8 410.0 L723.1 395.0 L722.9 385.0 L723.3 370.0 L723.8 355.5 L724.8 355.5 L725.3 370.0 L725.7 385.0 L725.5 395.0 L725.8 410.0 L726.0 420.0 L725.7 440.0 L725.8 450.0 L725.9 460.0 L726.1 470.0 L726.1 480.0 L726.3 490.0 L726.4 497.0 L727.0 502.3 L728.3 508.5 L730.0 514.6 L731.1 519.5 L732.5 524.4 L733.9 528.0 L735.6 531.8 L737.8 534.2 L740.5 536.7 L744.5 540.4 L748.5 544.1 L751.6 547.8 L754.6 551.4 L755.5 553.9 L755.1 555.8 L752.8 558.2 L748.8 559.8 L744.3 561.3 L741.8 562.4 L738.3 563.3 L734.3 563.7 L724.3 563.9Z" fill="#fff" stroke="#333" stroke-width="0.8" stroke-linejoin="round"/><line x1="724.3" x2="724.3" y1="565.6999999999999" y2="487.29999999999995" stroke="#333" stroke-width="0.8"/><rect x="719.6" y="527.3" width="9.2" height="26.8" fill="#fff" stroke="#333" stroke-width="0.8"/><line x1="719.6" x2="728.8" y1="545.5" y2="545.5" stroke="#222" stroke-width="1.5"/><circle cx="724.3" cy="531.8" r="1.9" fill="#000"/><rect x="695.7" y="525.0" width="19.3" height="7.4" rx="1.5" fill="#fff" stroke="#555" stroke-width="0.5"/><text x="705.4" y="531.0" font-size="6.4" text-anchor="middle" fill="#333">164.3</text><rect x="435.5" y="591.3" width="100.9" height="46.3" fill="#fff" stroke="#888" stroke-width="0.7"/><text x="439.3" y="601.8" font-size="6.8" fill="#333" xml:space="preserve">Building count:</text><text x="441.3" y="611.3" font-size="6.8" fill="#333" xml:space="preserve">Urban:  403,295</text><text x="441.3" y="621.8" font-size="6.8" fill="#333" xml:space="preserve">Industrial/commercial:  24,435</text><text x="441.3" y="631.3" font-size="6.8" fill="#333" xml:space="preserve">Other:  1200</text></svg></body></html>
